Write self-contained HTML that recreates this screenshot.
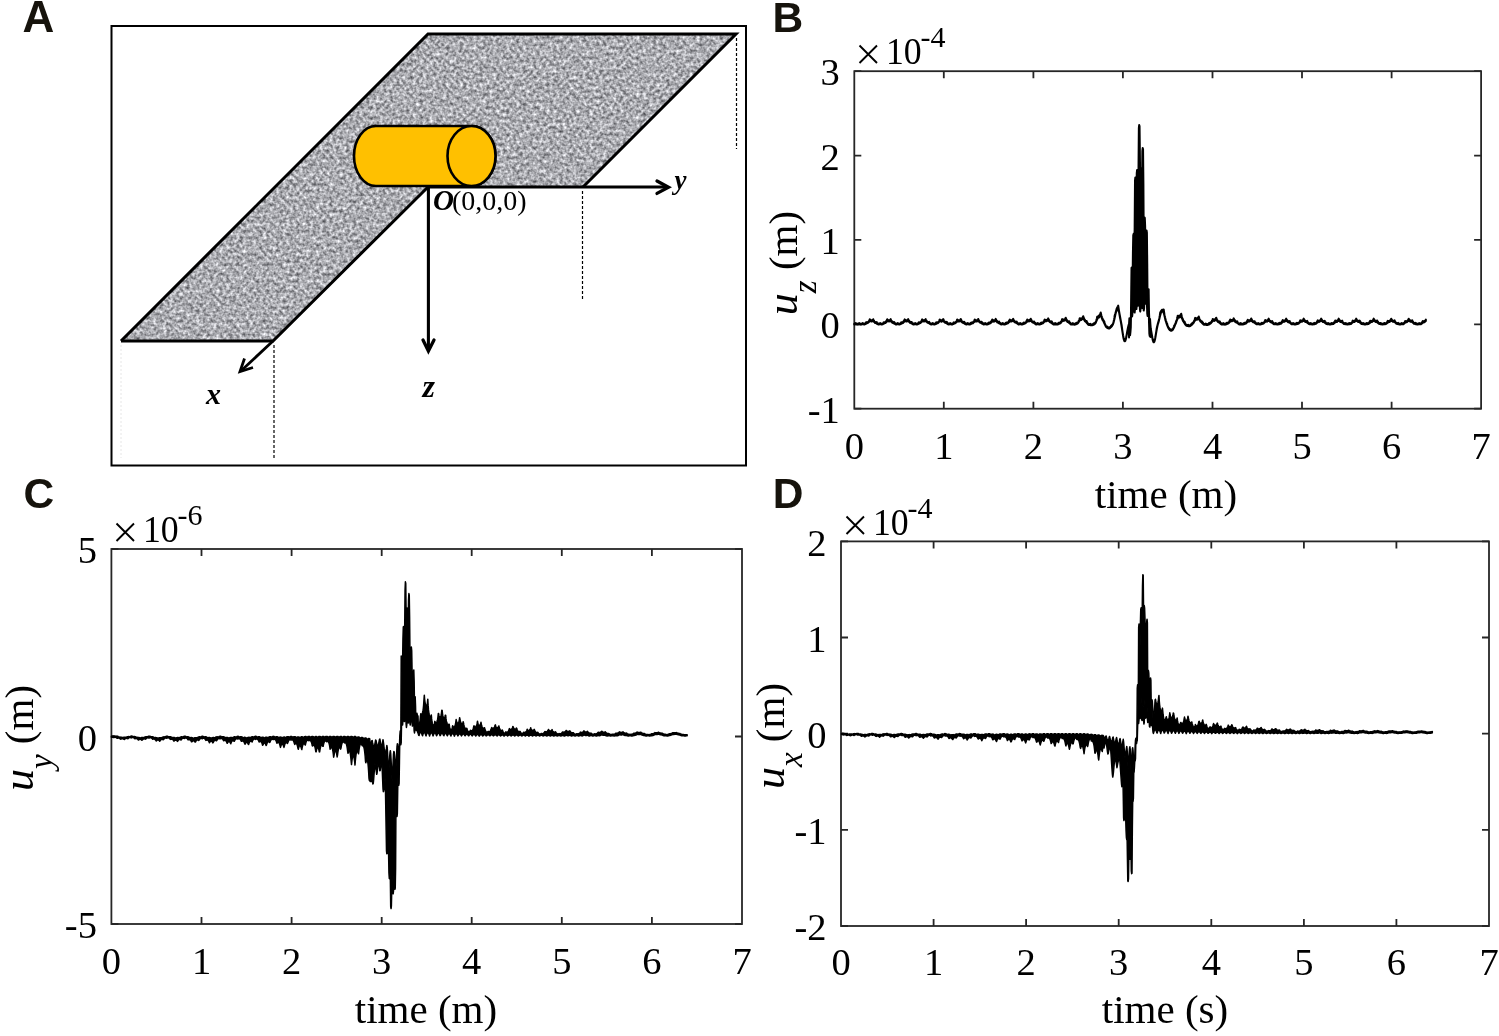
<!DOCTYPE html><html><head><meta charset="utf-8"><style>html,body{margin:0;padding:0;background:#fff;overflow:hidden}svg{display:block;will-change:transform}</style></head><body>
<svg width="1499" height="1036" viewBox="0 0 1499 1036">
<defs><filter id="granite" x="110" y="30" width="640" height="320" filterUnits="userSpaceOnUse" color-interpolation-filters="sRGB"><feTurbulence type="fractalNoise" baseFrequency="0.3" numOctaves="2" seed="7"/><feColorMatrix type="matrix" values="0.95 0 0 0 0.195  0.95 0 0 0 0.198  0.95 0 0 0 0.218  0 0 0 0 1"/><feGaussianBlur stdDeviation="0.65"/></filter>
<clipPath id="strip"><polygon points="428,34 737,34 583,187 428,187 273,341 121,341"/></clipPath></defs>
<rect width="1499" height="1036" fill="#fff"/>
<text font-family="'Liberation Sans', sans-serif" font-weight="bold" font-size="44" fill="#16130c" x="22.5" y="32">A</text>
<text font-family="'Liberation Sans', sans-serif" font-weight="bold" font-size="42.5" fill="#16130c" x="772.5" y="32">B</text>
<text font-family="'Liberation Sans', sans-serif" font-weight="bold" font-size="42.5" fill="#16130c" x="23.5" y="508">C</text>
<text font-family="'Liberation Sans', sans-serif" font-weight="bold" font-size="42.5" fill="#16130c" x="772.8" y="508">D</text>
<rect x="111.5" y="26" width="634.5" height="439.5" fill="none" stroke="#000" stroke-width="2"/>
<g clip-path="url(#strip)"><rect x="110" y="30" width="640" height="320" filter="url(#granite)"/></g>
<path d="M736.5 38V149M582.5 191V300M274 345V458" stroke="#000" stroke-width="1.2" stroke-dasharray="3,2" fill="none"/>
<path d="M121 345V458" stroke="#e6e6e6" stroke-width="1" stroke-dasharray="2,2"/>
<g stroke="#000" stroke-width="3" fill="none" stroke-linejoin="miter">
<path d="M121 341L428 34H736L583 187"/>
<path d="M121 341H273L428 187"/>
</g>
<g stroke="#000" stroke-width="2.6" fill="#FFC000">
<path d="M376 126H471.5A24 30 0 0 1 471.5 186H376A22 30 0 0 1 376 126Z"/>
<ellipse cx="471.5" cy="156" rx="24" ry="30"/>
</g>
<g stroke="#000" stroke-width="2.8" fill="none">
<path d="M428 187H666"/><path d="M657 181L668.5 187.2L657 193.4" stroke-width="3.3" stroke-linecap="round"/>
<path d="M428.4 187V350" stroke-width="3.1"/><path d="M423 340L428.4 351L434 340" stroke-width="3.3" stroke-linecap="round"/>
<path d="M273 341L242 370"/><path d="M244.5 358.5L240 371.5L253 367.5" stroke-linejoin="miter"/>
</g>
<g font-family="'Liberation Serif', serif" font-weight="bold" font-style="italic" fill="#000">
<text x="206" y="404" font-size="30">x</text>
<text x="422.5" y="397" font-size="32">z</text>
<text x="674.5" y="188.5" font-size="27">y</text>
<text x="433" y="210" font-size="29">O</text>
</g>
<text font-family="'Liberation Serif', serif" font-size="28" x="452" y="210">(0,0,0)</text>
<g stroke="#262626" stroke-width="1.8" fill="none">
<rect x="854.3" y="71.2" width="626.8" height="337.5"/>
<path d="M943.8 408.7V401.7M943.8 71.2V78.2M1033.4 408.7V401.7M1033.4 71.2V78.2M1122.9 408.7V401.7M1122.9 71.2V78.2M1212.5 408.7V401.7M1212.5 71.2V78.2M1302.0 408.7V401.7M1302.0 71.2V78.2M1391.6 408.7V401.7M1391.6 71.2V78.2M854.3 71.2H861.3M1481.1 71.2H1474.1M854.3 155.6H861.3M1481.1 155.6H1474.1M854.3 239.9H861.3M1481.1 239.9H1474.1M854.3 324.3H861.3M1481.1 324.3H1474.1M854.3 408.7H861.3M1481.1 408.7H1474.1"/>
</g>
<g font-family="'Liberation Serif', serif" font-size="38.5" fill="#000">
<text x="839.8" y="85.3" text-anchor="end">3</text>
<text x="839.8" y="169.7" text-anchor="end">2</text>
<text x="839.8" y="254.0" text-anchor="end">1</text>
<text x="839.8" y="338.4" text-anchor="end">0</text>
<text x="839.8" y="422.8" text-anchor="end">-1</text>
<text x="854.3" y="458.7" text-anchor="middle">0</text>
<text x="943.8" y="458.7" text-anchor="middle">1</text>
<text x="1033.4" y="458.7" text-anchor="middle">2</text>
<text x="1122.9" y="458.7" text-anchor="middle">3</text>
<text x="1212.5" y="458.7" text-anchor="middle">4</text>
<text x="1302.0" y="458.7" text-anchor="middle">5</text>
<text x="1391.6" y="458.7" text-anchor="middle">6</text>
<text x="1481.1" y="458.7" text-anchor="middle">7</text>
</g>
<path d="M859.5 45.5l17.5 17.5M877.0 45.5l-17.5 17.5" stroke="#000" stroke-width="1.9" fill="none"/>
<text font-family="'Liberation Serif', serif" font-size="38.5" x="886.0" y="64.0" textLength="35.7" lengthAdjust="spacingAndGlyphs">10</text>
<text font-family="'Liberation Serif', serif" font-size="30" x="920.5" y="47.0">-4</text>
<text font-family="'Liberation Serif', serif" font-size="41" x="1166" y="508" text-anchor="middle">time (m)</text>
<text font-family="'Liberation Serif', serif" font-size="41" transform="translate(797,263) rotate(-90)" text-anchor="middle"><tspan font-style="italic" font-size="44">u</tspan><tspan font-style="italic" font-size="33" dy="18.5">z</tspan><tspan dy="-18.5"> (m)</tspan></text>
<path fill="#000" stroke="#000" stroke-width="2.0" stroke-linejoin="round" d="M854.30,323.65 L854.65,323.61 L855.00,323.52 L855.35,323.32 L855.70,322.99 L856.05,323.24 L856.40,323.47 L856.75,323.59 L857.10,323.64 L857.45,323.65 L857.80,323.65 L858.15,323.61 L858.50,323.52 L858.85,323.32 L859.20,322.99 L859.55,323.24 L859.90,323.47 L860.25,323.59 L860.60,323.64 L860.95,323.65 L861.30,323.65 L861.65,323.61 L862.00,323.52 L862.35,323.32 L862.70,322.99 L863.05,323.24 L863.40,323.47 L863.75,323.59 L864.10,323.64 L864.45,323.62 L864.80,323.55 L865.15,323.42 L865.50,323.17 L865.85,322.77 L866.20,322.13 L866.55,322.21 L866.90,322.28 L867.25,322.21 L867.60,322.04 L867.95,321.81 L868.30,321.55 L868.65,321.25 L869.00,320.82 L869.35,320.18 L869.70,319.24 L870.05,319.62 L870.40,320.01 L870.75,320.20 L871.10,320.25 L871.45,320.25 L871.80,320.25 L872.15,320.22 L872.50,320.08 L872.85,319.75 L873.20,319.18 L873.55,319.95 L873.90,320.67 L874.25,321.15 L874.60,321.48 L874.95,321.74 L875.30,321.98 L875.65,322.17 L876.00,322.28 L876.35,322.25 L876.70,322.06 L877.05,322.61 L877.40,323.08 L877.75,323.36 L878.10,323.52 L878.45,323.61 L878.80,323.64 L879.15,323.61 L879.50,323.52 L879.85,323.32 L880.20,322.99 L880.55,323.24 L880.90,323.47 L881.25,323.59 L881.60,323.64 L881.95,323.63 L882.30,323.57 L882.65,323.44 L883.00,323.20 L883.35,322.81 L883.70,322.18 L884.05,322.26 L884.40,322.33 L884.75,322.26 L885.10,322.09 L885.45,321.86 L885.80,321.60 L886.15,321.30 L886.50,320.87 L886.85,320.23 L887.20,319.29 L887.55,319.65 L887.90,320.03 L888.25,320.21 L888.60,320.26 L888.95,320.25 L889.30,320.25 L889.65,320.21 L890.00,320.06 L890.35,319.72 L890.70,319.14 L891.05,319.91 L891.40,320.62 L891.75,321.10 L892.10,321.43 L892.45,321.69 L892.80,321.93 L893.15,322.12 L893.50,322.22 L893.85,322.19 L894.20,322.01 L894.55,322.57 L894.90,323.04 L895.25,323.33 L895.60,323.50 L895.95,323.59 L896.30,323.64 L896.65,323.61 L897.00,323.52 L897.35,323.32 L897.70,322.99 L898.05,323.24 L898.40,323.47 L898.75,323.59 L899.10,323.64 L899.45,323.64 L899.80,323.58 L900.15,323.46 L900.50,323.23 L900.85,322.84 L901.20,322.23 L901.55,322.31 L901.90,322.38 L902.25,322.31 L902.60,322.14 L902.95,321.91 L903.30,321.65 L903.65,321.35 L904.00,320.92 L904.35,320.27 L904.70,319.33 L905.05,319.69 L905.40,320.06 L905.75,320.23 L906.10,320.27 L906.45,320.26 L906.80,320.24 L907.15,320.20 L907.50,320.04 L907.85,319.69 L908.20,319.10 L908.55,319.86 L908.90,320.58 L909.25,321.05 L909.60,321.38 L909.95,321.64 L910.30,321.88 L910.65,322.07 L911.00,322.17 L911.35,322.14 L911.70,321.95 L912.05,322.53 L912.40,323.01 L912.75,323.31 L913.10,323.48 L913.45,323.58 L913.80,323.63 L914.15,323.61 L914.50,323.52 L914.85,323.32 L915.20,322.99 L915.55,323.24 L915.90,323.47 L916.25,323.59 L916.60,323.64 L916.95,323.64 L917.30,323.59 L917.65,323.48 L918.00,323.26 L918.35,322.88 L918.70,322.28 L919.05,322.36 L919.40,322.43 L919.75,322.36 L920.10,322.19 L920.45,321.96 L920.80,321.70 L921.15,321.39 L921.50,320.96 L921.85,320.32 L922.20,319.38 L922.55,319.72 L922.90,320.09 L923.25,320.25 L923.60,320.28 L923.95,320.26 L924.30,320.24 L924.65,320.19 L925.00,320.02 L925.35,319.67 L925.70,319.06 L926.05,319.82 L926.40,320.53 L926.75,321.01 L927.10,321.33 L927.45,321.59 L927.80,321.83 L928.15,322.02 L928.50,322.12 L928.85,322.09 L929.20,321.90 L929.55,322.48 L929.90,322.97 L930.25,323.28 L930.60,323.46 L930.95,323.56 L931.30,323.62 L931.65,323.61 L932.00,323.52 L932.35,323.32 L932.70,322.99 L933.05,323.24 L933.40,323.47 L933.75,323.59 L934.10,323.64 L934.45,323.65 L934.80,323.61 L935.15,323.50 L935.50,323.29 L935.85,322.92 L936.20,322.33 L936.55,322.41 L936.90,322.48 L937.25,322.41 L937.60,322.24 L937.95,322.01 L938.30,321.75 L938.65,321.44 L939.00,321.01 L939.35,320.37 L939.70,319.43 L940.05,319.76 L940.40,320.11 L940.75,320.27 L941.10,320.30 L941.45,320.26 L941.80,320.24 L942.15,320.18 L942.50,320.00 L942.85,319.64 L943.20,319.03 L943.55,319.78 L943.90,320.49 L944.25,320.96 L944.60,321.29 L944.95,321.54 L945.30,321.78 L945.65,321.97 L946.00,322.07 L946.35,322.04 L946.70,321.84 L947.05,322.43 L947.40,322.93 L947.75,323.25 L948.10,323.44 L948.45,323.55 L948.80,323.61 L949.15,323.61 L949.50,323.52 L949.85,323.32 L950.20,322.99 L950.55,323.24 L950.90,323.47 L951.25,323.59 L951.60,323.64 L951.95,323.65 L952.30,323.62 L952.65,323.52 L953.00,323.31 L953.35,322.95 L953.70,322.37 L954.05,322.45 L954.40,322.52 L954.75,322.46 L955.10,322.29 L955.45,322.06 L955.80,321.80 L956.15,321.49 L956.50,321.06 L956.85,320.41 L957.20,319.47 L957.55,319.80 L957.90,320.14 L958.25,320.29 L958.60,320.31 L958.95,320.27 L959.30,320.24 L959.65,320.17 L960.00,319.99 L960.35,319.61 L960.70,318.99 L961.05,319.74 L961.40,320.45 L961.75,320.92 L962.10,321.24 L962.45,321.49 L962.80,321.73 L963.15,321.92 L963.50,322.02 L963.85,321.98 L964.20,321.79 L964.55,322.39 L964.90,322.89 L965.25,323.22 L965.60,323.41 L965.95,323.53 L966.30,323.60 L966.65,323.61 L967.00,323.52 L967.35,323.32 L967.70,322.99 L968.05,323.24 L968.40,323.47 L968.75,323.59 L969.10,323.64 L969.45,323.65 L969.80,323.62 L970.15,323.53 L970.50,323.34 L970.85,322.98 L971.20,322.41 L971.55,322.50 L971.90,322.57 L972.25,322.51 L972.60,322.34 L972.95,322.10 L973.30,321.85 L973.65,321.54 L974.00,321.10 L974.35,320.46 L974.70,319.52 L975.05,319.83 L975.40,320.17 L975.75,320.31 L976.10,320.32 L976.45,320.27 L976.80,320.23 L977.15,320.16 L977.50,319.97 L977.85,319.58 L978.20,318.95 L978.55,319.70 L978.90,320.40 L979.25,320.87 L979.60,321.19 L979.95,321.44 L980.30,321.68 L980.65,321.87 L981.00,321.96 L981.35,321.93 L981.70,321.73 L982.05,322.34 L982.40,322.85 L982.75,323.18 L983.10,323.39 L983.45,323.51 L983.80,323.59 L984.15,323.60 L984.50,323.52 L984.85,323.32 L985.20,322.99 L985.55,323.24 L985.90,323.47 L986.25,323.59 L986.60,323.64 L986.95,323.65 L987.30,323.63 L987.65,323.55 L988.00,323.36 L988.35,323.01 L988.70,322.46 L989.05,322.54 L989.40,322.61 L989.75,322.55 L990.10,322.38 L990.45,322.15 L990.80,321.89 L991.15,321.58 L991.50,321.14 L991.85,320.50 L992.20,319.55 L992.55,319.86 L992.90,320.18 L993.25,320.32 L993.60,320.32 L993.95,320.27 L994.30,320.22 L994.65,320.14 L995.00,319.94 L995.35,319.55 L995.70,318.90 L996.05,319.64 L996.40,320.35 L996.75,320.82 L997.10,321.13 L997.45,321.38 L997.80,321.62 L998.15,321.81 L998.50,321.91 L998.85,321.87 L999.20,321.67 L999.55,322.29 L999.90,322.81 L1000.25,323.15 L1000.60,323.36 L1000.95,323.49 L1001.30,323.58 L1001.65,323.60 L1002.00,323.52 L1002.35,323.32 L1002.70,322.99 L1003.05,323.24 L1003.40,323.47 L1003.75,323.59 L1004.10,323.64 L1004.45,323.65 L1004.80,323.64 L1005.15,323.56 L1005.50,323.38 L1005.85,323.04 L1006.20,322.50 L1006.55,322.59 L1006.90,322.66 L1007.25,322.59 L1007.60,322.42 L1007.95,322.19 L1008.30,321.93 L1008.65,321.61 L1009.00,321.17 L1009.35,320.52 L1009.70,319.57 L1010.05,319.87 L1010.40,320.18 L1010.75,320.31 L1011.10,320.30 L1011.45,320.24 L1011.80,320.19 L1012.15,320.10 L1012.50,319.89 L1012.85,319.49 L1013.20,318.82 L1013.55,319.57 L1013.90,320.28 L1014.25,320.75 L1014.60,321.06 L1014.95,321.31 L1015.30,321.55 L1015.65,321.75 L1016.00,321.84 L1016.35,321.80 L1016.70,321.60 L1017.05,322.23 L1017.40,322.77 L1017.75,323.12 L1018.10,323.33 L1018.45,323.47 L1018.80,323.56 L1019.15,323.59 L1019.50,323.52 L1019.85,323.32 L1020.20,322.99 L1020.55,323.24 L1020.90,323.47 L1021.25,323.59 L1021.60,323.64 L1021.95,323.65 L1022.30,323.64 L1022.65,323.57 L1023.00,323.40 L1023.35,323.07 L1023.70,322.54 L1024.05,322.63 L1024.40,322.69 L1024.75,322.63 L1025.10,322.45 L1025.45,322.21 L1025.80,321.95 L1026.15,321.63 L1026.50,321.18 L1026.85,320.52 L1027.20,319.55 L1027.55,319.83 L1027.90,320.14 L1028.25,320.25 L1028.60,320.24 L1028.95,320.17 L1029.30,320.10 L1029.65,320.00 L1030.00,319.78 L1030.35,319.37 L1030.70,318.68 L1031.05,319.44 L1031.40,320.16 L1031.75,320.64 L1032.10,320.96 L1032.45,321.21 L1032.80,321.46 L1033.15,321.66 L1033.50,321.76 L1033.85,321.72 L1034.20,321.52 L1034.55,322.17 L1034.90,322.72 L1035.25,323.08 L1035.60,323.31 L1035.95,323.45 L1036.30,323.55 L1036.65,323.59 L1037.00,323.52 L1037.35,323.33 L1037.70,323.00 L1038.05,323.25 L1038.40,323.48 L1038.75,323.60 L1039.10,323.65 L1039.45,323.66 L1039.80,323.65 L1040.15,323.59 L1040.50,323.43 L1040.85,323.11 L1041.20,322.58 L1041.55,322.67 L1041.90,322.73 L1042.25,322.65 L1042.60,322.47 L1042.95,322.22 L1043.30,321.93 L1043.65,321.59 L1044.00,321.12 L1044.35,320.43 L1044.70,319.43 L1045.05,319.69 L1045.40,319.99 L1045.75,320.09 L1046.10,320.06 L1046.45,319.97 L1046.80,319.89 L1047.15,319.78 L1047.50,319.55 L1047.85,319.11 L1048.20,318.39 L1048.55,319.18 L1048.90,319.93 L1049.25,320.43 L1049.60,320.77 L1049.95,321.04 L1050.30,321.30 L1050.65,321.51 L1051.00,321.63 L1051.35,321.60 L1051.70,321.41 L1052.05,322.09 L1052.40,322.67 L1052.75,323.05 L1053.10,323.29 L1053.45,323.45 L1053.80,323.56 L1054.15,323.60 L1054.50,323.54 L1054.85,323.35 L1055.20,323.02 L1055.55,323.27 L1055.90,323.51 L1056.25,323.63 L1056.60,323.67 L1056.95,323.68 L1057.30,323.68 L1057.65,323.63 L1058.00,323.47 L1058.35,323.16 L1058.70,322.64 L1059.05,322.72 L1059.40,322.77 L1059.75,322.67 L1060.10,322.46 L1060.45,322.18 L1060.80,321.85 L1061.15,321.47 L1061.50,320.94 L1061.85,320.18 L1062.20,319.08 L1062.55,319.31 L1062.90,319.59 L1063.25,319.66 L1063.60,319.60 L1063.95,319.49 L1064.30,319.38 L1064.65,319.25 L1065.00,318.98 L1065.35,318.50 L1065.70,317.73 L1066.05,318.59 L1066.40,319.42 L1066.75,319.97 L1067.10,320.36 L1067.45,320.68 L1067.80,320.98 L1068.15,321.24 L1068.50,321.40 L1068.85,321.41 L1069.20,321.25 L1069.55,322.00 L1069.90,322.63 L1070.25,323.05 L1070.60,323.32 L1070.95,323.51 L1071.30,323.64 L1071.65,323.69 L1072.00,323.65 L1072.35,323.47 L1072.70,323.15 L1073.05,323.40 L1073.40,323.64 L1073.75,323.76 L1074.10,323.81 L1074.45,323.81 L1074.80,323.80 L1075.15,323.75 L1075.50,323.60 L1075.85,323.31 L1076.20,322.80 L1076.55,322.86 L1076.90,322.88 L1077.25,322.74 L1077.60,322.46 L1077.95,322.10 L1078.30,321.69 L1078.65,321.19 L1079.00,320.52 L1079.35,319.59 L1079.70,318.26 L1080.05,318.42 L1080.40,318.64 L1080.75,318.65 L1081.10,318.51 L1081.45,318.32 L1081.80,318.16 L1082.15,317.97 L1082.50,317.64 L1082.85,317.07 L1083.20,316.17 L1083.55,317.23 L1083.90,318.25 L1084.25,318.96 L1084.60,319.47 L1084.95,319.90 L1085.30,320.33 L1085.65,320.71 L1086.00,320.98 L1086.35,321.11 L1086.70,321.06 L1087.05,321.97 L1087.40,322.74 L1087.75,323.26 L1088.10,323.63 L1088.45,323.89 L1088.80,324.08 L1089.15,324.19 L1089.50,324.19 L1089.85,324.05 L1090.20,323.77 L1090.55,324.05 L1090.90,324.29 L1091.25,324.42 L1091.60,324.46 L1091.95,324.44 L1092.30,324.40 L1092.65,324.32 L1093.00,324.15 L1093.35,323.85 L1093.70,323.35 L1094.05,323.38 L1094.40,323.34 L1094.75,323.12 L1095.10,322.73 L1095.45,322.22 L1095.80,321.60 L1096.15,320.85 L1096.50,319.88 L1096.85,318.55 L1097.20,316.67 L1097.55,316.57 L1097.90,316.58 L1098.25,316.37 L1098.60,315.99 L1098.95,315.57 L1099.30,315.23 L1099.65,314.89 L1100.00,314.41 L1100.35,313.64 L1100.70,312.47 L1101.05,314.04 L1101.40,315.58 L1101.75,316.70 L1102.10,317.57 L1102.45,318.33 L1102.80,319.08 L1103.15,319.79 L1103.50,320.40 L1103.85,320.89 L1104.20,321.21 L1104.55,322.54 L1104.90,323.67 L1105.25,324.53 L1105.60,325.21 L1105.95,325.76 L1106.30,326.22 L1106.65,326.58 L1107.00,326.82 L1107.35,326.89 L1107.70,326.78 L1108.05,327.20 L1108.40,327.52 L1108.75,327.67 L1109.10,327.68 L1109.45,327.59 L1109.80,327.41 L1110.15,327.15 L1110.50,326.78 L1110.85,326.26 L1111.20,325.57 L1111.55,325.41 L1111.90,325.18 L1112.25,324.76 L1112.60,324.17 L1112.95,323.41 L1113.30,322.48 L1113.65,321.33 L1114.00,319.88 L1114.35,317.99 L1114.70,315.51 L1115.05,314.37 L1115.40,313.29 L1115.75,312.03 L1116.10,310.69 L1116.45,309.44 L1116.80,308.44 L1117.15,307.68 L1117.50,307.03 L1117.85,306.35 L1118.20,305.56 L1118.55,307.81 L1118.90,310.17 L1119.25,312.22 L1119.60,314.10 L1119.95,315.96 L1120.30,317.88 L1120.65,319.84 L1121.00,321.78 L1121.35,323.69 L1121.70,325.55 L1122.05,328.23 L1122.40,330.81 L1122.75,333.15 L1123.10,335.27 L1123.45,337.11 L1123.80,338.64 L1124.15,339.74 L1124.50,340.33 L1124.85,340.31 L1125.20,339.66 L1125.55,339.09 L1125.90,338.08 L1126.25,336.62 L1126.60,334.86 L1126.95,332.95 L1127.30,331.03 L1127.65,329.21 L1128.00,327.52 L1128.35,326.00 L1128.70,324.63 L1129.05,324.14 L1129.40,318.36 L1129.75,322.00 L1130.10,319.78 L1130.45,319.33 L1130.80,325.20 L1131.15,297.20 L1131.50,267.78 L1131.85,267.33 L1132.20,271.78 L1132.55,284.22 L1132.90,253.33 L1133.25,235.22 L1133.60,233.89 L1133.95,237.00 L1134.30,251.70 L1134.65,227.20 L1135.00,180.56 L1135.35,177.44 L1135.70,179.67 L1136.05,190.33 L1136.40,195.56 L1136.75,173.00 L1137.10,169.89 L1137.45,171.22 L1137.80,179.50 L1138.15,194.67 L1138.50,169.42 L1138.85,128.00 L1139.20,124.89 L1139.55,126.22 L1139.90,154.25 L1140.25,191.50 L1140.60,171.56 L1140.95,168.44 L1141.30,170.67 L1141.65,183.56 L1142.00,187.56 L1142.35,151.00 L1142.70,147.89 L1143.05,149.22 L1143.40,182.67 L1143.75,243.11 L1144.10,222.89 L1144.45,217.33 L1144.80,217.78 L1145.15,226.36 L1145.50,248.64 L1145.85,245.45 L1146.20,233.56 L1146.55,230.44 L1146.90,232.67 L1147.25,263.60 L1147.60,306.40 L1147.95,295.20 L1148.30,289.78 L1148.65,289.33 L1149.00,312.50 L1149.35,319.67 L1149.70,318.67 L1150.05,319.11 L1150.40,324.29 L1150.75,328.52 L1151.10,330.36 L1151.45,332.33 L1151.80,334.37 L1152.15,336.34 L1152.50,338.07 L1152.85,339.40 L1153.20,340.20 L1153.55,341.10 L1153.90,341.45 L1154.25,341.15 L1154.60,340.27 L1154.95,338.90 L1155.30,337.18 L1155.65,335.20 L1156.00,333.04 L1156.35,330.78 L1156.70,328.43 L1157.05,326.83 L1157.40,325.39 L1157.75,324.01 L1158.10,322.69 L1158.45,321.41 L1158.80,320.15 L1159.15,318.79 L1159.50,317.20 L1159.85,315.17 L1160.20,312.53 L1160.55,311.87 L1160.90,311.44 L1161.25,310.87 L1161.60,310.28 L1161.95,309.82 L1162.30,309.63 L1162.65,309.65 L1163.00,309.71 L1163.35,309.68 L1163.70,309.48 L1164.05,311.87 L1164.40,314.16 L1164.75,316.00 L1165.10,317.53 L1165.45,318.90 L1165.80,320.21 L1166.15,321.41 L1166.50,322.44 L1166.85,323.27 L1167.20,323.88 L1167.55,325.07 L1167.90,326.11 L1168.25,326.93 L1168.60,327.61 L1168.95,328.19 L1169.30,328.69 L1169.65,329.10 L1170.00,329.37 L1170.35,329.45 L1170.70,329.30 L1171.05,329.62 L1171.40,329.82 L1171.75,329.80 L1172.10,329.61 L1172.45,329.29 L1172.80,328.86 L1173.15,328.33 L1173.50,327.64 L1173.85,326.76 L1174.20,325.61 L1174.55,325.04 L1174.90,324.43 L1175.25,323.67 L1175.60,322.81 L1175.95,321.88 L1176.30,320.96 L1176.65,320.02 L1177.00,318.95 L1177.35,317.59 L1177.70,315.70 L1178.05,315.80 L1178.40,316.03 L1178.75,316.02 L1179.10,315.84 L1179.45,315.62 L1179.80,315.49 L1180.15,315.36 L1180.50,315.09 L1180.85,314.57 L1181.20,313.70 L1181.55,315.30 L1181.90,316.82 L1182.25,317.92 L1182.60,318.77 L1182.95,319.50 L1183.30,320.22 L1183.65,320.87 L1184.00,321.39 L1184.35,321.74 L1184.70,321.91 L1185.05,322.88 L1185.40,323.67 L1185.75,324.21 L1186.10,324.57 L1186.45,324.83 L1186.80,325.01 L1187.15,325.13 L1187.50,325.14 L1187.85,325.03 L1188.20,324.77 L1188.55,325.05 L1188.90,325.28 L1189.25,325.37 L1189.60,325.36 L1189.95,325.29 L1190.30,325.17 L1190.65,324.98 L1191.00,324.67 L1191.35,324.18 L1191.70,323.46 L1192.05,323.33 L1192.40,323.18 L1192.75,322.87 L1193.10,322.45 L1193.45,321.96 L1193.80,321.45 L1194.15,320.88 L1194.50,320.17 L1194.85,319.22 L1195.20,317.87 L1195.55,318.09 L1195.90,318.38 L1196.25,318.45 L1196.60,318.36 L1196.95,318.23 L1197.30,318.12 L1197.65,318.00 L1198.00,317.73 L1198.35,317.24 L1198.70,316.43 L1199.05,317.52 L1199.40,318.56 L1199.75,319.29 L1200.10,319.82 L1200.45,320.26 L1200.80,320.70 L1201.15,321.08 L1201.50,321.35 L1201.85,321.48 L1202.20,321.43 L1202.55,322.24 L1202.90,322.92 L1203.25,323.37 L1203.60,323.66 L1203.95,323.84 L1204.30,323.97 L1204.65,324.02 L1205.00,323.97 L1205.35,323.80 L1205.70,323.49 L1206.05,323.75 L1206.40,323.99 L1206.75,324.10 L1207.10,324.14 L1207.45,324.12 L1207.80,324.09 L1208.15,324.00 L1208.50,323.80 L1208.85,323.44 L1209.20,322.86 L1209.55,322.89 L1209.90,322.88 L1210.25,322.74 L1210.60,322.48 L1210.95,322.16 L1211.30,321.80 L1211.65,321.39 L1212.00,320.84 L1212.35,320.06 L1212.70,318.95 L1213.05,319.19 L1213.40,319.48 L1213.75,319.57 L1214.10,319.52 L1214.45,319.41 L1214.80,319.31 L1215.15,319.19 L1215.50,318.94 L1215.85,318.47 L1216.20,317.71 L1216.55,318.59 L1216.90,319.43 L1217.25,319.99 L1217.60,320.39 L1217.95,320.72 L1218.30,321.03 L1218.65,321.30 L1219.00,321.46 L1219.35,321.48 L1219.70,321.33 L1220.05,322.07 L1220.40,322.69 L1220.75,323.09 L1221.10,323.36 L1221.45,323.53 L1221.80,323.65 L1222.15,323.69 L1222.50,323.64 L1222.85,323.45 L1223.20,323.13 L1223.55,323.38 L1223.90,323.62 L1224.25,323.74 L1224.60,323.78 L1224.95,323.79 L1225.30,323.78 L1225.65,323.72 L1226.00,323.56 L1226.35,323.25 L1226.70,322.73 L1227.05,322.81 L1227.40,322.86 L1227.75,322.77 L1228.10,322.58 L1228.45,322.32 L1228.80,322.03 L1229.15,321.68 L1229.50,321.20 L1229.85,320.50 L1230.20,319.49 L1230.55,319.74 L1230.90,320.02 L1231.25,320.10 L1231.60,320.06 L1231.95,319.95 L1232.30,319.86 L1232.65,319.73 L1233.00,319.48 L1233.35,319.02 L1233.70,318.28 L1234.05,319.06 L1234.40,319.81 L1234.75,320.31 L1235.10,320.65 L1235.45,320.91 L1235.80,321.17 L1236.15,321.39 L1236.50,321.51 L1236.85,321.48 L1237.20,321.28 L1237.55,321.98 L1237.90,322.58 L1238.25,322.98 L1238.60,323.23 L1238.95,323.40 L1239.30,323.53 L1239.65,323.58 L1240.00,323.54 L1240.35,323.36 L1240.70,323.03 L1241.05,323.28 L1241.40,323.51 L1241.75,323.63 L1242.10,323.68 L1242.45,323.69 L1242.80,323.68 L1243.15,323.64 L1243.50,323.50 L1243.85,323.22 L1244.20,322.73 L1244.55,322.83 L1244.90,322.91 L1245.25,322.85 L1245.60,322.68 L1245.95,322.45 L1246.30,322.18 L1246.65,321.86 L1247.00,321.41 L1247.35,320.75 L1247.70,319.79 L1248.05,320.03 L1248.40,320.29 L1248.75,320.37 L1249.10,320.32 L1249.45,320.22 L1249.80,320.12 L1250.15,319.98 L1250.50,319.72 L1250.85,319.26 L1251.20,318.52 L1251.55,319.26 L1251.90,319.96 L1252.25,320.42 L1252.60,320.73 L1252.95,320.97 L1253.30,321.21 L1253.65,321.40 L1254.00,321.49 L1254.35,321.44 L1254.70,321.22 L1255.05,321.91 L1255.40,322.50 L1255.75,322.90 L1256.10,323.15 L1256.45,323.33 L1256.80,323.46 L1257.15,323.53 L1257.50,323.49 L1257.85,323.33 L1258.20,323.00 L1258.55,323.25 L1258.90,323.48 L1259.25,323.61 L1259.60,323.65 L1259.95,323.66 L1260.30,323.66 L1260.65,323.62 L1261.00,323.50 L1261.35,323.23 L1261.70,322.76 L1262.05,322.88 L1262.40,322.97 L1262.75,322.92 L1263.10,322.77 L1263.45,322.55 L1263.80,322.30 L1264.15,321.99 L1264.50,321.56 L1264.85,320.92 L1265.20,319.99 L1265.55,320.21 L1265.90,320.46 L1266.25,320.53 L1266.60,320.47 L1266.95,320.36 L1267.30,320.25 L1267.65,320.10 L1268.00,319.84 L1268.35,319.37 L1268.70,318.62 L1269.05,319.33 L1269.40,320.01 L1269.75,320.45 L1270.10,320.74 L1270.45,320.96 L1270.80,321.18 L1271.15,321.36 L1271.50,321.43 L1271.85,321.37 L1272.20,321.13 L1272.55,321.82 L1272.90,322.42 L1273.25,322.82 L1273.60,323.09 L1273.95,323.27 L1274.30,323.41 L1274.65,323.49 L1275.00,323.47 L1275.35,323.31 L1275.70,322.99 L1276.05,323.24 L1276.40,323.47 L1276.75,323.60 L1277.10,323.64 L1277.45,323.65 L1277.80,323.65 L1278.15,323.62 L1278.50,323.51 L1278.85,323.25 L1279.20,322.81 L1279.55,322.94 L1279.90,323.03 L1280.25,323.00 L1280.60,322.85 L1280.95,322.64 L1281.30,322.40 L1281.65,322.10 L1282.00,321.68 L1282.35,321.05 L1282.70,320.13 L1283.05,320.34 L1283.40,320.58 L1283.75,320.64 L1284.10,320.57 L1284.45,320.45 L1284.80,320.33 L1285.15,320.17 L1285.50,319.89 L1285.85,319.41 L1286.20,318.65 L1286.55,319.34 L1286.90,320.00 L1287.25,320.43 L1287.60,320.71 L1287.95,320.92 L1288.30,321.12 L1288.65,321.29 L1289.00,321.36 L1289.35,321.28 L1289.70,321.03 L1290.05,321.73 L1290.40,322.34 L1290.75,322.74 L1291.10,323.02 L1291.45,323.21 L1291.80,323.36 L1292.15,323.45 L1292.50,323.44 L1292.85,323.30 L1293.20,322.99 L1293.55,323.24 L1293.90,323.47 L1294.25,323.59 L1294.60,323.64 L1294.95,323.65 L1295.30,323.65 L1295.65,323.61 L1296.00,323.51 L1296.35,323.28 L1296.70,322.85 L1297.05,322.99 L1297.40,323.10 L1297.75,323.07 L1298.10,322.93 L1298.45,322.73 L1298.80,322.49 L1299.15,322.20 L1299.50,321.78 L1299.85,321.17 L1300.20,320.26 L1300.55,320.46 L1300.90,320.68 L1301.25,320.72 L1301.60,320.65 L1301.95,320.51 L1302.30,320.38 L1302.65,320.22 L1303.00,319.93 L1303.35,319.43 L1303.70,318.66 L1304.05,319.33 L1304.40,319.98 L1304.75,320.39 L1305.10,320.66 L1305.45,320.86 L1305.80,321.06 L1306.15,321.21 L1306.50,321.27 L1306.85,321.18 L1307.20,320.91 L1307.55,321.63 L1307.90,322.25 L1308.25,322.66 L1308.60,322.94 L1308.95,323.14 L1309.30,323.30 L1309.65,323.40 L1310.00,323.41 L1310.35,323.28 L1310.70,322.99 L1311.05,323.24 L1311.40,323.47 L1311.75,323.59 L1312.10,323.64 L1312.45,323.65 L1312.80,323.65 L1313.15,323.61 L1313.50,323.52 L1313.85,323.30 L1314.20,322.89 L1314.55,323.04 L1314.90,323.15 L1315.25,323.13 L1315.60,323.01 L1315.95,322.81 L1316.30,322.58 L1316.65,322.29 L1317.00,321.88 L1317.35,321.28 L1317.70,320.38 L1318.05,320.57 L1318.40,320.77 L1318.75,320.81 L1319.10,320.72 L1319.45,320.58 L1319.80,320.43 L1320.15,320.25 L1320.50,319.95 L1320.85,319.44 L1321.20,318.66 L1321.55,319.31 L1321.90,319.95 L1322.25,320.35 L1322.60,320.61 L1322.95,320.80 L1323.30,320.98 L1323.65,321.13 L1324.00,321.18 L1324.35,321.08 L1324.70,320.80 L1325.05,321.52 L1325.40,322.16 L1325.75,322.58 L1326.10,322.87 L1326.45,323.08 L1326.80,323.25 L1327.15,323.36 L1327.50,323.37 L1327.85,323.25 L1328.20,322.98 L1328.55,323.24 L1328.90,323.47 L1329.25,323.59 L1329.60,323.64 L1329.95,323.65 L1330.30,323.65 L1330.65,323.61 L1331.00,323.52 L1331.35,323.31 L1331.70,322.92 L1332.05,323.09 L1332.40,323.21 L1332.75,323.19 L1333.10,323.08 L1333.45,322.89 L1333.80,322.67 L1334.15,322.39 L1334.50,321.98 L1334.85,321.38 L1335.20,320.50 L1335.55,320.67 L1335.90,320.86 L1336.25,320.89 L1336.60,320.79 L1336.95,320.64 L1337.30,320.48 L1337.65,320.29 L1338.00,319.98 L1338.35,319.46 L1338.70,318.65 L1339.05,319.29 L1339.40,319.92 L1339.75,320.31 L1340.10,320.55 L1340.45,320.73 L1340.80,320.91 L1341.15,321.05 L1341.50,321.09 L1341.85,320.98 L1342.20,320.68 L1342.55,321.42 L1342.90,322.06 L1343.25,322.49 L1343.60,322.79 L1343.95,323.01 L1344.30,323.18 L1344.65,323.30 L1345.00,323.33 L1345.35,323.22 L1345.70,322.96 L1346.05,323.24 L1346.40,323.47 L1346.75,323.59 L1347.10,323.64 L1347.45,323.65 L1347.80,323.65 L1348.15,323.61 L1348.50,323.52 L1348.85,323.32 L1349.20,322.95 L1349.55,323.12 L1349.90,323.26 L1350.25,323.25 L1350.60,323.14 L1350.95,322.97 L1351.30,322.75 L1351.65,322.47 L1352.00,322.08 L1352.35,321.49 L1352.70,320.62 L1353.05,320.78 L1353.40,320.96 L1353.75,320.97 L1354.10,320.86 L1354.45,320.70 L1354.80,320.54 L1355.15,320.33 L1355.50,320.01 L1355.85,319.47 L1356.20,318.65 L1356.55,319.28 L1356.90,319.89 L1357.25,320.27 L1357.60,320.50 L1357.95,320.67 L1358.30,320.84 L1358.65,320.97 L1359.00,321.00 L1359.35,320.88 L1359.70,320.57 L1360.05,321.31 L1360.40,321.96 L1360.75,322.40 L1361.10,322.71 L1361.45,322.93 L1361.80,323.12 L1362.15,323.25 L1362.50,323.28 L1362.85,323.19 L1363.20,322.94 L1363.55,323.23 L1363.90,323.47 L1364.25,323.59 L1364.60,323.64 L1364.95,323.65 L1365.30,323.65 L1365.65,323.61 L1366.00,323.52 L1366.35,323.32 L1366.70,322.97 L1367.05,323.16 L1367.40,323.30 L1367.75,323.31 L1368.10,323.21 L1368.45,323.04 L1368.80,322.83 L1369.15,322.56 L1369.50,322.17 L1369.85,321.60 L1370.20,320.74 L1370.55,320.89 L1370.90,321.05 L1371.25,321.05 L1371.60,320.94 L1371.95,320.77 L1372.30,320.59 L1372.65,320.38 L1373.00,320.04 L1373.35,319.49 L1373.70,318.66 L1374.05,319.27 L1374.40,319.86 L1374.75,320.23 L1375.10,320.45 L1375.45,320.61 L1375.80,320.77 L1376.15,320.90 L1376.50,320.92 L1376.85,320.78 L1377.20,320.45 L1377.55,321.20 L1377.90,321.87 L1378.25,322.31 L1378.60,322.62 L1378.95,322.85 L1379.30,323.05 L1379.65,323.19 L1380.00,323.23 L1380.35,323.15 L1380.70,322.91 L1381.05,323.22 L1381.40,323.47 L1381.75,323.59 L1382.10,323.64 L1382.45,323.65 L1382.80,323.65 L1383.15,323.61 L1383.50,323.52 L1383.85,323.32 L1384.20,322.98 L1384.55,323.19 L1384.90,323.34 L1385.25,323.36 L1385.60,323.27 L1385.95,323.11 L1386.30,322.91 L1386.65,322.65 L1387.00,322.27 L1387.35,321.70 L1387.70,320.86 L1388.05,320.99 L1388.40,321.15 L1388.75,321.14 L1389.10,321.01 L1389.45,320.83 L1389.80,320.65 L1390.15,320.43 L1390.50,320.08 L1390.85,319.52 L1391.20,318.67 L1391.55,319.26 L1391.90,319.84 L1392.25,320.20 L1392.60,320.41 L1392.95,320.56 L1393.30,320.71 L1393.65,320.82 L1394.00,320.83 L1394.35,320.68 L1394.70,320.34 L1395.05,321.09 L1395.40,321.77 L1395.75,322.22 L1396.10,322.54 L1396.45,322.78 L1396.80,322.98 L1397.15,323.13 L1397.50,323.18 L1397.85,323.10 L1398.20,322.87 L1398.55,323.21 L1398.90,323.47 L1399.25,323.59 L1399.60,323.64 L1399.95,323.65 L1400.30,323.65 L1400.65,323.61 L1401.00,323.52 L1401.35,323.32 L1401.70,322.99 L1402.05,323.21 L1402.40,323.37 L1402.75,323.40 L1403.10,323.32 L1403.45,323.17 L1403.80,322.98 L1404.15,322.73 L1404.50,322.36 L1404.85,321.80 L1405.20,320.98 L1405.55,321.10 L1405.90,321.24 L1406.25,321.23 L1406.60,321.09 L1406.95,320.91 L1407.30,320.71 L1407.65,320.48 L1408.00,320.12 L1408.35,319.55 L1408.70,318.69 L1409.05,319.26 L1409.40,319.83 L1409.75,320.17 L1410.10,320.37 L1410.45,320.51 L1410.80,320.65 L1411.15,320.75 L1411.50,320.75 L1411.85,320.58 L1412.20,320.22 L1412.55,320.98 L1412.90,321.67 L1413.25,322.13 L1413.60,322.45 L1413.95,322.69 L1414.30,322.90 L1414.65,323.06 L1415.00,323.12 L1415.35,323.05 L1415.70,322.83 L1416.05,323.18 L1416.40,323.46 L1416.75,323.59 L1417.10,323.64 L1417.45,323.65 L1417.80,323.65 L1418.15,323.61 L1418.50,323.52 L1418.85,323.32 L1419.20,322.99 L1419.55,323.22 L1419.90,323.40 L1420.25,323.44 L1420.60,323.38 L1420.95,323.24 L1421.30,323.06 L1421.65,322.81 L1422.00,322.45 L1422.35,321.91 L1422.70,321.09 L1423.05,321.21 L1423.40,321.34 L1423.75,321.32 L1424.10,321.18 L1424.45,320.98 L1424.80,320.78 L1425.15,320.53 L1425.50,320.17 L1425.85,319.59 L1425.85,321.08 L1425.50,321.23 L1425.15,321.48 L1424.80,321.84 L1424.45,322.23 L1424.10,322.15 L1423.75,322.22 L1423.40,322.39 L1423.05,322.62 L1422.70,322.86 L1422.35,323.11 L1422.00,323.37 L1421.65,323.65 L1421.30,323.94 L1420.95,324.21 L1420.60,324.21 L1420.25,324.25 L1419.90,324.30 L1419.55,324.34 L1419.20,324.35 L1418.85,324.35 L1418.50,324.37 L1418.15,324.41 L1417.80,324.49 L1417.45,324.57 L1417.10,324.46 L1416.75,324.39 L1416.40,324.36 L1416.05,324.30 L1415.70,324.23 L1415.35,324.12 L1415.00,324.00 L1414.65,323.88 L1414.30,323.80 L1413.95,323.73 L1413.60,323.34 L1413.25,323.00 L1412.90,322.70 L1412.55,322.43 L1412.20,322.18 L1411.85,321.95 L1411.50,321.77 L1411.15,321.68 L1410.80,321.72 L1410.45,321.81 L1410.10,321.40 L1409.75,321.14 L1409.40,321.00 L1409.05,320.95 L1408.70,320.98 L1408.35,321.05 L1408.00,321.19 L1407.65,321.42 L1407.30,321.78 L1406.95,322.16 L1406.60,322.08 L1406.25,322.14 L1405.90,322.30 L1405.55,322.52 L1405.20,322.77 L1404.85,323.02 L1404.50,323.29 L1404.15,323.57 L1403.80,323.88 L1403.45,324.15 L1403.10,324.16 L1402.75,324.21 L1402.40,324.27 L1402.05,324.32 L1401.70,324.35 L1401.35,324.35 L1401.00,324.37 L1400.65,324.41 L1400.30,324.49 L1399.95,324.57 L1399.60,324.46 L1399.25,324.39 L1398.90,324.36 L1398.55,324.32 L1398.20,324.26 L1397.85,324.16 L1397.50,324.05 L1397.15,323.95 L1396.80,323.87 L1396.45,323.80 L1396.10,323.43 L1395.75,323.09 L1395.40,322.79 L1395.05,322.52 L1394.70,322.27 L1394.35,322.04 L1394.00,321.85 L1393.65,321.75 L1393.30,321.77 L1392.95,321.86 L1392.60,321.44 L1392.25,321.16 L1391.90,321.01 L1391.55,320.95 L1391.20,320.96 L1390.85,321.02 L1390.50,321.15 L1390.15,321.37 L1389.80,321.72 L1389.45,322.10 L1389.10,322.00 L1388.75,322.06 L1388.40,322.21 L1388.05,322.43 L1387.70,322.68 L1387.35,322.93 L1387.00,323.20 L1386.65,323.49 L1386.30,323.81 L1385.95,324.09 L1385.60,324.11 L1385.25,324.17 L1384.90,324.24 L1384.55,324.30 L1384.20,324.34 L1383.85,324.35 L1383.50,324.37 L1383.15,324.41 L1382.80,324.49 L1382.45,324.57 L1382.10,324.46 L1381.75,324.39 L1381.40,324.36 L1381.05,324.34 L1380.70,324.29 L1380.35,324.20 L1380.00,324.10 L1379.65,324.01 L1379.30,323.94 L1378.95,323.87 L1378.60,323.51 L1378.25,323.18 L1377.90,322.88 L1377.55,322.61 L1377.20,322.36 L1376.85,322.12 L1376.50,321.93 L1376.15,321.82 L1375.80,321.83 L1375.45,321.90 L1375.10,321.48 L1374.75,321.19 L1374.40,321.03 L1374.05,320.96 L1373.70,320.95 L1373.35,321.00 L1373.00,321.11 L1372.65,321.33 L1372.30,321.67 L1371.95,322.04 L1371.60,321.93 L1371.25,321.97 L1370.90,322.12 L1370.55,322.34 L1370.20,322.59 L1369.85,322.84 L1369.50,323.11 L1369.15,323.41 L1368.80,323.73 L1368.45,324.03 L1368.10,324.05 L1367.75,324.12 L1367.40,324.20 L1367.05,324.28 L1366.70,324.33 L1366.35,324.35 L1366.00,324.37 L1365.65,324.41 L1365.30,324.49 L1364.95,324.57 L1364.60,324.46 L1364.25,324.39 L1363.90,324.36 L1363.55,324.35 L1363.20,324.31 L1362.85,324.24 L1362.50,324.15 L1362.15,324.06 L1361.80,324.00 L1361.45,323.94 L1361.10,323.59 L1360.75,323.26 L1360.40,322.97 L1360.05,322.70 L1359.70,322.45 L1359.35,322.21 L1359.00,322.01 L1358.65,321.90 L1358.30,321.90 L1357.95,321.96 L1357.60,321.52 L1357.25,321.23 L1356.90,321.05 L1356.55,320.97 L1356.20,320.95 L1355.85,320.98 L1355.50,321.08 L1355.15,321.29 L1354.80,321.62 L1354.45,321.98 L1354.10,321.86 L1353.75,321.90 L1353.40,322.04 L1353.05,322.25 L1352.70,322.49 L1352.35,322.75 L1352.00,323.02 L1351.65,323.33 L1351.30,323.66 L1350.95,323.97 L1350.60,324.00 L1350.25,324.07 L1349.90,324.16 L1349.55,324.25 L1349.20,324.32 L1348.85,324.35 L1348.50,324.37 L1348.15,324.41 L1347.80,324.49 L1347.45,324.57 L1347.10,324.46 L1346.75,324.39 L1346.40,324.36 L1346.05,324.35 L1345.70,324.33 L1345.35,324.27 L1345.00,324.19 L1344.65,324.12 L1344.30,324.06 L1343.95,324.00 L1343.60,323.66 L1343.25,323.35 L1342.90,323.06 L1342.55,322.79 L1342.20,322.54 L1341.85,322.30 L1341.50,322.10 L1341.15,321.97 L1340.80,321.96 L1340.45,322.01 L1340.10,321.57 L1339.75,321.26 L1339.40,321.08 L1339.05,320.98 L1338.70,320.95 L1338.35,320.96 L1338.00,321.05 L1337.65,321.25 L1337.30,321.57 L1336.95,321.93 L1336.60,321.79 L1336.25,321.82 L1335.90,321.95 L1335.55,322.16 L1335.20,322.40 L1334.85,322.65 L1334.50,322.93 L1334.15,323.24 L1333.80,323.58 L1333.45,323.90 L1333.10,323.93 L1332.75,324.01 L1332.40,324.12 L1332.05,324.22 L1331.70,324.30 L1331.35,324.34 L1331.00,324.37 L1330.65,324.41 L1330.30,324.49 L1329.95,324.57 L1329.60,324.46 L1329.25,324.39 L1328.90,324.36 L1328.55,324.35 L1328.20,324.34 L1327.85,324.30 L1327.50,324.23 L1327.15,324.16 L1326.80,324.12 L1326.45,324.07 L1326.10,323.74 L1325.75,323.43 L1325.40,323.15 L1325.05,322.88 L1324.70,322.63 L1324.35,322.39 L1324.00,322.18 L1323.65,322.05 L1323.30,322.03 L1322.95,322.06 L1322.60,321.62 L1322.25,321.31 L1321.90,321.10 L1321.55,321.00 L1321.20,320.95 L1320.85,320.95 L1320.50,321.03 L1320.15,321.21 L1319.80,321.52 L1319.45,321.87 L1319.10,321.73 L1318.75,321.74 L1318.40,321.87 L1318.05,322.07 L1317.70,322.31 L1317.35,322.56 L1317.00,322.84 L1316.65,323.15 L1316.30,323.50 L1315.95,323.83 L1315.60,323.87 L1315.25,323.95 L1314.90,324.07 L1314.55,324.18 L1314.20,324.27 L1313.85,324.33 L1313.50,324.37 L1313.15,324.41 L1312.80,324.49 L1312.45,324.57 L1312.10,324.46 L1311.75,324.40 L1311.40,324.36 L1311.05,324.35 L1310.70,324.35 L1310.35,324.32 L1310.00,324.27 L1309.65,324.21 L1309.30,324.17 L1308.95,324.13 L1308.60,323.81 L1308.25,323.51 L1307.90,323.23 L1307.55,322.97 L1307.20,322.72 L1306.85,322.48 L1306.50,322.27 L1306.15,322.13 L1305.80,322.10 L1305.45,322.12 L1305.10,321.67 L1304.75,321.35 L1304.40,321.13 L1304.05,321.01 L1303.70,320.95 L1303.35,320.94 L1303.00,321.00 L1302.65,321.17 L1302.30,321.48 L1301.95,321.82 L1301.60,321.66 L1301.25,321.66 L1300.90,321.78 L1300.55,321.98 L1300.20,322.21 L1299.85,322.46 L1299.50,322.74 L1299.15,323.06 L1298.80,323.42 L1298.45,323.76 L1298.10,323.80 L1297.75,323.89 L1297.40,324.01 L1297.05,324.14 L1296.70,324.24 L1296.35,324.32 L1296.00,324.37 L1295.65,324.41 L1295.30,324.49 L1294.95,324.57 L1294.60,324.46 L1294.25,324.40 L1293.90,324.36 L1293.55,324.35 L1293.20,324.35 L1292.85,324.33 L1292.50,324.30 L1292.15,324.25 L1291.80,324.22 L1291.45,324.18 L1291.10,323.87 L1290.75,323.59 L1290.40,323.32 L1290.05,323.06 L1289.70,322.81 L1289.35,322.56 L1289.00,322.35 L1288.65,322.20 L1288.30,322.16 L1287.95,322.17 L1287.60,321.71 L1287.25,321.38 L1286.90,321.16 L1286.55,321.02 L1286.20,320.95 L1285.85,320.92 L1285.50,320.97 L1285.15,321.13 L1284.80,321.42 L1284.45,321.76 L1284.10,321.59 L1283.75,321.58 L1283.40,321.69 L1283.05,321.88 L1282.70,322.11 L1282.35,322.36 L1282.00,322.64 L1281.65,322.97 L1281.30,323.34 L1280.95,323.69 L1280.60,323.72 L1280.25,323.83 L1279.90,323.96 L1279.55,324.09 L1279.20,324.21 L1278.85,324.30 L1278.50,324.36 L1278.15,324.41 L1277.80,324.49 L1277.45,324.57 L1277.10,324.46 L1276.75,324.40 L1276.40,324.37 L1276.05,324.35 L1275.70,324.35 L1275.35,324.35 L1275.00,324.32 L1274.65,324.29 L1274.30,324.27 L1273.95,324.24 L1273.60,323.94 L1273.25,323.66 L1272.90,323.39 L1272.55,323.14 L1272.20,322.89 L1271.85,322.64 L1271.50,322.42 L1271.15,322.26 L1270.80,322.21 L1270.45,322.21 L1270.10,321.74 L1269.75,321.40 L1269.40,321.16 L1269.05,321.01 L1268.70,320.92 L1268.35,320.88 L1268.00,320.92 L1267.65,321.07 L1267.30,321.35 L1266.95,321.68 L1266.60,321.49 L1266.25,321.48 L1265.90,321.58 L1265.55,321.77 L1265.20,321.99 L1264.85,322.25 L1264.50,322.53 L1264.15,322.86 L1263.80,323.24 L1263.45,323.61 L1263.10,323.65 L1262.75,323.76 L1262.40,323.90 L1262.05,324.05 L1261.70,324.17 L1261.35,324.28 L1261.00,324.35 L1260.65,324.42 L1260.30,324.50 L1259.95,324.58 L1259.60,324.47 L1259.25,324.41 L1258.90,324.37 L1258.55,324.36 L1258.20,324.36 L1257.85,324.36 L1257.50,324.35 L1257.15,324.33 L1256.80,324.32 L1256.45,324.29 L1256.10,324.01 L1255.75,323.73 L1255.40,323.47 L1255.05,323.21 L1254.70,322.96 L1254.35,322.70 L1254.00,322.47 L1253.65,322.30 L1253.30,322.24 L1252.95,322.22 L1252.60,321.74 L1252.25,321.38 L1251.90,321.12 L1251.55,320.95 L1251.20,320.85 L1250.85,320.79 L1250.50,320.81 L1250.15,320.95 L1249.80,321.23 L1249.45,321.56 L1249.10,321.36 L1248.75,321.33 L1248.40,321.43 L1248.05,321.61 L1247.70,321.84 L1247.35,322.10 L1247.00,322.40 L1246.65,322.74 L1246.30,323.14 L1245.95,323.51 L1245.60,323.56 L1245.25,323.68 L1244.90,323.84 L1244.55,324.00 L1244.20,324.15 L1243.85,324.27 L1243.50,324.36 L1243.15,324.44 L1242.80,324.52 L1242.45,324.61 L1242.10,324.50 L1241.75,324.44 L1241.40,324.40 L1241.05,324.39 L1240.70,324.39 L1240.35,324.39 L1240.00,324.39 L1239.65,324.38 L1239.30,324.38 L1238.95,324.36 L1238.60,324.08 L1238.25,323.81 L1237.90,323.54 L1237.55,323.28 L1237.20,323.01 L1236.85,322.74 L1236.50,322.49 L1236.15,322.29 L1235.80,322.21 L1235.45,322.17 L1235.10,321.66 L1234.75,321.27 L1234.40,320.98 L1234.05,320.78 L1233.70,320.66 L1233.35,320.58 L1233.00,320.59 L1232.65,320.71 L1232.30,320.99 L1231.95,321.32 L1231.60,321.11 L1231.25,321.07 L1230.90,321.17 L1230.55,321.36 L1230.20,321.61 L1229.85,321.88 L1229.50,322.20 L1229.15,322.57 L1228.80,323.00 L1228.45,323.41 L1228.10,323.47 L1227.75,323.62 L1227.40,323.80 L1227.05,323.99 L1226.70,324.16 L1226.35,324.30 L1226.00,324.42 L1225.65,324.52 L1225.30,324.62 L1224.95,324.71 L1224.60,324.60 L1224.25,324.54 L1223.90,324.51 L1223.55,324.50 L1223.20,324.49 L1222.85,324.49 L1222.50,324.49 L1222.15,324.49 L1221.80,324.50 L1221.45,324.48 L1221.10,324.20 L1220.75,323.92 L1220.40,323.64 L1220.05,323.35 L1219.70,323.05 L1219.35,322.74 L1219.00,322.44 L1218.65,322.20 L1218.30,322.07 L1217.95,321.99 L1217.60,321.42 L1217.25,320.97 L1216.90,320.62 L1216.55,320.38 L1216.20,320.21 L1215.85,320.09 L1215.50,320.08 L1215.15,320.20 L1214.80,320.49 L1214.45,320.85 L1214.10,320.60 L1213.75,320.56 L1213.40,320.68 L1213.05,320.90 L1212.70,321.18 L1212.35,321.49 L1212.00,321.86 L1211.65,322.29 L1211.30,322.79 L1210.95,323.27 L1210.60,323.38 L1210.25,323.59 L1209.90,323.83 L1209.55,324.08 L1209.20,324.31 L1208.85,324.50 L1208.50,324.66 L1208.15,324.80 L1207.80,324.93 L1207.45,325.04 L1207.10,324.96 L1206.75,324.90 L1206.40,324.88 L1206.05,324.86 L1205.70,324.85 L1205.35,324.83 L1205.00,324.82 L1204.65,324.81 L1204.30,324.81 L1203.95,324.78 L1203.60,324.49 L1203.25,324.19 L1202.90,323.87 L1202.55,323.52 L1202.20,323.15 L1201.85,322.74 L1201.50,322.35 L1201.15,322.00 L1200.80,321.77 L1200.45,321.60 L1200.10,320.88 L1199.75,320.29 L1199.40,319.82 L1199.05,319.47 L1198.70,319.20 L1198.35,319.02 L1198.00,318.95 L1197.65,319.06 L1197.30,319.39 L1196.95,319.81 L1196.60,319.52 L1196.25,319.49 L1195.90,319.66 L1195.55,319.95 L1195.20,320.33 L1194.85,320.75 L1194.50,321.23 L1194.15,321.81 L1193.80,322.47 L1193.45,323.11 L1193.10,323.37 L1192.75,323.73 L1192.40,324.14 L1192.05,324.54 L1191.70,324.92 L1191.35,325.24 L1191.00,325.53 L1190.65,325.78 L1190.30,326.01 L1189.95,326.21 L1189.60,326.18 L1189.25,326.18 L1188.90,326.17 L1188.55,326.16 L1188.20,326.13 L1187.85,326.07 L1187.50,326.00 L1187.15,325.92 L1186.80,325.86 L1186.45,325.75 L1186.10,325.40 L1185.75,325.02 L1185.40,324.60 L1185.05,324.13 L1184.70,323.60 L1184.35,323.01 L1184.00,322.39 L1183.65,321.80 L1183.30,321.33 L1182.95,320.93 L1182.60,319.90 L1182.25,318.99 L1181.90,318.21 L1181.55,317.57 L1181.20,317.06 L1180.85,316.67 L1180.50,316.48 L1180.15,316.55 L1179.80,316.96 L1179.45,317.52 L1179.10,317.16 L1178.75,317.18 L1178.40,317.49 L1178.05,318.00 L1177.70,318.64 L1177.35,319.33 L1177.00,320.09 L1176.65,320.99 L1176.30,322.03 L1175.95,323.09 L1175.60,323.74 L1175.25,324.54 L1174.90,325.39 L1174.55,326.25 L1174.20,327.06 L1173.85,327.81 L1173.50,328.50 L1173.15,329.13 L1172.80,329.70 L1172.45,330.21 L1172.10,330.43 L1171.75,330.60 L1171.40,330.71 L1171.05,330.73 L1170.70,330.66 L1170.35,330.48 L1170.00,330.22 L1169.65,329.90 L1169.30,329.53 L1168.95,329.11 L1168.60,328.43 L1168.25,327.74 L1167.90,327.01 L1167.55,326.23 L1167.20,325.37 L1166.85,324.41 L1166.50,323.38 L1166.15,322.29 L1165.80,321.23 L1165.45,320.20 L1165.10,318.60 L1164.75,317.03 L1164.40,315.51 L1164.05,314.11 L1163.70,312.87 L1163.35,311.83 L1163.00,311.13 L1162.65,310.87 L1162.30,311.17 L1161.95,311.83 L1161.60,311.65 L1161.25,312.06 L1160.90,312.93 L1160.55,314.11 L1160.20,315.46 L1159.85,316.88 L1159.50,318.31 L1159.15,319.74 L1158.80,321.17 L1158.45,322.54 L1158.10,323.59 L1157.75,324.85 L1157.40,326.32 L1157.05,327.98 L1156.70,329.83 L1156.35,331.82 L1156.00,333.90 L1155.65,336.00 L1155.30,338.02 L1154.95,339.82 L1154.60,341.08 L1154.25,341.95 L1153.90,342.34 L1153.55,342.21 L1153.20,341.56 L1152.85,340.44 L1152.50,338.92 L1152.15,337.13 L1151.80,335.21 L1151.45,333.25 L1151.10,331.18 L1150.75,329.32 L1150.40,336.93 L1150.05,333.20 L1149.70,336.00 L1149.35,333.67 L1149.00,321.75 L1148.65,306.00 L1148.30,310.08 L1147.95,313.67 L1147.60,316.00 L1147.25,313.67 L1146.90,303.00 L1146.55,294.68 L1146.20,300.56 L1145.85,303.80 L1145.50,303.40 L1145.15,299.32 L1144.80,292.04 L1144.45,300.60 L1144.10,308.33 L1143.75,310.56 L1143.40,307.44 L1143.05,297.00 L1142.70,297.33 L1142.35,304.89 L1142.00,308.00 L1141.65,304.89 L1141.30,297.33 L1140.95,297.33 L1140.60,308.44 L1140.25,311.56 L1139.90,309.33 L1139.55,301.20 L1139.20,292.20 L1138.85,300.60 L1138.50,305.22 L1138.15,305.67 L1137.80,301.91 L1137.45,294.27 L1137.10,296.45 L1136.75,306.00 L1136.40,309.11 L1136.05,307.78 L1135.70,301.50 L1135.35,297.75 L1135.00,309.44 L1134.65,312.56 L1134.30,310.33 L1133.95,306.65 L1133.60,302.53 L1133.25,299.88 L1132.90,306.06 L1132.55,312.24 L1132.20,316.22 L1131.85,316.67 L1131.50,313.09 L1131.15,306.73 L1130.80,327.20 L1130.45,332.00 L1130.10,335.11 L1129.75,333.78 L1129.40,334.00 L1129.05,337.50 L1128.70,325.99 L1128.35,327.03 L1128.00,328.37 L1127.65,330.00 L1127.30,331.87 L1126.95,333.87 L1126.60,335.68 L1126.25,337.43 L1125.90,338.97 L1125.55,340.20 L1125.20,341.02 L1124.85,341.35 L1124.50,341.18 L1124.15,340.54 L1123.80,339.48 L1123.45,338.04 L1123.10,336.09 L1122.75,333.96 L1122.40,331.72 L1122.05,329.44 L1121.70,327.16 L1121.35,324.92 L1121.00,322.76 L1120.65,320.76 L1120.30,319.00 L1119.95,317.42 L1119.60,315.27 L1119.25,313.33 L1118.90,311.65 L1118.55,310.28 L1118.20,309.25 L1117.85,308.62 L1117.50,308.48 L1117.15,308.91 L1116.80,309.94 L1116.45,311.34 L1116.10,311.98 L1115.75,313.14 L1115.40,314.63 L1115.05,316.26 L1114.70,317.88 L1114.35,319.42 L1114.00,320.87 L1113.65,322.20 L1113.30,323.39 L1112.95,324.40 L1112.60,325.01 L1112.25,325.57 L1111.90,326.07 L1111.55,326.52 L1111.20,326.93 L1110.85,327.29 L1110.50,327.63 L1110.15,327.95 L1109.80,328.25 L1109.45,328.51 L1109.10,328.50 L1108.75,328.48 L1108.40,328.41 L1108.05,328.31 L1107.70,328.14 L1107.35,327.93 L1107.00,327.67 L1106.65,327.38 L1106.30,327.07 L1105.95,326.70 L1105.60,326.05 L1105.25,325.36 L1104.90,324.64 L1104.55,323.88 L1104.20,323.08 L1103.85,322.26 L1103.50,321.46 L1103.15,320.77 L1102.80,320.27 L1102.45,319.90 L1102.10,318.78 L1101.75,317.83 L1101.40,317.07 L1101.05,316.50 L1100.70,316.10 L1100.35,315.86 L1100.00,315.84 L1099.65,316.11 L1099.30,316.72 L1098.95,317.48 L1098.60,317.30 L1098.25,317.51 L1097.90,318.00 L1097.55,318.66 L1097.20,319.40 L1096.85,320.16 L1096.50,320.96 L1096.15,321.78 L1095.80,322.61 L1095.45,323.33 L1095.10,323.63 L1094.75,323.96 L1094.40,324.27 L1094.05,324.54 L1093.70,324.74 L1093.35,324.89 L1093.00,325.01 L1092.65,325.12 L1092.30,325.24 L1091.95,325.36 L1091.60,325.28 L1091.25,325.22 L1090.90,325.18 L1090.55,325.16 L1090.20,325.13 L1089.85,325.09 L1089.50,325.04 L1089.15,324.99 L1088.80,324.93 L1088.45,324.84 L1088.10,324.47 L1087.75,324.10 L1087.40,323.70 L1087.05,323.30 L1086.70,322.87 L1086.35,322.42 L1086.00,322.00 L1085.65,321.64 L1085.30,321.42 L1084.95,321.28 L1084.60,320.56 L1084.25,319.98 L1083.90,319.54 L1083.55,319.22 L1083.20,319.00 L1082.85,318.87 L1082.50,318.86 L1082.15,319.03 L1081.80,319.42 L1081.45,319.89 L1081.10,319.66 L1080.75,319.68 L1080.40,319.89 L1080.05,320.23 L1079.70,320.64 L1079.35,321.08 L1079.00,321.57 L1078.65,322.10 L1078.30,322.68 L1077.95,323.21 L1077.60,323.36 L1077.25,323.58 L1076.90,323.82 L1076.55,324.04 L1076.20,324.22 L1075.85,324.36 L1075.50,324.46 L1075.15,324.54 L1074.80,324.64 L1074.45,324.73 L1074.10,324.62 L1073.75,324.56 L1073.40,324.53 L1073.05,324.52 L1072.70,324.51 L1072.35,324.50 L1072.00,324.50 L1071.65,324.49 L1071.30,324.49 L1070.95,324.46 L1070.60,324.17 L1070.25,323.88 L1069.90,323.59 L1069.55,323.30 L1069.20,322.99 L1068.85,322.68 L1068.50,322.39 L1068.15,322.15 L1067.80,322.03 L1067.45,321.96 L1067.10,321.39 L1066.75,320.95 L1066.40,320.62 L1066.05,320.38 L1065.70,320.23 L1065.35,320.13 L1065.00,320.12 L1064.65,320.25 L1064.30,320.55 L1063.95,320.92 L1063.60,320.68 L1063.25,320.65 L1062.90,320.77 L1062.55,321.00 L1062.20,321.28 L1061.85,321.60 L1061.50,321.95 L1061.15,322.37 L1060.80,322.83 L1060.45,323.28 L1060.10,323.36 L1059.75,323.52 L1059.40,323.71 L1059.05,323.91 L1058.70,324.08 L1058.35,324.22 L1058.00,324.33 L1057.65,324.42 L1057.30,324.52 L1056.95,324.60 L1056.60,324.49 L1056.25,324.43 L1055.90,324.40 L1055.55,324.38 L1055.20,324.38 L1054.85,324.38 L1054.50,324.39 L1054.15,324.40 L1053.80,324.40 L1053.45,324.39 L1053.10,324.13 L1052.75,323.88 L1052.40,323.62 L1052.05,323.37 L1051.70,323.11 L1051.35,322.85 L1051.00,322.60 L1050.65,322.41 L1050.30,322.32 L1049.95,322.28 L1049.60,321.77 L1049.25,321.38 L1048.90,321.09 L1048.55,320.89 L1048.20,320.75 L1047.85,320.66 L1047.50,320.65 L1047.15,320.76 L1046.80,321.02 L1046.45,321.34 L1046.10,321.11 L1045.75,321.06 L1045.40,321.14 L1045.05,321.32 L1044.70,321.56 L1044.35,321.82 L1044.00,322.12 L1043.65,322.49 L1043.30,322.91 L1042.95,323.31 L1042.60,323.36 L1042.25,323.50 L1041.90,323.68 L1041.55,323.86 L1041.20,324.03 L1040.85,324.17 L1040.50,324.29 L1040.15,324.39 L1039.80,324.49 L1039.45,324.58 L1039.10,324.47 L1038.75,324.40 L1038.40,324.37 L1038.05,324.36 L1037.70,324.36 L1037.35,324.36 L1037.00,324.37 L1036.65,324.38 L1036.30,324.40 L1035.95,324.40 L1035.60,324.15 L1035.25,323.91 L1034.90,323.67 L1034.55,323.44 L1034.20,323.20 L1033.85,322.95 L1033.50,322.72 L1033.15,322.55 L1032.80,322.47 L1032.45,322.43 L1032.10,321.95 L1031.75,321.58 L1031.40,321.30 L1031.05,321.11 L1030.70,320.97 L1030.35,320.88 L1030.00,320.87 L1029.65,320.97 L1029.30,321.22 L1028.95,321.51 L1028.60,321.28 L1028.25,321.21 L1027.90,321.28 L1027.55,321.44 L1027.20,321.65 L1026.85,321.89 L1026.50,322.18 L1026.15,322.52 L1025.80,322.92 L1025.45,323.31 L1025.10,323.35 L1024.75,323.47 L1024.40,323.64 L1024.05,323.83 L1023.70,324.00 L1023.35,324.14 L1023.00,324.26 L1022.65,324.37 L1022.30,324.48 L1021.95,324.57 L1021.60,324.46 L1021.25,324.40 L1020.90,324.36 L1020.55,324.35 L1020.20,324.35 L1019.85,324.35 L1019.50,324.37 L1019.15,324.39 L1018.80,324.41 L1018.45,324.41 L1018.10,324.17 L1017.75,323.94 L1017.40,323.71 L1017.05,323.49 L1016.70,323.26 L1016.35,323.02 L1016.00,322.80 L1015.65,322.63 L1015.30,322.55 L1014.95,322.52 L1014.60,322.05 L1014.25,321.68 L1013.90,321.41 L1013.55,321.22 L1013.20,321.08 L1012.85,320.99 L1012.50,320.97 L1012.15,321.06 L1011.80,321.29 L1011.45,321.58 L1011.10,321.34 L1010.75,321.27 L1010.40,321.32 L1010.05,321.47 L1009.70,321.67 L1009.35,321.90 L1009.00,322.17 L1008.65,322.51 L1008.30,322.90 L1007.95,323.29 L1007.60,323.32 L1007.25,323.44 L1006.90,323.61 L1006.55,323.79 L1006.20,323.96 L1005.85,324.11 L1005.50,324.24 L1005.15,324.36 L1004.80,324.48 L1004.45,324.57 L1004.10,324.46 L1003.75,324.40 L1003.40,324.36 L1003.05,324.35 L1002.70,324.35 L1002.35,324.35 L1002.00,324.37 L1001.65,324.39 L1001.30,324.42 L1000.95,324.43 L1000.60,324.20 L1000.25,323.97 L999.90,323.75 L999.55,323.54 L999.20,323.31 L998.85,323.08 L998.50,322.86 L998.15,322.69 L997.80,322.62 L997.45,322.58 L997.10,322.11 L996.75,321.75 L996.40,321.48 L996.05,321.28 L995.70,321.14 L995.35,321.04 L995.00,321.02 L994.65,321.10 L994.30,321.32 L993.95,321.60 L993.60,321.35 L993.25,321.27 L992.90,321.32 L992.55,321.46 L992.20,321.65 L991.85,321.88 L991.50,322.15 L991.15,322.47 L990.80,322.87 L990.45,323.25 L990.10,323.28 L989.75,323.40 L989.40,323.57 L989.05,323.76 L988.70,323.93 L988.35,324.08 L988.00,324.22 L987.65,324.35 L987.30,324.47 L986.95,324.57 L986.60,324.46 L986.25,324.39 L985.90,324.36 L985.55,324.35 L985.20,324.35 L984.85,324.35 L984.50,324.37 L984.15,324.40 L983.80,324.43 L983.45,324.45 L983.10,324.22 L982.75,324.01 L982.40,323.79 L982.05,323.58 L981.70,323.36 L981.35,323.13 L981.00,322.92 L980.65,322.75 L980.30,322.67 L979.95,322.63 L979.60,322.17 L979.25,321.80 L978.90,321.53 L978.55,321.32 L978.20,321.18 L977.85,321.07 L977.50,321.04 L977.15,321.12 L976.80,321.34 L976.45,321.60 L976.10,321.35 L975.75,321.26 L975.40,321.31 L975.05,321.44 L974.70,321.63 L974.35,321.84 L974.00,322.11 L973.65,322.43 L973.30,322.83 L972.95,323.21 L972.60,323.24 L972.25,323.36 L971.90,323.53 L971.55,323.72 L971.20,323.90 L970.85,324.06 L970.50,324.20 L970.15,324.33 L969.80,324.47 L969.45,324.57 L969.10,324.46 L968.75,324.39 L968.40,324.36 L968.05,324.35 L967.70,324.35 L967.35,324.35 L967.00,324.37 L966.65,324.40 L966.30,324.45 L965.95,324.47 L965.60,324.25 L965.25,324.04 L964.90,323.83 L964.55,323.62 L964.20,323.41 L963.85,323.18 L963.50,322.97 L963.15,322.80 L962.80,322.72 L962.45,322.67 L962.10,322.21 L961.75,321.85 L961.40,321.57 L961.05,321.36 L960.70,321.21 L960.35,321.10 L960.00,321.06 L959.65,321.13 L959.30,321.34 L958.95,321.60 L958.60,321.34 L958.25,321.25 L957.90,321.28 L957.55,321.41 L957.20,321.59 L956.85,321.80 L956.50,322.06 L956.15,322.39 L955.80,322.78 L955.45,323.17 L955.10,323.19 L954.75,323.31 L954.40,323.49 L954.05,323.68 L953.70,323.86 L953.35,324.03 L953.00,324.18 L952.65,324.32 L952.30,324.46 L951.95,324.57 L951.60,324.46 L951.25,324.39 L950.90,324.36 L950.55,324.35 L950.20,324.35 L949.85,324.35 L949.50,324.37 L949.15,324.41 L948.80,324.45 L948.45,324.48 L948.10,324.27 L947.75,324.07 L947.40,323.87 L947.05,323.66 L946.70,323.45 L946.35,323.23 L946.00,323.02 L945.65,322.85 L945.30,322.76 L944.95,322.72 L944.60,322.26 L944.25,321.89 L943.90,321.61 L943.55,321.40 L943.20,321.24 L942.85,321.12 L942.50,321.08 L942.15,321.14 L941.80,321.34 L941.45,321.60 L941.10,321.33 L940.75,321.23 L940.40,321.26 L940.05,321.38 L939.70,321.55 L939.35,321.76 L939.00,322.02 L938.65,322.34 L938.30,322.74 L937.95,323.13 L937.60,323.15 L937.25,323.27 L936.90,323.44 L936.55,323.64 L936.20,323.83 L935.85,324.00 L935.50,324.15 L935.15,324.30 L934.80,324.45 L934.45,324.57 L934.10,324.46 L933.75,324.39 L933.40,324.36 L933.05,324.35 L932.70,324.35 L932.35,324.35 L932.00,324.37 L931.65,324.41 L931.30,324.46 L930.95,324.50 L930.60,324.29 L930.25,324.09 L929.90,323.90 L929.55,323.70 L929.20,323.49 L928.85,323.27 L928.50,323.06 L928.15,322.90 L927.80,322.81 L927.45,322.76 L927.10,322.30 L926.75,321.93 L926.40,321.65 L926.05,321.43 L925.70,321.27 L925.35,321.15 L925.00,321.10 L924.65,321.15 L924.30,321.34 L923.95,321.59 L923.60,321.32 L923.25,321.21 L922.90,321.23 L922.55,321.35 L922.20,321.52 L921.85,321.72 L921.50,321.98 L921.15,322.30 L920.80,322.69 L920.45,323.08 L920.10,323.10 L919.75,323.22 L919.40,323.40 L919.05,323.60 L918.70,323.79 L918.35,323.97 L918.00,324.13 L917.65,324.28 L917.30,324.44 L916.95,324.56 L916.60,324.46 L916.25,324.39 L915.90,324.36 L915.55,324.35 L915.20,324.35 L914.85,324.35 L914.50,324.37 L914.15,324.41 L913.80,324.47 L913.45,324.51 L913.10,324.31 L912.75,324.12 L912.40,323.93 L912.05,323.74 L911.70,323.54 L911.35,323.32 L911.00,323.11 L910.65,322.94 L910.30,322.86 L909.95,322.80 L909.60,322.35 L909.25,321.98 L908.90,321.69 L908.55,321.47 L908.20,321.30 L907.85,321.17 L907.50,321.11 L907.15,321.16 L906.80,321.35 L906.45,321.59 L906.10,321.31 L905.75,321.19 L905.40,321.21 L905.05,321.32 L904.70,321.48 L904.35,321.68 L904.00,321.93 L903.65,322.25 L903.30,322.65 L902.95,323.04 L902.60,323.06 L902.25,323.18 L901.90,323.35 L901.55,323.56 L901.20,323.76 L900.85,323.94 L900.50,324.10 L900.15,324.26 L899.80,324.43 L899.45,324.56 L899.10,324.46 L898.75,324.39 L898.40,324.36 L898.05,324.35 L897.70,324.35 L897.35,324.35 L897.00,324.37 L896.65,324.41 L896.30,324.48 L895.95,324.52 L895.60,324.33 L895.25,324.15 L894.90,323.97 L894.55,323.78 L894.20,323.58 L893.85,323.37 L893.50,323.16 L893.15,322.99 L892.80,322.90 L892.45,322.85 L892.10,322.39 L891.75,322.02 L891.40,321.73 L891.05,321.50 L890.70,321.33 L890.35,321.20 L890.00,321.13 L889.65,321.17 L889.30,321.35 L888.95,321.59 L888.60,321.30 L888.25,321.18 L887.90,321.18 L887.55,321.29 L887.20,321.45 L886.85,321.64 L886.50,321.89 L886.15,322.21 L885.80,322.60 L885.45,323.00 L885.10,323.01 L884.75,323.13 L884.40,323.31 L884.05,323.51 L883.70,323.72 L883.35,323.90 L883.00,324.08 L882.65,324.24 L882.30,324.41 L881.95,324.55 L881.60,324.46 L881.25,324.39 L880.90,324.36 L880.55,324.35 L880.20,324.35 L879.85,324.35 L879.50,324.37 L879.15,324.41 L878.80,324.48 L878.45,324.53 L878.10,324.35 L877.75,324.17 L877.40,324.00 L877.05,323.82 L876.70,323.62 L876.35,323.41 L876.00,323.21 L875.65,323.04 L875.30,322.95 L874.95,322.89 L874.60,322.44 L874.25,322.06 L873.90,321.77 L873.55,321.54 L873.20,321.36 L872.85,321.22 L872.50,321.15 L872.15,321.18 L871.80,321.36 L871.45,321.59 L871.10,321.29 L870.75,321.16 L870.40,321.16 L870.05,321.26 L869.70,321.41 L869.35,321.60 L869.00,321.85 L868.65,322.16 L868.30,322.56 L867.95,322.95 L867.60,322.96 L867.25,323.08 L866.90,323.26 L866.55,323.47 L866.20,323.68 L865.85,323.87 L865.50,324.05 L865.15,324.22 L864.80,324.40 L864.45,324.54 L864.10,324.46 L863.75,324.39 L863.40,324.36 L863.05,324.35 L862.70,324.35 L862.35,324.35 L862.00,324.37 L861.65,324.41 L861.30,324.49 L860.95,324.57 L860.60,324.46 L860.25,324.39 L859.90,324.36 L859.55,324.35 L859.20,324.35 L858.85,324.35 L858.50,324.37 L858.15,324.41 L857.80,324.49 L857.45,324.57 L857.10,324.46 L856.75,324.39 L856.40,324.36 L856.05,324.35 L855.70,324.35 L855.35,324.35 L855.00,324.37 L854.65,324.41 L854.30,324.49Z"/>
<g stroke="#262626" stroke-width="1.8" fill="none">
<rect x="111.4" y="549" width="630.6" height="375.0"/>
<path d="M201.5 924V917M201.5 549V556M291.6 924V917M291.6 549V556M381.7 924V917M381.7 549V556M471.7 924V917M471.7 549V556M561.8 924V917M561.8 549V556M651.9 924V917M651.9 549V556M111.4 549.0H118.4M742 549.0H735M111.4 736.5H118.4M742 736.5H735M111.4 924.0H118.4M742 924.0H735"/>
</g>
<g font-family="'Liberation Serif', serif" font-size="38.5" fill="#000">
<text x="96.9" y="563.1" text-anchor="end">5</text>
<text x="96.9" y="750.6" text-anchor="end">0</text>
<text x="96.9" y="938.1" text-anchor="end">-5</text>
<text x="111.4" y="974.0" text-anchor="middle">0</text>
<text x="201.5" y="974.0" text-anchor="middle">1</text>
<text x="291.6" y="974.0" text-anchor="middle">2</text>
<text x="381.7" y="974.0" text-anchor="middle">3</text>
<text x="471.7" y="974.0" text-anchor="middle">4</text>
<text x="561.8" y="974.0" text-anchor="middle">5</text>
<text x="651.9" y="974.0" text-anchor="middle">6</text>
<text x="742.0" y="974.0" text-anchor="middle">7</text>
</g>
<path d="M116.5 523.5l17.5 17.5M134.0 523.5l-17.5 17.5" stroke="#000" stroke-width="1.9" fill="none"/>
<text font-family="'Liberation Serif', serif" font-size="38.5" x="143.0" y="542.0" textLength="35.7" lengthAdjust="spacingAndGlyphs">10</text>
<text font-family="'Liberation Serif', serif" font-size="30" x="177.5" y="525.0">-6</text>
<text font-family="'Liberation Serif', serif" font-size="41" x="426" y="1023" text-anchor="middle">time (m)</text>
<text font-family="'Liberation Serif', serif" font-size="41" transform="translate(33,738) rotate(-90)" text-anchor="middle"><tspan font-style="italic" font-size="44">u</tspan><tspan font-style="italic" font-size="33" dy="18.5">y</tspan><tspan dy="-18.5"> (m)</tspan></text>
<path fill="#000" stroke="#000" stroke-width="1.5" stroke-linejoin="round" d="M111.40,736.18 L111.75,736.36 L112.10,736.25 L112.45,736.11 L112.80,736.04 L113.15,736.01 L113.50,736.01 L113.85,736.03 L114.20,736.07 L114.55,736.15 L114.90,736.29 L115.25,736.51 L115.60,736.50 L115.95,736.41 L116.30,736.38 L116.65,736.41 L117.00,736.47 L117.35,736.54 L117.70,736.62 L118.05,736.74 L118.40,736.91 L118.75,737.15 L119.10,737.22 L119.45,737.12 L119.80,737.08 L120.15,737.09 L120.50,737.13 L120.85,737.18 L121.20,737.23 L121.55,737.30 L121.90,737.42 L122.25,737.60 L122.60,737.68 L122.95,737.49 L123.30,737.38 L123.65,737.31 L124.00,737.27 L124.35,737.25 L124.70,737.22 L125.05,737.22 L125.40,737.26 L125.75,737.37 L126.10,737.45 L126.45,737.17 L126.80,736.98 L127.15,736.85 L127.50,736.76 L127.85,736.69 L128.20,736.63 L128.55,736.59 L128.90,736.60 L129.25,736.70 L129.60,736.84 L129.95,736.55 L130.30,736.35 L130.65,736.23 L131.00,736.16 L131.35,736.12 L131.70,736.10 L132.05,736.15 L132.40,736.26 L132.75,736.46 L133.10,736.77 L133.45,736.62 L133.80,736.53 L134.15,736.52 L134.50,736.56 L134.85,736.64 L135.20,736.73 L135.55,736.84 L135.90,737.00 L136.25,737.23 L136.60,737.55 L136.95,737.48 L137.30,737.38 L137.65,737.35 L138.00,737.37 L138.35,737.43 L138.70,737.48 L139.05,737.54 L139.40,737.64 L139.75,737.81 L140.10,738.06 L140.45,737.99 L140.80,737.79 L141.15,737.67 L141.50,737.60 L141.85,737.56 L142.20,737.52 L142.55,737.49 L142.90,737.50 L143.25,737.57 L143.60,737.73 L143.95,737.66 L144.30,737.36 L144.65,737.15 L145.00,737.01 L145.35,736.91 L145.70,736.82 L146.05,736.75 L146.40,736.73 L146.75,736.77 L147.10,736.91 L147.45,736.92 L147.80,736.60 L148.15,736.40 L148.50,736.27 L148.85,736.20 L149.20,736.16 L149.55,736.15 L149.90,736.24 L150.25,736.40 L150.60,736.67 L150.95,736.91 L151.30,736.71 L151.65,736.63 L152.00,736.64 L152.35,736.70 L152.70,736.79 L153.05,736.89 L153.40,737.03 L153.75,737.24 L154.10,737.53 L154.45,737.89 L154.80,737.68 L155.15,737.58 L155.50,737.56 L155.85,737.60 L156.20,737.66 L156.55,737.72 L156.90,737.80 L157.25,737.93 L157.60,738.15 L157.95,738.48 L158.30,738.20 L158.65,737.99 L159.00,737.87 L159.35,737.80 L159.70,737.75 L160.05,737.71 L160.40,737.69 L160.75,737.72 L161.10,737.83 L161.45,738.05 L161.80,737.78 L162.15,737.47 L162.50,737.25 L162.85,737.11 L163.20,737.00 L163.55,736.91 L163.90,736.84 L164.25,736.83 L164.60,736.92 L164.95,737.12 L165.30,736.95 L165.65,736.62 L166.00,736.41 L166.35,736.29 L166.70,736.23 L167.05,736.19 L167.40,736.20 L167.75,736.32 L168.10,736.53 L168.45,736.86 L168.80,736.93 L169.15,736.72 L169.50,736.63 L169.85,736.64 L170.20,736.70 L170.55,736.79 L170.90,736.89 L171.25,737.04 L171.60,737.27 L171.95,737.63 L172.30,737.81 L172.65,737.58 L173.00,737.47 L173.35,737.45 L173.70,737.48 L174.05,737.54 L174.40,737.59 L174.75,737.69 L175.10,737.85 L175.45,738.13 L175.80,738.35 L176.15,738.01 L176.50,737.80 L176.85,737.68 L177.20,737.62 L177.55,737.58 L177.90,737.55 L178.25,737.55 L178.60,737.62 L178.95,737.79 L179.30,738.05 L179.65,737.61 L180.00,737.31 L180.35,737.11 L180.70,736.99 L181.05,736.90 L181.40,736.82 L181.75,736.78 L182.10,736.82 L182.45,736.98 L182.80,737.29 L183.15,736.88 L183.50,736.57 L183.85,736.38 L184.20,736.28 L184.55,736.23 L184.90,736.21 L185.25,736.28 L185.60,736.43 L185.95,736.71 L186.30,737.14 L186.65,736.98 L187.00,736.78 L187.35,736.71 L187.70,736.73 L188.05,736.80 L188.40,736.90 L188.75,737.02 L189.10,737.20 L189.45,737.50 L189.80,737.93 L190.15,737.90 L190.50,737.67 L190.85,737.58 L191.20,737.57 L191.55,737.61 L191.90,737.66 L192.25,737.72 L192.60,737.85 L192.95,738.06 L193.30,738.41 L193.65,738.42 L194.00,738.08 L194.35,737.87 L194.70,737.76 L195.05,737.70 L195.40,737.66 L195.75,737.63 L196.10,737.65 L196.45,737.76 L196.80,738.01 L197.15,738.06 L197.50,737.62 L197.85,737.32 L198.20,737.13 L198.55,737.01 L198.90,736.92 L199.25,736.85 L199.60,736.84 L199.95,736.92 L200.30,737.15 L200.65,737.33 L201.00,736.86 L201.35,736.56 L201.70,736.39 L202.05,736.30 L202.40,736.26 L202.75,736.26 L203.10,736.36 L203.45,736.56 L203.80,736.90 L204.15,737.35 L204.50,736.98 L204.85,736.78 L205.20,736.72 L205.55,736.75 L205.90,736.83 L206.25,736.92 L206.60,737.05 L206.95,737.28 L207.30,737.63 L207.65,738.15 L208.00,737.83 L208.35,737.61 L208.70,737.52 L209.05,737.51 L209.40,737.55 L209.75,737.60 L210.10,737.68 L210.45,737.83 L210.80,738.10 L211.15,738.54 L211.50,738.27 L211.85,737.94 L212.20,737.75 L212.55,737.65 L212.90,737.60 L213.25,737.56 L213.60,737.54 L213.95,737.60 L214.30,737.78 L214.65,738.12 L215.00,737.92 L215.35,737.48 L215.70,737.21 L216.05,737.04 L216.40,736.94 L216.75,736.86 L217.10,736.81 L217.45,736.84 L217.80,736.99 L218.15,737.31 L218.50,737.25 L218.85,736.80 L219.20,736.53 L219.55,736.38 L219.90,736.31 L220.25,736.28 L220.60,736.32 L220.95,736.44 L221.30,736.70 L221.65,737.12 L222.00,737.32 L222.35,736.96 L222.70,736.77 L223.05,736.72 L223.40,736.76 L223.75,736.83 L224.10,736.92 L224.45,737.08 L224.80,737.34 L225.15,737.76 L225.50,738.12 L225.85,737.72 L226.20,737.50 L226.55,737.42 L226.90,737.42 L227.25,737.46 L227.60,737.50 L227.95,737.60 L228.30,737.79 L228.65,738.14 L229.00,738.59 L229.35,738.08 L229.70,737.76 L230.05,737.58 L230.40,737.50 L230.75,737.46 L231.10,737.42 L231.45,737.44 L231.80,737.54 L232.15,737.80 L232.50,738.25 L232.85,737.73 L233.20,737.33 L233.55,737.08 L233.90,736.94 L234.25,736.86 L234.60,736.79 L234.95,736.78 L235.30,736.86 L235.65,737.08 L236.00,737.52 L236.35,737.16 L236.70,736.74 L237.05,736.49 L237.40,736.37 L237.75,736.32 L238.10,736.31 L238.45,736.38 L238.80,736.55 L239.15,736.87 L239.50,737.39 L239.85,737.28 L240.20,736.94 L240.55,736.77 L240.90,736.74 L241.25,736.78 L241.60,736.85 L241.95,736.95 L242.30,737.13 L242.65,737.45 L243.00,737.95 L243.35,738.02 L243.70,737.63 L244.05,737.42 L244.40,737.35 L244.75,737.36 L245.10,737.39 L245.45,737.44 L245.80,737.57 L246.15,737.81 L246.50,738.24 L246.85,738.40 L247.20,737.91 L247.55,737.61 L247.90,737.46 L248.25,737.39 L248.60,737.35 L248.95,737.33 L249.30,737.37 L249.65,737.54 L250.00,737.88 L250.35,738.16 L250.70,737.57 L251.05,737.20 L251.40,736.98 L251.75,736.87 L252.10,736.80 L252.45,736.75 L252.80,736.77 L253.15,736.91 L253.50,737.23 L253.85,737.68 L254.20,737.07 L254.55,736.68 L254.90,736.47 L255.25,736.37 L255.60,736.34 L255.95,736.36 L256.30,736.45 L256.65,736.67 L257.00,737.06 L257.35,737.68 L257.70,737.22 L258.05,736.89 L258.40,736.75 L258.75,736.72 L259.10,736.77 L259.45,736.83 L259.80,736.94 L260.15,737.16 L260.50,737.54 L260.85,738.14 L261.20,737.85 L261.55,737.48 L261.90,737.29 L262.25,737.23 L262.60,737.25 L262.95,737.27 L263.30,737.34 L263.65,737.50 L264.00,737.81 L264.35,738.33 L264.70,738.15 L265.05,737.69 L265.40,737.42 L265.75,737.29 L266.10,737.24 L266.45,737.20 L266.80,737.20 L267.15,737.29 L267.50,737.53 L267.85,737.97 L268.20,737.93 L268.55,737.38 L268.90,737.05 L269.25,736.87 L269.60,736.78 L269.95,736.73 L270.30,736.70 L270.65,736.77 L271.00,736.98 L271.35,737.40 L271.70,737.54 L272.05,736.97 L272.40,736.63 L272.75,736.45 L273.10,736.38 L273.45,736.37 L273.80,736.41 L274.15,736.53 L274.50,736.80 L274.85,737.27 L275.20,737.68 L275.55,737.14 L275.90,736.84 L276.25,736.72 L276.60,736.71 L276.95,736.75 L277.30,736.81 L277.65,736.94 L278.00,737.21 L278.35,737.66 L278.70,738.25 L279.05,737.66 L279.40,737.32 L279.75,737.16 L280.10,737.11 L280.45,737.12 L280.80,737.15 L281.15,737.24 L281.50,737.44 L281.85,737.82 L282.20,738.45 L282.55,737.89 L282.90,737.46 L283.25,737.22 L283.60,737.12 L283.95,737.07 L284.30,737.05 L284.65,737.08 L285.00,737.22 L285.35,737.54 L285.70,738.10 L286.05,737.68 L286.40,737.19 L286.75,736.90 L287.10,736.76 L287.45,736.69 L287.80,736.66 L288.15,736.67 L288.50,736.79 L288.85,737.08 L289.20,737.62 L289.55,737.40 L289.90,736.88 L290.25,736.58 L290.60,736.44 L290.95,736.40 L291.30,736.40 L291.65,736.46 L292.00,736.62 L292.35,736.95 L292.70,737.51 L293.05,737.54 L293.40,737.04 L293.75,736.77 L294.10,736.66 L294.45,736.65 L294.80,736.68 L295.15,736.75 L295.50,736.90 L295.85,737.21 L296.20,737.74 L296.55,737.96 L296.90,737.40 L297.25,737.09 L297.60,736.94 L297.95,736.90 L298.30,736.91 L298.65,736.94 L299.00,737.05 L299.35,737.30 L299.70,737.77 L300.05,738.16 L300.40,737.52 L300.75,737.14 L301.10,736.94 L301.45,736.85 L301.80,736.83 L302.15,736.82 L302.50,736.89 L302.85,737.10 L303.20,737.51 L303.55,738.08 L303.90,737.38 L304.25,736.95 L304.60,736.71 L304.95,736.61 L305.30,736.57 L305.65,736.56 L306.00,736.61 L306.35,736.81 L306.70,737.20 L307.05,737.87 L307.40,737.25 L307.75,736.79 L308.10,736.54 L308.45,736.44 L308.80,736.42 L309.15,736.43 L309.50,736.50 L309.85,736.71 L310.20,737.10 L310.55,737.76 L310.90,737.37 L311.25,736.89 L311.60,736.64 L311.95,736.53 L312.30,736.52 L312.65,736.53 L313.00,736.59 L313.35,736.77 L313.70,737.13 L314.05,737.75 L314.40,737.54 L314.75,737.01 L315.10,736.71 L315.45,736.58 L315.80,736.54 L316.15,736.54 L316.50,736.57 L316.85,736.72 L317.20,737.04 L317.55,737.60 L317.90,737.59 L318.25,737.01 L318.60,736.67 L318.95,736.50 L319.30,736.45 L319.65,736.44 L320.00,736.46 L320.35,736.60 L320.70,736.90 L321.05,737.44 L321.40,737.65 L321.75,737.03 L322.10,736.67 L322.45,736.49 L322.80,736.44 L323.15,736.43 L323.50,736.46 L323.85,736.58 L324.20,736.85 L324.55,737.36 L324.90,737.79 L325.25,737.12 L325.60,736.72 L325.95,736.52 L326.30,736.45 L326.65,736.44 L327.00,736.46 L327.35,736.56 L327.70,736.81 L328.05,737.29 L328.40,737.93 L328.75,737.21 L329.10,736.77 L329.45,736.54 L329.80,736.46 L330.15,736.45 L330.50,736.46 L330.85,736.55 L331.20,736.78 L331.55,737.22 L331.90,737.96 L332.25,737.31 L332.60,736.83 L332.95,736.57 L333.30,736.47 L333.65,736.46 L334.00,736.46 L334.35,736.54 L334.70,736.74 L335.05,737.16 L335.40,737.85 L335.75,737.42 L336.10,736.89 L336.45,736.61 L336.80,736.49 L337.15,736.46 L337.50,736.47 L337.85,736.53 L338.20,736.71 L338.55,737.09 L338.90,737.75 L339.25,737.53 L339.60,736.96 L339.95,736.65 L340.30,736.51 L340.65,736.47 L341.00,736.47 L341.35,736.52 L341.70,736.68 L342.05,737.04 L342.40,737.66 L342.75,737.66 L343.10,737.04 L343.45,736.69 L343.80,736.53 L344.15,736.48 L344.50,736.48 L344.85,736.52 L345.20,736.66 L345.55,736.98 L345.90,737.57 L346.25,737.79 L346.60,737.13 L346.95,736.73 L347.30,736.55 L347.65,736.49 L348.00,736.49 L348.35,736.51 L348.70,736.64 L349.05,736.94 L349.40,737.48 L349.75,737.94 L350.10,737.22 L350.45,736.79 L350.80,736.57 L351.15,736.50 L351.50,736.49 L351.85,736.51 L352.20,736.62 L352.55,736.89 L352.90,737.40 L353.25,738.09 L353.60,737.32 L353.95,736.84 L354.30,736.60 L354.65,736.51 L355.00,736.50 L355.35,736.56 L355.70,736.71 L356.05,737.00 L356.40,737.53 L356.75,738.37 L357.10,737.73 L357.45,737.26 L357.80,737.04 L358.15,736.98 L358.50,737.01 L358.85,737.07 L359.20,737.20 L359.55,737.47 L359.90,737.97 L360.25,738.76 L360.60,738.35 L360.95,737.84 L361.30,737.58 L361.65,737.51 L362.00,737.53 L362.35,737.59 L362.70,737.70 L363.05,737.95 L363.40,738.41 L363.75,739.16 L364.10,738.98 L364.45,738.42 L364.80,738.13 L365.15,738.03 L365.50,738.05 L365.85,738.10 L366.20,738.20 L366.55,738.42 L366.90,738.85 L367.25,739.57 L367.60,739.62 L367.95,739.01 L368.30,738.68 L368.65,738.56 L369.00,738.56 L369.35,738.61 L369.70,738.70 L370.05,742.40 L370.40,742.40 L370.75,742.40 L371.10,742.40 L371.45,742.40 L371.80,740.78 L372.15,740.51 L372.50,742.40 L372.85,743.97 L373.20,745.55 L373.55,747.12 L373.90,748.70 L374.25,747.00 L374.60,745.30 L374.95,743.60 L375.30,741.90 L375.65,740.01 L376.00,740.28 L376.35,742.12 L376.70,743.64 L377.05,745.16 L377.40,746.68 L377.75,748.20 L378.10,746.44 L378.45,744.68 L378.80,742.91 L379.15,741.15 L379.50,739.28 L379.85,739.01 L380.20,740.90 L380.55,743.27 L380.90,745.65 L381.25,748.02 L381.60,747.40 L381.95,745.57 L382.30,743.74 L382.65,741.80 L383.00,739.70 L383.35,741.80 L383.70,744.40 L384.05,747.37 L384.40,750.33 L384.75,753.30 L385.10,754.38 L385.45,752.93 L385.80,751.48 L386.15,750.03 L386.50,748.20 L386.85,745.40 L387.20,747.40 L387.55,752.29 L387.90,759.96 L388.25,767.63 L388.60,775.30 L388.95,769.18 L389.30,763.05 L389.65,756.93 L390.00,752.70 L390.35,750.70 L390.70,753.50 L391.05,759.49 L391.40,766.74 L391.75,774.00 L392.10,781.26 L392.45,776.08 L392.80,768.82 L393.15,761.56 L393.50,754.30 L393.85,751.50 L394.20,751.90 L394.55,755.02 L394.90,760.06 L395.25,765.10 L395.60,770.14 L395.95,768.19 L396.30,760.99 L396.65,753.80 L397.00,746.60 L397.35,743.80 L397.70,744.20 L398.05,747.44 L398.40,753.34 L398.75,759.23 L399.10,757.93 L399.45,747.02 L399.80,736.12 L400.15,731.50 L400.50,730.60 L400.85,730.94 L401.20,656.00 L401.55,657.50 L401.90,663.57 L402.25,671.57 L402.60,661.86 L402.95,638.86 L403.30,627.00 L403.65,626.50 L404.00,632.50 L404.35,644.75 L404.70,628.27 L405.05,590.23 L405.40,581.80 L405.75,583.30 L406.10,611.49 L406.45,619.50 L406.80,608.50 L407.15,608.00 L407.50,614.00 L407.85,626.25 L408.20,619.87 L408.55,599.51 L408.90,593.60 L409.25,595.10 L409.60,616.57 L409.95,651.53 L410.30,667.30 L410.65,657.50 L411.00,649.50 L411.35,647.00 L411.70,650.50 L412.05,669.53 L412.40,688.56 L412.75,687.44 L413.10,678.25 L413.45,671.50 L413.80,670.00 L414.15,681.40 L414.50,705.40 L414.85,696.50 L415.20,697.00 L415.55,706.25 L415.90,723.17 L416.25,722.75 L416.60,715.40 L416.95,713.30 L417.30,714.80 L417.65,717.31 L418.00,716.00 L418.35,727.18 L418.70,726.37 L419.05,725.38 L419.40,724.20 L419.75,722.56 L420.10,720.10 L420.45,716.32 L420.80,713.66 L421.15,715.01 L421.50,715.39 L421.85,714.92 L422.20,713.85 L422.55,712.50 L422.90,710.98 L423.25,708.82 L423.60,705.41 L423.95,700.04 L424.30,695.18 L424.65,699.57 L425.00,702.04 L425.35,704.10 L425.70,705.11 L426.05,705.71 L426.40,706.21 L426.75,706.17 L427.10,705.09 L427.45,702.55 L427.80,699.17 L428.15,705.65 L428.50,709.89 L428.85,712.55 L429.20,714.24 L429.55,715.48 L429.90,716.59 L430.25,717.34 L430.60,717.46 L430.95,716.73 L431.30,715.04 L431.65,718.89 L432.00,721.73 L432.35,723.51 L432.70,724.62 L433.05,725.36 L433.40,725.93 L433.75,726.25 L434.10,725.41 L434.45,723.87 L434.80,721.37 L435.15,721.98 L435.50,722.93 L435.85,723.21 L436.20,722.97 L436.55,722.41 L436.90,721.72 L437.25,720.83 L437.60,719.41 L437.95,717.09 L438.30,713.46 L438.65,713.71 L439.00,715.75 L439.35,716.76 L439.70,717.03 L440.05,716.86 L440.40,716.59 L440.75,716.16 L441.10,715.21 L441.45,713.35 L441.80,710.22 L442.15,710.38 L442.50,713.78 L442.85,715.73 L443.20,716.79 L443.55,717.32 L443.90,717.70 L444.25,717.98 L444.60,717.84 L444.95,717.01 L445.30,715.26 L445.65,715.18 L446.00,718.65 L446.35,720.90 L446.70,722.31 L447.05,723.24 L447.40,723.98 L447.75,724.63 L448.10,725.00 L448.45,724.96 L448.80,724.41 L449.15,724.19 L449.50,726.47 L449.85,727.93 L450.20,728.84 L450.55,729.40 L450.90,729.78 L451.25,729.92 L451.60,729.51 L451.95,728.76 L452.30,727.49 L452.65,725.77 L453.00,726.71 L453.35,727.16 L453.70,727.19 L454.05,726.91 L454.40,726.47 L454.75,725.96 L455.10,725.26 L455.45,724.13 L455.80,722.32 L456.15,719.54 L456.50,721.11 L456.85,722.30 L457.20,722.84 L457.55,722.93 L457.90,722.80 L458.25,722.62 L458.60,722.28 L458.95,721.51 L459.30,720.07 L459.65,717.71 L460.00,719.34 L460.35,721.29 L460.70,722.45 L461.05,723.06 L461.40,723.40 L461.75,723.69 L462.10,723.85 L462.45,723.68 L462.80,723.01 L463.15,721.69 L463.50,722.90 L463.85,724.96 L464.20,726.29 L464.55,727.13 L464.90,727.71 L465.25,728.21 L465.60,728.61 L465.95,728.80 L466.30,728.69 L466.65,728.23 L467.00,728.75 L467.35,730.04 L467.70,730.86 L468.05,731.35 L468.40,731.64 L468.75,731.83 L469.10,731.93 L469.45,731.87 L469.80,731.46 L470.15,730.72 L470.50,730.27 L470.85,730.77 L471.20,730.96 L471.55,730.90 L471.90,730.67 L472.25,730.34 L472.60,729.94 L472.95,729.36 L473.30,728.45 L473.65,727.03 L474.00,725.67 L474.35,726.58 L474.70,727.02 L475.05,727.09 L475.40,726.89 L475.75,726.58 L476.10,726.22 L476.45,725.68 L476.80,724.75 L477.15,723.21 L477.50,721.21 L477.85,723.10 L478.20,724.26 L478.55,724.88 L478.90,725.12 L479.25,725.22 L479.60,725.28 L479.95,725.20 L480.30,724.77 L480.65,723.84 L481.00,722.27 L481.35,724.30 L481.70,725.86 L482.05,726.83 L482.40,727.44 L482.75,727.87 L483.10,728.26 L483.45,728.54 L483.80,728.60 L484.15,728.35 L484.50,727.75 L484.85,728.93 L485.20,730.13 L485.55,730.90 L485.90,731.40 L486.25,731.75 L486.60,732.03 L486.95,732.24 L487.30,732.30 L487.65,732.17 L488.00,731.42 L488.35,731.38 L488.70,731.67 L489.05,731.74 L489.40,731.62 L489.75,731.38 L490.10,731.08 L490.45,730.71 L490.80,730.17 L491.15,729.32 L491.50,728.00 L491.85,727.60 L492.20,728.27 L492.55,728.57 L492.90,728.59 L493.25,728.43 L493.60,728.21 L493.95,727.94 L494.30,727.49 L494.65,726.68 L495.00,725.36 L495.35,724.80 L495.70,726.17 L496.05,727.00 L496.40,727.43 L496.75,727.60 L497.10,727.70 L497.45,727.77 L497.80,727.68 L498.15,727.29 L498.50,726.51 L498.85,725.98 L499.20,727.60 L499.55,728.65 L499.90,729.31 L500.25,729.73 L500.60,730.06 L500.95,730.36 L501.30,730.55 L501.65,730.55 L502.00,730.32 L502.35,729.97 L502.70,731.15 L503.05,731.91 L503.40,732.40 L503.75,732.72 L504.10,732.94 L504.45,733.12 L504.80,733.22 L505.15,733.08 L505.50,732.61 L505.85,731.85 L506.20,732.12 L506.55,732.29 L506.90,732.28 L507.25,732.13 L507.60,731.89 L507.95,731.62 L508.30,731.27 L508.65,730.74 L509.00,729.91 L509.35,728.64 L509.70,728.92 L510.05,729.41 L510.40,729.60 L510.75,729.57 L511.10,729.42 L511.45,729.25 L511.80,729.00 L512.15,728.56 L512.50,727.79 L512.85,726.54 L513.20,726.89 L513.55,727.92 L513.90,728.51 L514.25,728.82 L514.60,728.97 L514.95,729.08 L515.30,729.14 L515.65,729.04 L516.00,728.68 L516.35,727.96 L516.70,728.25 L517.05,729.44 L517.40,730.21 L517.75,730.70 L518.10,731.03 L518.45,731.30 L518.80,731.53 L519.15,731.66 L519.50,731.63 L519.85,731.39 L520.20,731.51 L520.55,732.34 L520.90,732.86 L521.25,733.20 L521.60,733.41 L521.95,733.56 L522.30,733.67 L522.65,733.52 L523.00,733.21 L523.35,732.69 L523.70,732.18 L524.05,732.46 L524.40,732.57 L524.75,732.52 L525.10,732.37 L525.45,732.16 L525.80,731.92 L526.15,731.59 L526.50,731.07 L526.85,730.26 L527.20,729.21 L527.55,729.89 L527.90,730.27 L528.25,730.41 L528.60,730.38 L528.95,730.27 L529.30,730.15 L529.65,729.95 L530.00,729.55 L530.35,728.84 L530.70,727.72 L531.05,728.72 L531.40,729.48 L531.75,729.92 L532.10,730.14 L532.45,730.27 L532.80,730.38 L533.15,730.43 L533.50,730.32 L533.85,729.99 L534.20,729.36 L534.55,730.14 L534.90,730.99 L535.25,731.54 L535.60,731.89 L535.95,732.14 L536.30,732.36 L536.65,732.53 L537.00,732.60 L537.35,732.53 L537.70,732.29 L538.05,732.67 L538.40,733.23 L538.75,733.58 L539.10,733.79 L539.45,733.92 L539.80,734.01 L540.15,734.06 L540.50,734.03 L540.85,733.86 L541.20,733.51 L541.55,733.43 L541.90,733.63 L542.25,733.70 L542.60,733.66 L542.95,733.55 L543.30,733.40 L543.65,733.21 L544.00,732.94 L544.35,732.52 L544.70,731.86 L545.05,731.45 L545.40,731.79 L545.75,731.93 L546.10,731.92 L546.45,731.80 L546.80,731.65 L547.15,731.47 L547.50,731.21 L547.85,730.76 L548.20,730.04 L548.55,729.43 L548.90,730.16 L549.25,730.60 L549.60,730.82 L549.95,730.89 L550.30,730.91 L550.65,730.92 L551.00,730.85 L551.35,730.62 L551.70,730.16 L552.05,729.57 L552.40,730.52 L552.75,731.15 L553.10,731.54 L553.45,731.79 L553.80,731.96 L554.15,732.13 L554.50,732.24 L554.85,732.24 L555.20,732.10 L555.55,731.78 L555.90,732.47 L556.25,732.99 L556.60,733.33 L556.95,733.55 L557.30,733.71 L557.65,733.84 L558.00,733.93 L558.35,733.95 L558.70,733.87 L559.05,733.57 L559.40,733.65 L559.75,733.77 L560.10,733.78 L560.45,733.71 L560.80,733.59 L561.15,733.44 L561.50,733.25 L561.85,732.98 L562.20,732.56 L562.55,731.92 L562.90,731.88 L563.25,732.12 L563.60,732.21 L563.95,732.17 L564.30,732.06 L564.65,731.94 L565.00,731.78 L565.35,731.54 L565.70,731.12 L566.05,730.47 L566.40,730.41 L566.75,730.95 L567.10,731.27 L567.45,731.42 L567.80,731.48 L568.15,731.52 L568.50,731.53 L568.85,731.47 L569.20,731.27 L569.55,730.88 L569.90,730.83 L570.25,731.52 L570.60,731.98 L570.95,732.27 L571.30,732.46 L571.65,732.62 L572.00,732.76 L572.35,732.85 L572.70,732.84 L573.05,732.72 L573.40,732.67 L573.75,733.22 L574.10,733.58 L574.45,733.81 L574.80,733.97 L575.15,734.08 L575.50,734.18 L575.85,734.23 L576.20,734.21 L576.55,733.99 L576.90,733.66 L577.25,733.83 L577.60,733.90 L577.95,733.87 L578.30,733.79 L578.65,733.66 L579.00,733.52 L579.35,733.34 L579.70,733.06 L580.05,732.65 L580.40,732.04 L580.75,732.28 L581.10,732.44 L581.45,732.47 L581.80,732.42 L582.15,732.32 L582.50,732.21 L582.85,732.07 L583.20,731.84 L583.55,731.45 L583.90,730.85 L584.25,731.15 L584.60,731.55 L584.95,731.77 L585.30,731.88 L585.65,731.93 L586.00,731.97 L586.35,731.98 L586.70,731.92 L587.05,731.73 L587.40,731.38 L587.75,731.67 L588.10,732.18 L588.45,732.52 L588.80,732.74 L589.15,732.90 L589.50,733.04 L589.85,733.16 L590.20,733.23 L590.55,733.21 L590.90,733.10 L591.25,733.26 L591.60,733.66 L591.95,733.92 L592.30,734.09 L592.65,734.21 L593.00,734.30 L593.35,734.36 L593.70,734.37 L594.05,734.21 L594.40,733.95 L594.75,733.77 L595.10,733.88 L595.45,733.90 L595.80,733.85 L596.15,733.75 L596.50,733.62 L596.85,733.48 L597.20,733.29 L597.55,733.02 L597.90,732.61 L598.25,732.23 L598.60,732.46 L598.95,732.57 L599.30,732.58 L599.65,732.52 L600.00,732.44 L600.35,732.35 L600.70,732.22 L601.05,732.00 L601.40,731.64 L601.75,731.19 L602.10,731.66 L602.45,731.96 L602.80,732.13 L603.15,732.21 L603.50,732.27 L603.85,732.32 L604.20,732.34 L604.55,732.29 L604.90,732.13 L605.25,731.84 L605.60,732.33 L605.95,732.72 L606.30,732.98 L606.65,733.16 L607.00,733.30 L607.35,733.43 L607.70,733.53 L608.05,733.58 L608.40,733.57 L608.75,733.47 L609.10,733.75 L609.45,734.03 L609.80,734.22 L610.15,734.34 L610.50,734.42 L610.85,734.49 L611.20,734.52 L611.55,734.52 L611.90,734.45 L612.25,734.27 L612.60,734.28 L612.95,734.36 L613.30,734.37 L613.65,734.33 L614.00,734.25 L614.35,734.16 L614.70,734.04 L615.05,733.87 L615.40,733.64 L615.75,733.29 L616.10,733.15 L616.45,733.24 L616.80,733.25 L617.15,733.19 L617.50,733.09 L617.85,732.98 L618.20,732.86 L618.55,732.69 L618.90,732.44 L619.25,732.07 L619.60,731.88 L619.95,732.15 L620.30,732.31 L620.65,732.37 L621.00,732.38 L621.35,732.38 L621.70,732.37 L622.05,732.33 L622.40,732.22 L622.75,732.00 L623.10,731.85 L623.45,732.28 L623.80,732.57 L624.15,732.76 L624.50,732.89 L624.85,733.00 L625.20,733.11 L625.55,733.19 L625.90,733.22 L626.25,733.18 L626.60,733.09 L626.95,733.48 L627.30,733.75 L627.65,733.94 L628.00,734.08 L628.35,734.19 L628.70,734.28 L629.05,734.35 L629.40,734.38 L629.75,734.36 L630.10,734.27 L630.45,734.34 L630.80,734.38 L631.15,734.35 L631.50,734.29 L631.85,734.20 L632.20,734.10 L632.55,733.97 L632.90,733.80 L633.25,733.56 L633.60,733.21 L633.95,733.21 L634.30,733.26 L634.65,733.24 L635.00,733.17 L635.35,733.07 L635.70,732.97 L636.05,732.86 L636.40,732.70 L636.75,732.46 L637.10,732.11 L637.45,732.15 L637.80,732.35 L638.15,732.46 L638.50,732.51 L638.85,732.52 L639.20,732.53 L639.55,732.54 L639.90,732.50 L640.25,732.41 L640.60,732.23 L640.95,732.31 L641.30,732.64 L641.65,732.87 L642.00,733.03 L642.35,733.15 L642.70,733.26 L643.05,733.36 L643.40,733.44 L643.75,733.47 L644.10,733.45 L644.45,733.52 L644.80,733.81 L645.15,734.02 L645.50,734.17 L645.85,734.28 L646.20,734.37 L646.55,734.45 L646.90,734.50 L647.25,734.52 L647.60,734.48 L647.95,734.46 L648.30,734.60 L648.65,734.64 L649.00,734.64 L649.35,734.61 L649.70,734.55 L650.05,734.48 L650.40,734.39 L650.75,734.25 L651.10,734.06 L651.45,733.82 L651.80,733.86 L652.15,733.84 L652.50,733.78 L652.85,733.69 L653.20,733.58 L653.55,733.46 L653.90,733.33 L654.25,733.16 L654.60,732.92 L654.95,732.60 L655.30,732.70 L655.65,732.77 L656.00,732.79 L656.35,732.76 L656.70,732.72 L657.05,732.69 L657.40,732.64 L657.75,732.57 L658.10,732.44 L658.45,732.23 L658.80,732.40 L659.15,732.61 L659.50,732.76 L659.85,732.86 L660.20,732.94 L660.55,733.02 L660.90,733.09 L661.25,733.14 L661.60,733.15 L661.95,733.11 L662.30,733.29 L662.65,733.54 L663.00,733.72 L663.35,733.86 L663.70,733.98 L664.05,734.09 L664.40,734.19 L664.75,734.26 L665.10,734.30 L665.45,734.31 L665.80,734.39 L666.15,734.54 L666.50,734.64 L666.85,734.62 L667.20,734.56 L667.55,734.50 L667.90,734.41 L668.25,734.31 L668.60,734.17 L668.95,733.98 L669.30,733.83 L669.65,733.83 L670.00,733.78 L670.35,733.70 L670.70,733.61 L671.05,733.50 L671.40,733.40 L671.75,733.27 L672.10,733.12 L672.45,732.92 L672.80,732.74 L673.15,732.82 L673.50,732.86 L673.85,732.86 L674.20,732.84 L674.55,732.82 L674.90,732.80 L675.25,732.77 L675.60,732.72 L675.95,732.63 L676.30,732.52 L676.65,732.73 L677.00,732.88 L677.35,733.00 L677.70,733.09 L678.05,733.17 L678.40,733.26 L678.75,733.34 L679.10,733.40 L679.45,733.43 L679.80,733.43 L680.15,733.65 L680.50,733.83 L680.85,733.98 L681.20,734.10 L681.55,734.20 L681.90,734.30 L682.25,734.38 L682.60,734.45 L682.95,734.49 L683.30,734.50 L683.65,734.60 L684.00,734.69 L684.35,734.74 L684.70,734.78 L685.05,734.79 L685.40,734.79 L685.75,734.79 L686.10,734.78 L686.45,734.75 L686.80,734.71 L687.15,734.72 L687.15,735.80 L686.80,735.80 L686.45,735.82 L686.10,735.86 L685.75,735.93 L685.40,736.02 L685.05,736.07 L684.70,735.96 L684.35,735.89 L684.00,735.83 L683.65,735.80 L683.30,735.79 L682.95,735.81 L682.60,735.85 L682.25,735.84 L681.90,735.76 L681.55,735.67 L681.20,735.57 L680.85,735.46 L680.50,735.32 L680.15,735.14 L679.80,734.92 L679.45,734.93 L679.10,734.90 L678.75,734.84 L678.40,734.77 L678.05,734.69 L677.70,734.61 L677.35,734.52 L677.00,734.41 L676.65,734.26 L676.30,734.06 L675.95,734.17 L675.60,734.27 L675.25,734.32 L674.90,734.35 L674.55,734.37 L674.20,734.40 L673.85,734.43 L673.50,734.43 L673.15,734.40 L672.80,734.32 L672.45,734.50 L672.10,734.71 L671.75,734.87 L671.40,734.99 L671.05,735.11 L670.70,735.22 L670.35,735.32 L670.00,735.40 L669.65,735.45 L669.30,735.46 L668.95,735.61 L668.60,735.79 L668.25,735.85 L667.90,735.93 L667.55,736.04 L667.20,736.03 L666.85,735.92 L666.50,735.84 L666.15,735.78 L665.80,735.75 L665.45,735.75 L665.10,735.78 L664.75,735.83 L664.40,735.88 L664.05,735.78 L663.70,735.68 L663.35,735.57 L663.00,735.43 L662.65,735.25 L662.30,735.00 L661.95,734.83 L661.60,734.88 L661.25,734.87 L660.90,734.83 L660.55,734.75 L660.20,734.68 L659.85,734.60 L659.50,734.51 L659.15,734.37 L658.80,734.16 L658.45,734.00 L658.10,734.21 L657.75,734.34 L657.40,734.42 L657.05,734.47 L656.70,734.51 L656.35,734.56 L656.00,734.58 L655.65,734.58 L655.30,734.51 L654.95,734.41 L654.60,734.73 L654.25,734.97 L653.90,735.15 L653.55,735.29 L653.20,735.41 L652.85,735.52 L652.50,735.62 L652.15,735.69 L651.80,735.71 L651.45,735.67 L651.10,735.73 L650.75,735.77 L650.40,735.84 L650.05,735.95 L649.70,736.08 L649.35,735.98 L649.00,735.87 L648.65,735.78 L648.30,735.73 L647.95,735.71 L647.60,735.72 L647.25,735.75 L646.90,735.82 L646.55,735.92 L646.20,736.06 L645.85,736.00 L645.50,735.88 L645.15,735.79 L644.80,735.73 L644.45,735.47 L644.10,735.39 L643.75,735.42 L643.40,735.40 L643.05,735.32 L642.70,735.22 L642.35,735.12 L642.00,735.00 L641.65,734.85 L641.30,734.62 L640.95,734.30 L640.60,734.22 L640.25,734.41 L639.90,734.51 L639.55,734.55 L639.20,734.55 L638.85,734.55 L638.50,734.55 L638.15,734.51 L637.80,734.41 L637.45,734.22 L637.10,734.20 L636.75,734.55 L636.40,734.80 L636.05,734.97 L635.70,735.09 L635.35,735.21 L635.00,735.31 L634.65,735.39 L634.30,735.42 L633.95,735.39 L633.60,735.39 L633.25,735.70 L632.90,735.75 L632.55,735.84 L632.20,735.97 L631.85,736.08 L631.50,735.93 L631.15,735.81 L630.80,735.73 L630.45,735.68 L630.10,735.67 L629.75,735.68 L629.40,735.74 L629.05,735.82 L628.70,735.94 L628.35,736.10 L628.00,735.94 L627.65,735.82 L627.30,735.73 L626.95,735.68 L626.60,735.48 L626.25,735.57 L625.90,735.62 L625.55,735.60 L625.20,735.53 L624.85,735.44 L624.50,735.34 L624.15,735.21 L623.80,735.03 L623.45,734.75 L623.10,734.34 L622.75,734.50 L622.40,734.72 L622.05,734.85 L621.70,734.90 L621.35,734.91 L621.00,734.93 L620.65,734.92 L620.30,734.87 L619.95,734.73 L619.60,734.46 L619.25,734.66 L618.90,735.05 L618.55,735.30 L618.20,735.48 L617.85,735.61 L617.50,735.74 L617.15,735.85 L616.80,735.75 L616.45,735.67 L616.10,735.64 L615.75,735.64 L615.40,735.67 L615.05,735.74 L614.70,735.85 L614.35,736.00 L614.00,736.02 L613.65,735.87 L613.30,735.75 L612.95,735.67 L612.60,735.63 L612.25,735.63 L611.90,735.66 L611.55,735.73 L611.20,735.83 L610.85,735.97 L610.50,736.05 L610.15,735.89 L609.80,735.76 L609.45,735.68 L609.10,735.63 L608.75,735.62 L608.40,735.64 L608.05,735.71 L607.70,735.81 L607.35,735.95 L607.00,736.07 L606.65,735.90 L606.30,735.77 L605.95,735.68 L605.60,735.31 L605.25,734.83 L604.90,735.13 L604.55,735.30 L604.20,735.36 L603.85,735.35 L603.50,735.31 L603.15,735.27 L602.80,735.19 L602.45,735.03 L602.10,734.74 L601.75,734.28 L601.40,734.74 L601.05,735.11 L600.70,735.34 L600.35,735.48 L600.00,735.58 L599.65,735.67 L599.30,735.74 L598.95,735.69 L598.60,735.62 L598.25,735.42 L597.90,735.60 L597.55,735.65 L597.20,735.74 L596.85,735.87 L596.50,736.04 L596.15,735.97 L595.80,735.81 L595.45,735.70 L595.10,735.62 L594.75,735.58 L594.40,735.59 L594.05,735.63 L593.70,735.72 L593.35,735.85 L593.00,736.02 L592.65,735.99 L592.30,735.83 L591.95,735.70 L591.60,735.62 L591.25,735.58 L590.90,735.58 L590.55,735.62 L590.20,735.70 L589.85,735.82 L589.50,735.99 L589.15,736.01 L588.80,735.84 L588.45,735.71 L588.10,735.62 L587.75,735.16 L587.40,734.89 L587.05,735.25 L586.70,735.44 L586.35,735.51 L586.00,735.51 L585.65,735.48 L585.30,735.44 L584.95,735.35 L584.60,735.13 L584.25,734.75 L583.90,734.45 L583.55,735.06 L583.20,735.46 L582.85,735.70 L582.50,735.86 L582.15,735.97 L581.80,735.88 L581.45,735.73 L581.10,735.63 L580.75,735.57 L580.40,735.55 L580.05,735.57 L579.70,735.64 L579.35,735.75 L579.00,735.90 L578.65,736.10 L578.30,735.90 L577.95,735.75 L577.60,735.63 L577.25,735.57 L576.90,735.54 L576.55,735.56 L576.20,735.62 L575.85,735.73 L575.50,735.87 L575.15,736.07 L574.80,735.93 L574.45,735.76 L574.10,735.64 L573.75,735.57 L573.40,735.53 L573.05,735.54 L572.70,735.60 L572.35,735.70 L572.00,735.85 L571.65,736.04 L571.30,735.95 L570.95,735.78 L570.60,735.65 L570.25,735.52 L569.90,734.83 L569.55,734.91 L569.20,735.33 L568.85,735.56 L568.50,735.65 L568.15,735.66 L567.80,735.66 L567.45,735.63 L567.10,735.50 L566.75,735.21 L566.40,734.70 L566.05,734.79 L565.70,735.47 L565.35,735.66 L565.00,735.79 L564.65,735.97 L564.30,736.00 L563.95,735.81 L563.60,735.67 L563.25,735.57 L562.90,735.52 L562.55,735.51 L562.20,735.55 L561.85,735.63 L561.50,735.76 L561.15,735.94 L560.80,736.03 L560.45,735.83 L560.10,735.68 L559.75,735.57 L559.40,735.51 L559.05,735.49 L558.70,735.52 L558.35,735.60 L558.00,735.73 L557.65,735.91 L557.30,736.06 L556.95,735.85 L556.60,735.67 L556.25,735.55 L555.90,735.48 L555.55,735.45 L555.20,735.48 L554.85,735.55 L554.50,735.68 L554.15,735.86 L553.80,736.10 L553.45,735.86 L553.10,735.67 L552.75,735.53 L552.40,735.45 L552.05,735.00 L551.70,735.43 L551.35,735.50 L551.00,735.63 L550.65,735.82 L550.30,736.06 L549.95,735.88 L549.60,735.67 L549.25,735.52 L548.90,735.42 L548.55,735.15 L548.20,735.38 L547.85,735.45 L547.50,735.58 L547.15,735.77 L546.80,736.02 L546.45,735.90 L546.10,735.68 L545.75,735.50 L545.40,735.39 L545.05,735.34 L544.70,735.34 L544.35,735.41 L544.00,735.53 L543.65,735.72 L543.30,735.97 L542.95,735.93 L542.60,735.68 L542.25,735.49 L541.90,735.37 L541.55,735.30 L541.20,735.30 L540.85,735.36 L540.50,735.48 L540.15,735.67 L539.80,735.92 L539.45,735.97 L539.10,735.70 L538.75,735.49 L538.40,735.35 L538.05,735.27 L537.70,735.25 L537.35,735.31 L537.00,735.43 L536.65,735.62 L536.30,735.87 L535.95,736.00 L535.60,735.71 L535.25,735.49 L534.90,735.33 L534.55,735.23 L534.20,735.21 L533.85,735.26 L533.50,735.37 L533.15,735.56 L532.80,735.82 L532.45,736.05 L532.10,735.73 L531.75,735.49 L531.40,735.31 L531.05,735.21 L530.70,734.87 L530.35,735.21 L530.00,735.32 L529.65,735.50 L529.30,735.76 L528.95,736.10 L528.60,735.76 L528.25,735.49 L527.90,735.30 L527.55,735.18 L527.20,735.13 L526.85,735.16 L526.50,735.26 L526.15,735.45 L525.80,735.71 L525.45,736.05 L525.10,735.79 L524.75,735.50 L524.40,735.29 L524.05,735.15 L523.70,735.09 L523.35,735.11 L523.00,735.21 L522.65,735.39 L522.30,735.65 L521.95,735.99 L521.60,735.83 L521.25,735.52 L520.90,735.28 L520.55,735.13 L520.20,735.06 L519.85,735.07 L519.50,735.16 L519.15,735.33 L518.80,735.59 L518.45,735.93 L518.10,735.87 L517.75,735.54 L517.40,735.28 L517.05,735.11 L516.70,735.02 L516.35,735.02 L516.00,735.10 L515.65,735.27 L515.30,735.52 L514.95,735.86 L514.60,735.92 L514.25,735.56 L513.90,735.29 L513.55,735.10 L513.20,734.99 L512.85,734.98 L512.50,735.05 L512.15,735.21 L511.80,735.46 L511.45,735.80 L511.10,735.97 L510.75,735.59 L510.40,735.29 L510.05,735.08 L509.70,734.96 L509.35,734.93 L509.00,734.99 L508.65,735.15 L508.30,735.39 L507.95,735.73 L507.60,736.03 L507.25,735.62 L506.90,735.30 L506.55,735.07 L506.20,734.94 L505.85,734.89 L505.50,734.94 L505.15,735.09 L504.80,735.33 L504.45,735.66 L504.10,736.10 L503.75,735.66 L503.40,735.32 L503.05,735.07 L502.70,734.91 L502.35,734.85 L502.00,734.89 L501.65,735.03 L501.30,735.26 L500.95,735.59 L500.60,736.03 L500.25,735.71 L499.90,735.34 L499.55,735.06 L499.20,734.89 L498.85,734.81 L498.50,734.84 L498.15,734.96 L497.80,735.19 L497.45,735.52 L497.10,735.96 L496.75,735.76 L496.40,735.36 L496.05,735.07 L495.70,734.87 L495.35,734.78 L495.00,734.79 L494.65,734.90 L494.30,735.12 L493.95,735.45 L493.60,735.88 L493.25,735.81 L492.90,735.39 L492.55,735.07 L492.20,734.86 L491.85,734.75 L491.50,734.74 L491.15,734.85 L490.80,735.06 L490.45,735.38 L490.10,735.81 L489.75,735.87 L489.40,735.43 L489.05,735.08 L488.70,734.85 L488.35,734.72 L488.00,734.70 L487.65,734.79 L487.30,734.99 L486.95,735.30 L486.60,735.73 L486.25,735.94 L485.90,735.47 L485.55,735.10 L485.20,734.84 L484.85,734.69 L484.50,734.65 L484.15,734.73 L483.80,734.92 L483.45,735.23 L483.10,735.65 L482.75,736.02 L482.40,735.51 L482.05,735.12 L481.70,734.83 L481.35,734.66 L481.00,733.39 L480.65,734.67 L480.30,734.85 L479.95,735.15 L479.60,735.56 L479.25,736.10 L478.90,735.55 L478.55,735.12 L478.20,734.79 L477.85,734.47 L477.50,732.61 L477.15,734.55 L476.80,734.71 L476.45,735.01 L476.10,735.44 L475.75,736.01 L475.40,735.58 L475.05,735.09 L474.70,734.73 L474.35,734.49 L474.00,734.38 L473.65,734.40 L473.30,734.57 L472.95,734.87 L472.60,735.31 L472.25,735.90 L471.90,735.63 L471.55,735.08 L471.20,734.67 L470.85,734.39 L470.50,734.25 L470.15,734.26 L469.80,734.42 L469.45,734.72 L469.10,735.18 L468.75,735.79 L468.40,735.69 L468.05,735.08 L467.70,734.62 L467.35,734.30 L467.00,734.13 L466.65,734.12 L466.30,734.26 L465.95,734.57 L465.60,735.03 L465.25,735.66 L464.90,735.77 L464.55,735.09 L464.20,734.58 L463.85,734.22 L463.50,734.02 L463.15,733.98 L462.80,734.11 L462.45,734.41 L462.10,734.88 L461.75,735.53 L461.40,735.86 L461.05,735.12 L460.70,734.55 L460.35,734.14 L460.00,733.90 L459.65,733.84 L459.30,733.95 L458.95,734.25 L458.60,734.72 L458.25,735.38 L457.90,735.97 L457.55,735.16 L457.20,734.53 L456.85,734.07 L456.50,733.80 L456.15,733.71 L455.80,733.80 L455.45,734.08 L455.10,734.56 L454.75,735.23 L454.40,736.10 L454.05,735.22 L453.70,734.53 L453.35,734.02 L453.00,733.70 L452.65,733.57 L452.30,733.65 L451.95,733.92 L451.60,734.39 L451.25,735.07 L450.90,735.96 L450.55,735.29 L450.20,734.53 L449.85,733.97 L449.50,733.61 L449.15,733.45 L448.80,733.49 L448.45,733.75 L448.10,734.22 L447.75,734.90 L447.40,735.80 L447.05,735.38 L446.70,734.56 L446.35,733.93 L446.00,733.52 L445.65,733.33 L445.30,733.34 L444.95,733.58 L444.60,734.04 L444.25,734.73 L443.90,735.64 L443.55,735.49 L443.20,734.59 L442.85,733.91 L442.50,733.45 L442.15,733.21 L441.80,733.20 L441.45,733.41 L441.10,733.86 L440.75,734.54 L440.40,735.47 L440.05,735.61 L439.70,734.64 L439.35,733.89 L439.00,733.37 L438.65,733.09 L438.30,733.04 L437.95,733.23 L437.60,733.66 L437.25,734.34 L436.90,735.28 L436.55,735.75 L436.20,734.70 L435.85,733.87 L435.50,733.29 L435.15,732.96 L434.80,732.87 L434.45,733.03 L434.10,733.45 L433.75,734.14 L433.40,735.08 L433.05,735.92 L432.70,734.77 L432.35,733.87 L432.00,733.22 L431.65,732.83 L431.30,732.71 L430.95,732.84 L430.60,733.24 L430.25,733.92 L429.90,734.87 L429.55,736.10 L429.20,734.86 L428.85,733.88 L428.50,733.16 L428.15,732.72 L427.80,732.55 L427.45,732.65 L427.10,733.03 L426.75,733.70 L426.40,734.65 L426.05,735.90 L425.70,734.97 L425.35,733.91 L425.00,733.12 L424.65,732.61 L424.30,731.79 L423.95,732.46 L423.60,732.82 L423.25,733.47 L422.90,734.43 L422.55,735.68 L422.20,735.10 L421.85,733.95 L421.50,733.09 L421.15,732.52 L420.80,732.25 L420.45,732.27 L420.10,732.61 L419.75,733.24 L419.40,734.19 L419.05,735.46 L418.70,735.26 L418.35,734.01 L418.00,733.00 L417.65,732.21 L417.30,726.87 L416.95,729.00 L416.60,730.63 L416.25,730.06 L415.90,727.33 L415.55,723.54 L415.20,726.80 L414.85,730.90 L414.50,733.00 L414.15,730.90 L413.80,722.80 L413.45,715.70 L413.10,720.60 L412.75,724.75 L412.40,726.10 L412.05,722.24 L411.70,714.12 L411.35,706.00 L411.00,713.47 L410.65,720.93 L410.30,725.00 L409.95,723.50 L409.60,714.73 L409.25,702.00 L408.90,713.45 L408.55,721.50 L408.20,723.00 L407.85,718.20 L407.50,705.60 L407.15,713.00 L406.80,725.00 L406.45,727.50 L406.10,724.00 L405.75,710.58 L405.40,704.00 L405.05,714.50 L404.70,721.00 L404.35,721.50 L404.00,716.33 L403.65,707.00 L403.30,709.33 L402.95,720.42 L402.60,725.00 L402.25,723.50 L401.90,720.22 L401.55,723.47 L401.20,742.60 L400.85,744.70 L400.50,739.52 L400.15,737.84 L399.80,738.12 L399.45,761.75 L399.10,783.44 L398.75,785.24 L398.40,782.72 L398.05,774.25 L397.70,791.05 L397.35,813.70 L397.00,816.50 L396.65,813.70 L396.30,806.10 L395.95,805.45 L395.60,868.10 L395.25,888.00 L394.90,889.20 L394.55,886.40 L394.20,876.40 L393.85,876.30 L393.50,891.00 L393.15,893.80 L392.80,893.40 L392.45,889.40 L392.10,878.20 L391.75,890.00 L391.40,905.80 L391.05,908.60 L390.70,906.60 L390.35,878.00 L390.00,876.00 L389.65,878.80 L389.30,878.40 L388.95,873.27 L388.60,854.13 L388.25,835.00 L387.90,842.47 L387.55,849.93 L387.20,853.40 L386.85,853.80 L386.50,851.00 L386.15,830.22 L385.80,809.45 L385.45,788.67 L385.10,778.24 L384.75,781.60 L384.40,784.96 L384.05,788.32 L383.70,791.20 L383.35,791.60 L383.00,788.80 L382.65,780.18 L382.30,771.55 L381.95,762.93 L381.60,759.20 L381.25,762.00 L380.90,764.80 L380.55,767.60 L380.20,770.40 L379.85,770.80 L379.50,768.00 L379.15,765.45 L378.80,762.91 L378.45,760.36 L378.10,763.11 L377.75,766.74 L377.40,770.36 L377.05,773.20 L376.70,774.28 L376.35,771.76 L376.00,769.60 L375.65,767.50 L375.30,765.40 L374.95,763.30 L374.60,766.94 L374.25,771.54 L373.90,776.14 L373.55,780.74 L373.20,783.56 L372.85,783.92 L372.50,781.40 L372.15,781.40 L371.80,781.40 L371.45,781.40 L371.10,781.40 L370.75,781.40 L370.40,781.40 L370.05,781.40 L369.70,775.33 L369.35,780.34 L369.00,778.40 L368.65,771.93 L368.30,766.93 L367.95,763.32 L367.60,760.98 L367.25,759.79 L366.90,759.56 L366.55,760.12 L366.20,761.27 L365.85,762.81 L365.50,761.25 L365.15,756.30 L364.80,752.58 L364.45,749.88 L364.10,748.02 L363.75,746.81 L363.40,746.09 L363.05,745.73 L362.70,745.62 L362.35,745.71 L362.00,745.29 L361.65,744.11 L361.30,743.79 L360.95,743.69 L360.60,743.85 L360.25,744.32 L359.90,745.19 L359.55,746.53 L359.20,748.46 L358.85,751.09 L358.50,753.82 L358.15,752.66 L357.80,751.74 L357.45,751.16 L357.10,751.02 L356.75,751.45 L356.40,752.53 L356.05,754.37 L355.70,757.03 L355.35,760.59 L355.00,765.06 L354.65,761.76 L354.30,759.06 L353.95,757.05 L353.60,755.79 L353.25,755.32 L352.90,755.67 L352.55,756.83 L352.20,758.75 L351.85,761.38 L351.50,764.62 L351.15,761.22 L350.80,757.51 L350.45,754.70 L350.10,752.72 L349.75,751.51 L349.40,750.97 L349.05,750.99 L348.70,751.48 L348.35,752.30 L348.00,753.35 L347.65,751.16 L347.30,748.35 L346.95,746.26 L346.60,744.77 L346.25,743.77 L345.90,743.15 L345.55,742.82 L345.20,742.70 L344.85,742.75 L344.50,742.94 L344.15,742.36 L343.80,742.04 L343.45,741.87 L343.10,741.87 L342.75,742.06 L342.40,742.49 L342.05,743.23 L341.70,744.34 L341.35,745.92 L341.00,748.03 L340.65,749.12 L340.30,748.31 L339.95,747.69 L339.60,747.34 L339.25,747.35 L338.90,747.79 L338.55,748.74 L338.20,750.26 L337.85,752.41 L337.50,755.21 L337.15,756.90 L336.80,754.58 L336.45,752.73 L336.10,751.41 L335.75,750.65 L335.40,750.47 L335.05,750.90 L334.70,751.91 L334.35,753.47 L334.00,755.53 L333.65,757.13 L333.30,753.92 L332.95,751.39 L332.60,749.50 L332.25,748.22 L331.90,747.48 L331.55,747.22 L331.20,747.35 L330.85,747.80 L330.50,748.48 L330.15,749.30 L329.80,746.81 L329.45,744.91 L329.10,743.52 L328.75,742.54 L328.40,741.90 L328.05,741.53 L327.70,741.36 L327.35,741.35 L327.00,741.46 L326.65,741.68 L326.30,741.21 L325.95,740.98 L325.60,740.86 L325.25,740.89 L324.90,741.08 L324.55,741.48 L324.20,742.14 L323.85,743.12 L323.50,744.47 L323.15,746.26 L322.80,746.34 L322.45,745.71 L322.10,745.26 L321.75,745.05 L321.40,745.13 L321.05,745.58 L320.70,746.43 L320.35,747.74 L320.00,749.55 L319.65,751.87 L319.30,751.89 L318.95,750.17 L318.60,748.84 L318.25,747.92 L317.90,747.46 L317.55,747.45 L317.20,747.90 L316.85,748.79 L316.50,750.10 L316.15,751.77 L315.80,751.72 L315.45,749.40 L315.10,747.60 L314.75,746.29 L314.40,745.43 L314.05,744.98 L313.70,744.86 L313.35,745.04 L313.00,745.44 L312.65,746.00 L312.30,745.87 L311.95,744.11 L311.60,742.78 L311.25,741.81 L310.90,741.14 L310.55,740.72 L310.20,740.50 L309.85,740.42 L309.50,740.46 L309.15,740.61 L308.80,740.69 L308.45,740.41 L308.10,740.24 L307.75,740.18 L307.40,740.23 L307.05,740.44 L306.70,740.82 L306.35,741.43 L306.00,742.31 L305.65,743.51 L305.30,745.07 L304.95,744.48 L304.60,744.01 L304.25,743.70 L303.90,743.59 L303.55,743.74 L303.20,744.18 L302.85,744.97 L302.50,746.12 L302.15,747.67 L301.80,749.62 L301.45,748.62 L301.10,747.34 L300.75,746.38 L300.40,745.75 L300.05,745.49 L299.70,745.58 L299.35,746.03 L299.00,746.82 L298.65,747.92 L298.30,749.30 L297.95,748.27 L297.60,746.55 L297.25,745.24 L296.90,744.30 L296.55,743.70 L296.20,743.41 L295.85,743.38 L295.50,743.57 L295.15,743.92 L294.80,744.39 L294.45,743.70 L294.10,742.40 L293.75,741.42 L293.40,740.72 L293.05,740.25 L292.70,739.96 L292.35,739.82 L292.00,739.79 L291.65,739.87 L291.30,740.03 L290.95,740.04 L290.60,739.83 L290.25,739.70 L289.90,739.67 L289.55,739.75 L289.20,739.96 L288.85,740.33 L288.50,740.89 L288.15,741.69 L287.80,742.76 L287.45,743.56 L287.10,743.09 L286.75,742.74 L286.40,742.52 L286.05,742.49 L285.70,742.68 L285.35,743.12 L285.00,743.84 L284.65,744.86 L284.30,746.19 L283.95,747.41 L283.60,746.22 L283.25,745.26 L282.90,744.56 L282.55,744.14 L282.20,744.00 L281.85,744.15 L281.50,744.58 L281.15,745.28 L280.80,746.22 L280.45,747.38 L280.10,745.76 L279.75,744.48 L279.40,743.50 L279.05,742.83 L278.70,742.41 L278.35,742.24 L278.00,742.26 L277.65,742.44 L277.30,742.75 L276.95,743.15 L276.60,742.15 L276.25,741.17 L275.90,740.44 L275.55,739.93 L275.20,739.59 L274.85,739.39 L274.50,739.31 L274.15,739.33 L273.80,739.43 L273.45,739.61 L273.10,739.55 L272.75,739.38 L272.40,739.29 L272.05,739.28 L271.70,739.38 L271.35,739.59 L271.00,739.95 L270.65,740.49 L270.30,741.22 L269.95,742.19 L269.60,742.43 L269.25,742.06 L268.90,741.80 L268.55,741.66 L268.20,741.69 L267.85,741.90 L267.50,742.33 L267.15,742.99 L266.80,743.90 L266.45,745.08 L266.10,745.41 L265.75,744.48 L265.40,743.75 L265.05,743.24 L264.70,742.96 L264.35,742.91 L264.00,743.10 L263.65,743.51 L263.30,744.13 L262.95,744.95 L262.60,745.23 L262.25,743.98 L261.90,742.99 L261.55,742.26 L261.20,741.77 L260.85,741.48 L260.50,741.38 L260.15,741.43 L259.80,741.61 L259.45,741.89 L259.10,742.03 L258.75,741.05 L258.40,740.30 L258.05,739.75 L257.70,739.36 L257.35,739.12 L257.00,738.99 L256.65,738.95 L256.30,739.00 L255.95,739.13 L255.60,739.41 L255.25,739.20 L254.90,739.07 L254.55,739.01 L254.20,739.03 L253.85,739.14 L253.50,739.37 L253.15,739.74 L252.80,740.26 L252.45,740.97 L252.10,741.88 L251.75,741.71 L251.40,741.41 L251.05,741.21 L250.70,741.13 L250.35,741.20 L250.00,741.44 L249.65,741.87 L249.30,742.50 L248.95,743.35 L248.60,744.43 L248.25,744.14 L247.90,743.39 L247.55,742.81 L247.20,742.42 L246.85,742.23 L246.50,742.24 L246.15,742.46 L245.80,742.86 L245.45,743.43 L245.10,744.17 L244.75,743.84 L244.40,742.83 L244.05,742.04 L243.70,741.46 L243.35,741.08 L243.00,740.87 L242.65,740.82 L242.30,740.89 L241.95,741.07 L241.60,741.33 L241.25,741.10 L240.90,740.31 L240.55,739.70 L240.20,739.26 L239.85,738.96 L239.50,738.77 L239.15,738.68 L238.80,738.68 L238.45,738.75 L238.10,738.89 L237.75,739.07 L237.40,738.90 L237.05,738.79 L236.70,738.75 L236.35,738.78 L236.00,738.91 L235.65,739.15 L235.30,739.50 L234.95,740.01 L234.60,740.67 L234.25,741.33 L233.90,741.02 L233.55,740.78 L233.20,740.63 L232.85,740.60 L232.50,740.70 L232.15,740.95 L231.80,741.37 L231.45,741.96 L231.10,742.74 L230.75,743.70 L230.40,742.96 L230.05,742.36 L229.70,741.91 L229.35,741.63 L229.00,741.52 L228.65,741.57 L228.30,741.79 L227.95,742.17 L227.60,742.69 L227.25,743.34 L226.90,742.60 L226.55,741.79 L226.20,741.17 L225.85,740.73 L225.50,740.44 L225.15,740.30 L224.80,740.28 L224.45,740.36 L224.10,740.54 L223.75,740.77 L223.40,740.29 L223.05,739.66 L222.70,739.18 L222.35,738.83 L222.00,738.60 L221.65,738.47 L221.30,738.42 L220.95,738.44 L220.60,738.54 L220.25,738.74 L219.90,738.80 L219.55,738.65 L219.20,738.57 L218.85,738.55 L218.50,738.61 L218.15,738.76 L217.80,739.01 L217.45,739.38 L217.10,739.88 L216.75,740.53 L216.40,740.84 L216.05,740.58 L215.70,740.38 L215.35,740.29 L215.00,740.29 L214.65,740.43 L214.30,740.69 L213.95,741.11 L213.60,741.69 L213.25,742.43 L212.90,742.86 L212.55,742.23 L212.20,741.74 L211.85,741.38 L211.50,741.17 L211.15,741.11 L210.80,741.20 L210.45,741.43 L210.10,741.79 L209.75,742.28 L209.40,742.65 L209.05,741.81 L208.70,741.14 L208.35,740.63 L208.00,740.26 L207.65,740.04 L207.30,739.94 L206.95,739.94 L206.60,740.04 L206.25,740.20 L205.90,740.43 L205.55,739.75 L205.20,739.21 L204.85,738.81 L204.50,738.53 L204.15,738.34 L203.80,738.24 L203.45,738.22 L203.10,738.27 L202.75,738.38 L202.40,738.66 L202.05,738.56 L201.70,738.44 L201.35,738.38 L201.00,738.38 L200.65,738.46 L200.30,738.62 L199.95,738.88 L199.60,739.25 L199.25,739.75 L198.90,740.38 L198.55,740.40 L198.20,740.17 L197.85,740.03 L197.50,739.97 L197.15,740.01 L196.80,740.16 L196.45,740.44 L196.10,740.85 L195.75,741.41 L195.40,742.10 L195.05,742.10 L194.70,741.58 L194.35,741.17 L194.00,740.89 L193.65,740.74 L193.30,740.72 L192.95,740.83 L192.60,741.06 L192.25,741.41 L191.90,741.86 L191.55,741.81 L191.20,741.10 L190.85,740.55 L190.50,740.13 L190.15,739.83 L189.80,739.66 L189.45,739.59 L189.10,739.61 L188.75,739.71 L188.40,739.87 L188.05,739.82 L187.70,739.25 L187.35,738.81 L187.00,738.48 L186.65,738.24 L186.30,738.10 L185.95,738.03 L185.60,738.03 L185.25,738.09 L184.90,738.21 L184.55,738.46 L184.20,738.30 L183.85,738.19 L183.50,738.14 L183.15,738.15 L182.80,738.24 L182.45,738.40 L182.10,738.64 L181.75,738.99 L181.40,739.44 L181.05,740.01 L180.70,739.77 L180.35,739.59 L180.00,739.48 L179.65,739.45 L179.30,739.51 L178.95,739.67 L178.60,739.93 L178.25,740.30 L177.90,740.79 L177.55,741.39 L177.20,741.06 L176.85,740.66 L176.50,740.35 L176.15,740.15 L175.80,740.06 L175.45,740.07 L175.10,740.18 L174.75,740.40 L174.40,740.71 L174.05,741.10 L173.70,740.76 L173.35,740.21 L173.00,739.79 L172.65,739.47 L172.30,739.25 L171.95,739.14 L171.60,739.10 L171.25,739.14 L170.90,739.25 L170.55,739.41 L170.20,739.18 L169.85,738.73 L169.50,738.38 L169.15,738.12 L168.80,737.95 L168.45,737.85 L168.10,737.82 L167.75,737.84 L167.40,737.93 L167.05,738.15 L166.70,738.26 L166.35,738.12 L166.00,738.04 L165.65,738.02 L165.30,738.06 L164.95,738.16 L164.60,738.35 L164.25,738.62 L163.90,738.98 L163.55,739.44 L163.20,739.78 L162.85,739.58 L162.50,739.43 L162.15,739.36 L161.80,739.36 L161.45,739.45 L161.10,739.62 L160.75,739.90 L160.40,740.29 L160.05,740.78 L159.70,741.21 L159.35,740.77 L159.00,740.42 L158.65,740.16 L158.30,740.00 L157.95,739.94 L157.60,739.97 L157.25,740.10 L156.90,740.32 L156.55,740.62 L156.20,740.99 L155.85,740.40 L155.50,739.91 L155.15,739.54 L154.80,739.26 L154.45,739.08 L154.10,738.98 L153.75,738.96 L153.40,739.00 L153.05,739.10 L152.70,739.26 L152.35,738.86 L152.00,738.46 L151.65,738.15 L151.30,737.92 L150.95,737.77 L150.60,737.69 L150.25,737.67 L149.90,737.71 L149.55,737.81 L149.20,738.06 L148.85,738.02 L148.50,737.90 L148.15,737.82 L147.80,737.80 L147.45,737.84 L147.10,737.95 L146.75,738.12 L146.40,738.36 L146.05,738.69 L145.70,739.10 L145.35,739.19 L145.00,739.02 L144.65,738.90 L144.30,738.85 L143.95,738.87 L143.60,738.95 L143.25,739.12 L142.90,739.37 L142.55,739.70 L142.20,740.12 L141.85,740.23 L141.50,739.89 L141.15,739.62 L140.80,739.43 L140.45,739.32 L140.10,739.29 L139.75,739.34 L139.40,739.46 L139.05,739.66 L138.70,739.92 L138.35,739.99 L138.00,739.54 L137.65,739.17 L137.30,738.89 L136.95,738.68 L136.60,738.55 L136.25,738.49 L135.90,738.50 L135.55,738.56 L135.20,738.67 L134.85,738.74 L134.50,738.34 L134.15,738.03 L133.80,737.79 L133.45,737.62 L133.10,737.52 L132.75,737.47 L132.40,737.48 L132.05,737.55 L131.70,737.68 L131.35,737.93 L131.00,737.77 L130.65,737.65 L130.30,737.58 L129.95,737.57 L129.60,737.61 L129.25,737.70 L128.90,737.86 L128.55,738.08 L128.20,738.36 L127.85,738.72 L127.50,738.62 L127.15,738.48 L126.80,738.38 L126.45,738.34 L126.10,738.36 L125.75,738.45 L125.40,738.59 L125.05,738.81 L124.70,739.09 L124.35,739.44 L124.00,739.33 L123.65,739.07 L123.30,738.87 L122.95,738.74 L122.60,738.66 L122.25,738.66 L121.90,738.72 L121.55,738.83 L121.20,739.01 L120.85,739.24 L120.50,739.13 L120.15,738.78 L119.80,738.51 L119.45,738.30 L119.10,738.16 L118.75,738.08 L118.40,738.05 L118.05,738.08 L117.70,738.16 L117.35,738.29 L117.00,738.23 L116.65,737.92 L116.30,737.68 L115.95,737.50 L115.60,737.38 L115.25,737.31 L114.90,737.30 L114.55,737.33 L114.20,737.42 L113.85,737.56 L113.50,737.62 L113.15,737.43 L112.80,737.28 L112.45,737.18 L112.10,737.12 L111.75,737.11 L111.40,737.14Z"/>
<g stroke="#262626" stroke-width="1.8" fill="none">
<rect x="841" y="541.4" width="648.0" height="384.6"/>
<path d="M933.6 926V919M933.6 541.4V548.4M1026.1 926V919M1026.1 541.4V548.4M1118.7 926V919M1118.7 541.4V548.4M1211.3 926V919M1211.3 541.4V548.4M1303.9 926V919M1303.9 541.4V548.4M1396.4 926V919M1396.4 541.4V548.4M841 541.4H848M1489 541.4H1482M841 637.5H848M1489 637.5H1482M841 733.7H848M1489 733.7H1482M841 829.9H848M1489 829.9H1482M841 926.0H848M1489 926.0H1482"/>
</g>
<g font-family="'Liberation Serif', serif" font-size="38.5" fill="#000">
<text x="826.5" y="555.5" text-anchor="end">2</text>
<text x="826.5" y="651.6" text-anchor="end">1</text>
<text x="826.5" y="747.8" text-anchor="end">0</text>
<text x="826.5" y="844.0" text-anchor="end">-1</text>
<text x="826.5" y="940.1" text-anchor="end">-2</text>
<text x="841.0" y="975.0" text-anchor="middle">0</text>
<text x="933.6" y="975.0" text-anchor="middle">1</text>
<text x="1026.1" y="975.0" text-anchor="middle">2</text>
<text x="1118.7" y="975.0" text-anchor="middle">3</text>
<text x="1211.3" y="975.0" text-anchor="middle">4</text>
<text x="1303.9" y="975.0" text-anchor="middle">5</text>
<text x="1396.4" y="975.0" text-anchor="middle">6</text>
<text x="1489.0" y="975.0" text-anchor="middle">7</text>
</g>
<path d="M846.5 516.5l17.5 17.5M864.0 516.5l-17.5 17.5" stroke="#000" stroke-width="1.9" fill="none"/>
<text font-family="'Liberation Serif', serif" font-size="38.5" x="873.0" y="535.0" textLength="35.7" lengthAdjust="spacingAndGlyphs">10</text>
<text font-family="'Liberation Serif', serif" font-size="30" x="907.5" y="518.0">-4</text>
<text font-family="'Liberation Serif', serif" font-size="41" x="1165" y="1023" text-anchor="middle">time (s)</text>
<text font-family="'Liberation Serif', serif" font-size="41" transform="translate(783.5,736) rotate(-90)" text-anchor="middle"><tspan font-style="italic" font-size="44">u</tspan><tspan font-style="italic" font-size="33" dy="18.5">x</tspan><tspan dy="-18.5"> (m)</tspan></text>
<path fill="#000" stroke="#000" stroke-width="1.5" stroke-linejoin="round" d="M841.50,733.60 L841.85,733.45 L842.20,733.37 L842.55,733.34 L842.90,733.35 L843.25,733.37 L843.60,733.41 L843.95,733.47 L844.30,733.58 L844.65,733.74 L845.00,733.96 L845.35,733.81 L845.70,733.73 L846.05,733.71 L846.40,733.73 L846.75,733.76 L847.10,733.80 L847.45,733.86 L847.80,733.94 L848.15,734.08 L848.50,734.28 L848.85,734.24 L849.20,734.10 L849.55,734.02 L849.90,733.98 L850.25,733.97 L850.60,733.96 L850.95,733.96 L851.30,733.98 L851.65,734.04 L852.00,734.17 L852.35,734.26 L852.70,734.03 L853.05,733.87 L853.40,733.77 L853.75,733.71 L854.10,733.66 L854.45,733.63 L854.80,733.61 L855.15,733.63 L855.50,733.72 L855.85,733.90 L856.20,733.74 L856.55,733.55 L856.90,733.43 L857.25,733.40 L857.60,733.43 L857.95,733.48 L858.30,733.54 L858.65,733.65 L859.00,733.82 L859.35,734.07 L859.70,734.22 L860.05,734.10 L860.40,734.05 L860.75,734.07 L861.10,734.13 L861.45,734.20 L861.80,734.27 L862.15,734.37 L862.50,734.50 L862.85,734.70 L863.20,734.99 L863.55,734.81 L863.90,734.67 L864.25,734.60 L864.60,734.56 L864.95,734.55 L865.30,734.53 L865.65,734.52 L866.00,734.55 L866.35,734.62 L866.70,734.78 L867.05,734.72 L867.40,734.45 L867.75,734.26 L868.10,734.13 L868.45,734.03 L868.80,733.96 L869.15,733.89 L869.50,733.85 L869.85,733.87 L870.20,733.98 L870.55,734.15 L870.90,733.83 L871.25,733.62 L871.60,733.49 L871.95,733.43 L872.30,733.46 L872.65,733.51 L873.00,733.59 L873.35,733.72 L873.70,733.92 L874.05,734.23 L874.40,734.22 L874.75,734.09 L875.10,734.04 L875.45,734.06 L875.80,734.11 L876.15,734.18 L876.50,734.25 L876.85,734.36 L877.20,734.52 L877.55,734.77 L877.90,734.97 L878.25,734.73 L878.60,734.59 L878.95,734.52 L879.30,734.49 L879.65,734.48 L880.00,734.46 L880.35,734.47 L880.70,734.52 L881.05,734.64 L881.40,734.86 L881.75,734.64 L882.10,734.37 L882.45,734.19 L882.80,734.07 L883.15,733.99 L883.50,733.92 L883.85,733.86 L884.20,733.86 L884.55,733.92 L884.90,734.09 L885.25,734.12 L885.60,733.81 L885.95,733.61 L886.30,733.49 L886.65,733.47 L887.00,733.51 L887.35,733.57 L887.70,733.67 L888.05,733.83 L888.40,734.09 L888.75,734.48 L889.10,734.28 L889.45,734.15 L889.80,734.12 L890.15,734.15 L890.50,734.21 L890.85,734.28 L891.20,734.37 L891.55,734.50 L891.90,734.70 L892.25,735.01 L892.60,735.05 L892.95,734.81 L893.30,734.68 L893.65,734.61 L894.00,734.58 L894.35,734.57 L894.70,734.56 L895.05,734.57 L895.40,734.65 L895.75,734.82 L896.10,735.06 L896.45,734.67 L896.80,734.40 L897.15,734.23 L897.50,734.11 L897.85,734.03 L898.20,733.96 L898.55,733.91 L898.90,733.93 L899.25,734.04 L899.60,734.27 L899.95,734.12 L900.30,733.81 L900.65,733.61 L901.00,733.51 L901.35,733.51 L901.70,733.56 L902.05,733.63 L902.40,733.75 L902.75,733.96 L903.10,734.28 L903.45,734.56 L903.80,734.32 L904.15,734.20 L904.50,734.18 L904.85,734.22 L905.20,734.29 L905.55,734.36 L905.90,734.46 L906.25,734.63 L906.60,734.88 L906.95,735.26 L907.30,735.09 L907.65,734.85 L908.00,734.72 L908.35,734.67 L908.70,734.64 L909.05,734.63 L909.40,734.62 L909.75,734.66 L910.10,734.78 L910.45,735.01 L910.80,735.06 L911.15,734.67 L911.50,734.41 L911.85,734.24 L912.20,734.13 L912.55,734.05 L912.90,733.99 L913.25,733.96 L913.60,734.01 L913.95,734.17 L914.30,734.49 L914.65,734.10 L915.00,733.79 L915.35,733.61 L915.70,733.52 L916.05,733.54 L916.40,733.59 L916.75,733.67 L917.10,733.82 L917.45,734.06 L917.80,734.45 L918.15,734.52 L918.50,734.27 L918.85,734.16 L919.20,734.14 L919.55,734.18 L919.90,734.24 L920.25,734.32 L920.60,734.43 L920.95,734.63 L921.30,734.93 L921.65,735.32 L922.00,734.95 L922.35,734.73 L922.70,734.61 L923.05,734.55 L923.40,734.54 L923.75,734.52 L924.10,734.53 L924.45,734.61 L924.80,734.78 L925.15,735.09 L925.50,734.92 L925.85,734.55 L926.20,734.30 L926.55,734.16 L926.90,734.07 L927.25,734.00 L927.60,733.95 L927.95,733.95 L928.30,734.06 L928.65,734.29 L929.00,734.48 L929.35,734.04 L929.70,733.76 L930.05,733.60 L930.40,733.56 L930.75,733.60 L931.10,733.65 L931.45,733.76 L931.80,733.95 L932.15,734.26 L932.50,734.73 L932.85,734.56 L933.20,734.33 L933.55,734.24 L933.90,734.24 L934.25,734.30 L934.60,734.37 L934.95,734.46 L935.30,734.61 L935.65,734.85 L936.00,735.23 L936.35,735.40 L936.70,735.04 L937.05,734.83 L937.40,734.72 L937.75,734.68 L938.10,734.66 L938.45,734.65 L938.80,734.68 L939.15,734.78 L939.50,735.01 L939.85,735.40 L940.20,734.95 L940.55,734.59 L940.90,734.36 L941.25,734.22 L941.60,734.13 L941.95,734.05 L942.30,734.01 L942.65,734.05 L943.00,734.19 L943.35,734.50 L943.70,734.45 L944.05,734.02 L944.40,733.76 L944.75,733.61 L945.10,733.59 L945.45,733.64 L945.80,733.70 L946.15,733.83 L946.50,734.06 L946.85,734.43 L947.20,734.92 L947.55,734.53 L947.90,734.32 L948.25,734.24 L948.60,734.25 L948.95,734.31 L949.30,734.38 L949.65,734.48 L950.00,734.66 L950.35,734.95 L950.70,735.41 L951.05,735.30 L951.40,734.96 L951.75,734.77 L952.10,734.67 L952.45,734.64 L952.80,734.63 L953.15,734.62 L953.50,734.67 L953.85,734.83 L954.20,735.13 L954.55,735.36 L954.90,734.85 L955.25,734.51 L955.60,734.30 L955.95,734.18 L956.30,734.10 L956.65,734.04 L957.00,734.02 L957.35,734.10 L957.70,734.31 L958.05,734.72 L958.40,734.38 L958.75,733.98 L959.10,733.74 L959.45,733.62 L959.80,733.62 L960.15,733.66 L960.50,733.73 L960.85,733.88 L961.20,734.16 L961.55,734.60 L961.90,734.81 L962.25,734.43 L962.60,734.23 L962.95,734.16 L963.30,734.18 L963.65,734.23 L964.00,734.30 L964.35,734.41 L964.70,734.62 L965.05,734.97 L965.40,735.52 L965.75,735.09 L966.10,734.76 L966.45,734.59 L966.80,734.51 L967.15,734.49 L967.50,734.47 L967.85,734.49 L968.20,734.58 L968.55,734.79 L968.90,735.18 L969.25,735.13 L969.60,734.65 L969.95,734.35 L970.30,734.17 L970.65,734.08 L971.00,734.02 L971.35,733.97 L971.70,734.00 L972.05,734.13 L972.40,734.44 L972.75,734.86 L973.10,734.29 L973.45,733.92 L973.80,733.72 L974.15,733.63 L974.50,733.65 L974.85,733.69 L975.20,733.78 L975.55,733.97 L975.90,734.30 L976.25,734.83 L976.60,734.73 L976.95,734.37 L977.30,734.18 L977.65,734.13 L978.00,734.15 L978.35,734.20 L978.70,734.27 L979.05,734.41 L979.40,734.66 L979.75,735.09 L980.10,735.43 L980.45,734.94 L980.80,734.64 L981.15,734.48 L981.50,734.42 L981.85,734.40 L982.20,734.39 L982.55,734.43 L982.90,734.57 L983.25,734.85 L983.60,735.34 L983.95,734.97 L984.30,734.52 L984.65,734.25 L985.00,734.10 L985.35,734.03 L985.70,733.98 L986.05,733.96 L986.40,734.02 L986.75,734.22 L987.10,734.61 L987.45,734.74 L987.80,734.21 L988.15,733.88 L988.50,733.71 L988.85,733.66 L989.20,733.68 L989.55,733.73 L989.90,733.85 L990.25,734.08 L990.60,734.47 L990.95,735.10 L991.30,734.64 L991.65,734.31 L992.00,734.16 L992.35,734.12 L992.70,734.15 L993.05,734.20 L993.40,734.28 L993.75,734.45 L994.10,734.76 L994.45,735.26 L994.80,735.28 L995.15,734.82 L995.50,734.55 L995.85,734.42 L996.20,734.37 L996.55,734.36 L996.90,734.36 L997.25,734.43 L997.60,734.61 L997.95,734.97 L998.30,735.45 L998.65,734.82 L999.00,734.42 L999.35,734.18 L999.70,734.06 L1000.05,734.00 L1000.40,733.96 L1000.75,733.97 L1001.10,734.08 L1001.45,734.34 L1001.80,734.83 L1002.15,734.62 L1002.50,734.13 L1002.85,733.85 L1003.20,733.70 L1003.55,733.68 L1003.90,733.71 L1004.25,733.76 L1004.60,733.90 L1004.95,734.18 L1005.30,734.65 L1005.65,735.04 L1006.00,734.52 L1006.35,734.22 L1006.70,734.08 L1007.05,734.05 L1007.40,734.08 L1007.75,734.12 L1008.10,734.22 L1008.45,734.42 L1008.80,734.79 L1009.15,735.38 L1009.50,735.04 L1009.85,734.61 L1010.20,734.37 L1010.55,734.27 L1010.90,734.23 L1011.25,734.22 L1011.60,734.24 L1011.95,734.35 L1012.30,734.59 L1012.65,735.04 L1013.00,735.19 L1013.35,734.62 L1013.70,734.26 L1014.05,734.06 L1014.40,733.97 L1014.75,733.93 L1015.10,733.91 L1015.45,733.95 L1015.80,734.12 L1016.15,734.47 L1016.50,735.07 L1016.85,734.49 L1017.20,734.06 L1017.55,733.81 L1017.90,733.71 L1018.25,733.70 L1018.60,733.73 L1018.95,733.79 L1019.30,733.96 L1019.65,734.29 L1020.00,734.84 L1020.35,734.87 L1020.70,734.38 L1021.05,734.10 L1021.40,733.98 L1021.75,733.97 L1022.10,733.99 L1022.45,734.03 L1022.80,734.14 L1023.15,734.39 L1023.50,734.83 L1023.85,735.40 L1024.20,734.77 L1024.55,734.38 L1024.90,734.17 L1025.25,734.09 L1025.60,734.07 L1025.95,734.06 L1026.30,734.11 L1026.65,734.26 L1027.00,734.58 L1027.35,735.12 L1027.70,734.91 L1028.05,734.40 L1028.40,734.09 L1028.75,733.94 L1029.10,733.88 L1029.45,733.85 L1029.80,733.86 L1030.15,733.95 L1030.50,734.19 L1030.85,734.63 L1031.20,735.00 L1031.55,734.37 L1031.90,733.99 L1032.25,733.79 L1032.60,733.72 L1032.95,733.72 L1033.30,733.75 L1033.65,733.83 L1034.00,734.04 L1034.35,734.43 L1034.70,735.06 L1035.05,734.70 L1035.40,734.24 L1035.75,734.00 L1036.10,733.90 L1036.45,733.88 L1036.80,733.89 L1037.15,733.94 L1037.50,734.08 L1037.85,734.38 L1038.20,734.89 L1038.55,735.09 L1038.90,734.51 L1039.25,734.16 L1039.60,733.98 L1039.95,733.91 L1040.30,733.90 L1040.65,733.91 L1041.00,733.98 L1041.35,734.19 L1041.70,734.59 L1042.05,735.25 L1042.40,734.64 L1042.75,734.19 L1043.10,733.93 L1043.45,733.82 L1043.80,733.78 L1044.15,733.78 L1044.50,733.82 L1044.85,733.96 L1045.20,734.28 L1045.55,734.83 L1045.90,734.83 L1046.25,734.27 L1046.60,733.94 L1046.95,733.78 L1047.30,733.73 L1047.65,733.73 L1048.00,733.75 L1048.35,733.86 L1048.70,734.11 L1049.05,734.56 L1049.40,735.16 L1049.75,734.48 L1050.10,734.06 L1050.45,733.83 L1050.80,733.75 L1051.15,733.73 L1051.50,733.74 L1051.85,733.80 L1052.20,733.98 L1052.55,734.34 L1052.90,734.95 L1053.25,734.75 L1053.60,734.22 L1053.95,733.92 L1054.30,733.78 L1054.65,733.74 L1055.00,733.74 L1055.35,733.77 L1055.70,733.89 L1056.05,734.17 L1056.40,734.67 L1056.75,735.09 L1057.10,734.43 L1057.45,734.03 L1057.80,733.83 L1058.15,733.76 L1058.50,733.75 L1058.85,733.76 L1059.20,733.83 L1059.55,734.04 L1059.90,734.44 L1060.25,735.11 L1060.60,734.69 L1060.95,734.19 L1061.30,733.91 L1061.65,733.78 L1062.00,733.75 L1062.35,733.76 L1062.70,733.80 L1063.05,733.94 L1063.40,734.25 L1063.75,734.80 L1064.10,735.01 L1064.45,734.39 L1064.80,734.01 L1065.15,733.83 L1065.50,733.77 L1065.85,733.76 L1066.20,733.78 L1066.55,733.87 L1066.90,734.11 L1067.25,734.55 L1067.60,735.27 L1067.95,734.64 L1068.30,734.16 L1068.65,733.90 L1069.00,733.79 L1069.35,733.77 L1069.70,733.77 L1070.05,733.83 L1070.40,733.99 L1070.75,734.34 L1071.10,734.94 L1071.45,734.94 L1071.80,734.35 L1072.15,734.00 L1072.50,733.83 L1072.85,733.78 L1073.20,733.78 L1073.55,733.80 L1073.90,733.91 L1074.25,734.18 L1074.60,734.67 L1074.95,735.32 L1075.30,734.58 L1075.65,734.13 L1076.00,733.89 L1076.35,733.80 L1076.70,733.78 L1077.05,733.79 L1077.40,733.86 L1077.75,734.05 L1078.10,734.44 L1078.45,735.09 L1078.80,734.88 L1079.15,734.31 L1079.50,733.98 L1079.85,733.83 L1080.20,733.79 L1080.55,733.79 L1080.90,733.83 L1081.25,733.96 L1081.60,734.26 L1081.95,734.79 L1082.30,735.23 L1082.65,734.53 L1083.00,734.11 L1083.35,733.89 L1083.70,733.81 L1084.05,733.80 L1084.40,733.81 L1084.75,733.89 L1085.10,734.12 L1085.45,734.58 L1085.80,735.32 L1086.15,734.91 L1086.50,734.40 L1086.85,734.13 L1087.20,734.03 L1087.55,734.03 L1087.90,734.06 L1088.25,734.14 L1088.60,734.32 L1088.95,734.69 L1089.30,735.30 L1089.65,735.56 L1090.00,734.92 L1090.35,734.55 L1090.70,734.38 L1091.05,734.35 L1091.40,734.37 L1091.75,734.42 L1092.10,734.55 L1092.45,734.83 L1092.80,735.34 L1093.15,736.14 L1093.50,735.49 L1093.85,735.01 L1094.20,734.76 L1094.55,734.68 L1094.90,734.68 L1095.25,734.72 L1095.60,734.81 L1095.95,735.02 L1096.30,735.42 L1096.65,736.09 L1097.00,736.12 L1097.35,735.52 L1097.70,735.17 L1098.05,735.03 L1098.40,735.00 L1098.75,735.03 L1099.10,735.08 L1099.45,735.23 L1099.80,735.55 L1100.15,736.10 L1100.50,736.82 L1100.85,736.07 L1101.20,735.62 L1101.55,735.40 L1101.90,735.33 L1102.25,735.34 L1102.60,735.38 L1102.95,735.48 L1103.30,735.72 L1103.65,736.16 L1104.00,737.40 L1104.35,737.40 L1104.70,737.40 L1105.05,737.40 L1105.40,737.40 L1105.75,736.50 L1106.10,735.96 L1106.45,737.22 L1106.80,738.50 L1107.15,739.79 L1107.50,741.08 L1107.85,741.69 L1108.20,740.60 L1108.55,739.50 L1108.90,738.41 L1109.25,737.05 L1109.60,736.42 L1109.95,737.89 L1110.30,739.40 L1110.65,740.91 L1111.00,742.42 L1111.35,743.13 L1111.70,741.84 L1112.05,740.56 L1112.40,739.27 L1112.75,737.70 L1113.10,736.98 L1113.45,738.66 L1113.80,740.36 L1114.15,742.07 L1114.50,743.78 L1114.85,744.58 L1115.20,743.09 L1115.55,741.61 L1115.90,740.12 L1116.25,738.35 L1116.60,737.54 L1116.95,739.43 L1117.30,741.45 L1117.65,743.50 L1118.00,745.54 L1118.35,746.52 L1118.70,744.84 L1119.05,743.16 L1119.40,741.48 L1119.75,739.50 L1120.10,738.60 L1120.45,740.70 L1120.80,743.18 L1121.15,745.73 L1121.50,748.27 L1121.85,747.55 L1122.20,745.51 L1122.55,743.47 L1122.90,741.16 L1123.25,739.36 L1123.60,741.88 L1123.95,745.68 L1124.30,749.99 L1124.65,754.30 L1125.00,757.68 L1125.35,755.44 L1125.70,753.20 L1126.05,750.96 L1126.40,748.40 L1126.75,746.40 L1127.10,749.20 L1127.45,755.00 L1127.80,762.00 L1128.15,769.00 L1128.50,766.00 L1128.85,759.00 L1129.20,752.00 L1129.55,748.00 L1129.90,746.80 L1130.25,749.60 L1130.60,759.00 L1130.95,769.50 L1131.30,774.11 L1131.65,764.00 L1132.00,753.89 L1132.35,749.00 L1132.70,747.80 L1133.05,750.60 L1133.40,756.73 L1133.75,763.41 L1134.10,770.09 L1134.45,765.09 L1134.80,755.42 L1135.15,745.75 L1135.50,740.16 L1135.85,738.36 L1136.20,740.88 L1136.55,741.60 L1136.90,735.75 L1137.25,688.30 L1137.60,684.80 L1137.95,688.30 L1138.30,704.80 L1138.65,627.50 L1139.00,624.00 L1139.35,627.50 L1139.70,638.50 L1140.05,645.82 L1140.40,623.53 L1140.75,609.30 L1141.10,607.80 L1141.45,612.55 L1141.80,624.80 L1142.15,618.15 L1142.50,586.30 L1142.85,574.70 L1143.20,575.20 L1143.55,608.88 L1143.90,609.00 L1144.25,605.50 L1144.60,608.00 L1144.95,618.13 L1145.30,630.92 L1145.65,643.70 L1146.00,635.96 L1146.35,628.23 L1146.70,621.70 L1147.05,619.20 L1147.40,622.70 L1147.75,695.00 L1148.10,674.00 L1148.45,670.50 L1148.80,673.00 L1149.15,683.00 L1149.50,695.60 L1149.85,690.02 L1150.20,681.40 L1150.55,677.90 L1150.90,680.40 L1151.25,708.90 L1151.60,701.80 L1151.95,699.70 L1152.30,701.20 L1152.65,706.31 L1153.00,718.35 L1153.35,716.96 L1153.70,715.39 L1154.05,713.43 L1154.40,710.63 L1154.75,706.41 L1155.10,700.05 L1155.45,699.20 L1155.80,701.20 L1156.15,702.49 L1156.50,703.50 L1156.85,703.77 L1157.20,703.84 L1157.55,703.76 L1157.90,703.04 L1158.25,701.21 L1158.60,697.81 L1158.95,695.40 L1159.30,701.29 L1159.65,705.12 L1160.00,707.47 L1160.35,708.91 L1160.70,709.94 L1161.05,710.87 L1161.40,711.44 L1161.75,711.33 L1162.10,710.28 L1162.45,708.13 L1162.80,711.47 L1163.15,714.96 L1163.50,717.17 L1163.85,718.55 L1164.20,719.45 L1164.55,720.14 L1164.90,720.63 L1165.25,720.70 L1165.60,719.67 L1165.95,717.69 L1166.30,716.75 L1166.65,718.61 L1167.00,719.62 L1167.35,719.99 L1167.70,719.94 L1168.05,719.69 L1168.40,719.36 L1168.75,718.77 L1169.10,717.64 L1169.45,715.72 L1169.80,712.74 L1170.15,715.01 L1170.50,716.59 L1170.85,717.39 L1171.20,717.63 L1171.55,717.59 L1171.90,717.49 L1172.25,717.24 L1172.60,716.58 L1172.95,715.24 L1173.30,712.97 L1173.65,713.26 L1174.00,716.00 L1174.35,717.74 L1174.70,718.77 L1175.05,719.39 L1175.40,719.85 L1175.75,720.25 L1176.10,720.40 L1176.45,720.10 L1176.80,719.22 L1177.15,718.01 L1177.50,720.72 L1177.85,722.49 L1178.20,723.60 L1178.55,724.27 L1178.90,724.71 L1179.25,725.05 L1179.60,725.23 L1179.95,725.05 L1180.30,724.06 L1180.65,722.43 L1181.00,722.55 L1181.35,723.44 L1181.70,723.83 L1182.05,723.82 L1182.40,723.55 L1182.75,723.17 L1183.10,722.70 L1183.45,721.96 L1183.80,720.74 L1184.15,718.79 L1184.50,717.08 L1184.85,718.86 L1185.20,719.91 L1185.55,720.39 L1185.90,720.50 L1186.25,720.43 L1186.60,720.34 L1186.95,720.09 L1187.30,719.44 L1187.65,718.20 L1188.00,716.18 L1188.35,717.84 L1188.70,719.79 L1189.05,721.01 L1189.40,721.75 L1189.75,722.22 L1190.10,722.62 L1190.45,722.94 L1190.80,723.01 L1191.15,722.71 L1191.50,721.94 L1191.85,722.04 L1192.20,723.94 L1192.55,725.18 L1192.90,725.96 L1193.25,726.44 L1193.60,726.79 L1193.95,727.06 L1194.30,727.17 L1194.65,726.87 L1195.00,725.99 L1195.35,724.58 L1195.70,725.35 L1196.05,725.88 L1196.40,726.05 L1196.75,725.95 L1197.10,725.69 L1197.45,725.38 L1197.80,724.96 L1198.15,724.30 L1198.50,723.22 L1198.85,721.54 L1199.20,721.23 L1199.55,722.41 L1199.90,723.07 L1200.25,723.33 L1200.60,723.37 L1200.95,723.32 L1201.30,723.24 L1201.65,722.99 L1202.00,722.38 L1202.35,721.29 L1202.70,719.89 L1203.05,721.87 L1203.40,723.18 L1203.75,723.99 L1204.10,724.48 L1204.45,724.82 L1204.80,725.13 L1205.15,725.35 L1205.50,725.35 L1205.85,725.05 L1206.20,724.37 L1206.55,725.18 L1206.90,726.48 L1207.25,727.31 L1207.60,727.83 L1207.95,728.18 L1208.30,728.43 L1208.65,728.62 L1209.00,728.67 L1209.35,728.29 L1209.70,727.52 L1210.05,726.78 L1210.40,727.38 L1210.75,727.66 L1211.10,727.70 L1211.45,727.56 L1211.80,727.31 L1212.15,727.03 L1212.50,726.64 L1212.85,726.03 L1213.20,725.05 L1213.55,723.57 L1213.90,724.09 L1214.25,724.85 L1214.60,725.24 L1214.95,725.37 L1215.30,725.35 L1215.65,725.30 L1216.00,725.20 L1216.35,724.94 L1216.70,724.38 L1217.05,723.41 L1217.40,723.15 L1217.75,724.53 L1218.10,725.43 L1218.45,725.98 L1218.80,726.33 L1219.15,726.59 L1219.50,726.83 L1219.85,726.98 L1220.20,726.93 L1220.55,726.63 L1220.90,726.03 L1221.25,727.22 L1221.60,728.12 L1221.95,728.70 L1222.30,729.08 L1222.65,729.33 L1223.00,729.53 L1223.35,729.65 L1223.70,729.66 L1224.05,729.23 L1224.40,728.52 L1224.75,728.31 L1225.10,728.69 L1225.45,728.83 L1225.80,728.79 L1226.15,728.62 L1226.50,728.40 L1226.85,728.14 L1227.20,727.77 L1227.55,727.18 L1227.90,726.28 L1228.25,725.11 L1228.60,725.96 L1228.95,726.46 L1229.30,726.69 L1229.65,726.74 L1230.00,726.69 L1230.35,726.64 L1230.70,726.52 L1231.05,726.24 L1231.40,725.69 L1231.75,724.79 L1232.10,725.26 L1232.45,726.28 L1232.80,726.93 L1233.15,727.33 L1233.50,727.60 L1233.85,727.82 L1234.20,728.02 L1234.55,728.11 L1234.90,728.04 L1235.25,727.75 L1235.60,727.62 L1235.95,728.61 L1236.30,729.27 L1236.65,729.69 L1237.00,729.96 L1237.35,730.16 L1237.70,730.32 L1238.05,730.41 L1238.40,730.32 L1238.75,729.92 L1239.10,729.28 L1239.45,729.43 L1239.80,729.66 L1240.15,729.71 L1240.50,729.64 L1240.85,729.48 L1241.20,729.29 L1241.55,729.06 L1241.90,728.72 L1242.25,728.19 L1242.60,727.38 L1242.95,726.95 L1243.30,727.53 L1243.65,727.86 L1244.00,728.00 L1244.35,728.00 L1244.70,727.97 L1245.05,727.92 L1245.40,727.81 L1245.75,727.54 L1246.10,727.05 L1246.45,726.26 L1246.80,727.16 L1247.15,727.86 L1247.50,728.30 L1247.85,728.58 L1248.20,728.78 L1248.55,728.95 L1248.90,729.09 L1249.25,729.14 L1249.60,729.04 L1249.95,728.76 L1250.30,729.01 L1250.65,729.71 L1251.00,730.17 L1251.35,730.47 L1251.70,730.66 L1252.05,730.81 L1252.40,730.92 L1252.75,730.96 L1253.10,730.81 L1253.45,730.44 L1253.80,729.92 L1254.15,730.21 L1254.50,730.35 L1254.85,730.35 L1255.20,730.26 L1255.55,730.11 L1255.90,729.94 L1256.25,729.73 L1256.60,729.41 L1256.95,728.91 L1257.30,728.16 L1257.65,728.20 L1258.00,728.60 L1258.35,728.81 L1258.70,728.88 L1259.05,728.86 L1259.40,728.82 L1259.75,728.77 L1260.10,728.64 L1260.45,728.37 L1260.80,727.89 L1261.15,727.54 L1261.50,728.32 L1261.85,728.84 L1262.20,729.16 L1262.55,729.37 L1262.90,729.52 L1263.25,729.67 L1263.60,729.77 L1263.95,729.77 L1264.30,729.66 L1264.65,729.38 L1265.00,729.88 L1265.35,730.39 L1265.70,730.72 L1266.05,730.94 L1266.40,731.09 L1266.75,731.20 L1267.10,731.28 L1267.45,731.30 L1267.80,731.10 L1268.15,730.75 L1268.50,730.53 L1268.85,730.73 L1269.20,730.81 L1269.55,730.79 L1269.90,730.71 L1270.25,730.58 L1270.60,730.44 L1270.95,730.25 L1271.30,729.96 L1271.65,729.52 L1272.00,728.86 L1272.35,729.22 L1272.70,729.50 L1273.05,729.63 L1273.40,729.66 L1273.75,729.63 L1274.10,729.61 L1274.45,729.56 L1274.80,729.43 L1275.15,729.16 L1275.50,728.72 L1275.85,728.78 L1276.20,729.32 L1276.55,729.67 L1276.90,729.89 L1277.25,730.03 L1277.60,730.15 L1277.95,730.25 L1278.30,730.31 L1278.65,730.28 L1279.00,730.15 L1279.35,729.95 L1279.70,730.50 L1280.05,730.87 L1280.40,731.11 L1280.75,731.27 L1281.10,731.38 L1281.45,731.47 L1281.80,731.52 L1282.15,731.49 L1282.50,731.28 L1282.85,730.93 L1283.20,730.91 L1283.55,731.05 L1283.90,731.08 L1284.25,731.04 L1284.60,730.94 L1284.95,730.82 L1285.30,730.68 L1285.65,730.49 L1286.00,730.20 L1286.35,729.76 L1286.70,729.37 L1287.05,729.69 L1287.40,729.88 L1287.75,729.95 L1288.10,729.94 L1288.45,729.91 L1288.80,729.87 L1289.15,729.80 L1289.50,729.66 L1289.85,729.39 L1290.20,728.96 L1290.55,729.31 L1290.90,729.73 L1291.25,730.00 L1291.60,730.18 L1291.95,730.29 L1292.30,730.40 L1292.65,730.49 L1293.00,730.53 L1293.35,730.49 L1293.70,730.35 L1294.05,730.39 L1294.40,730.83 L1294.75,731.12 L1295.10,731.32 L1295.45,731.44 L1295.80,731.54 L1296.15,731.61 L1296.50,731.64 L1296.85,731.57 L1297.20,731.35 L1297.55,731.01 L1297.90,731.15 L1298.25,731.23 L1298.60,731.24 L1298.95,731.18 L1299.30,731.08 L1299.65,730.97 L1300.00,730.83 L1300.35,730.64 L1300.70,730.35 L1301.05,729.91 L1301.40,729.80 L1301.75,730.05 L1302.10,730.17 L1302.45,730.21 L1302.80,730.19 L1303.15,730.15 L1303.50,730.12 L1303.85,730.05 L1304.20,729.89 L1304.55,729.63 L1304.90,729.29 L1305.25,729.78 L1305.60,730.10 L1305.95,730.31 L1306.30,730.45 L1306.65,730.55 L1307.00,730.64 L1307.35,730.72 L1307.70,730.74 L1308.05,730.69 L1308.40,730.54 L1308.75,730.76 L1309.10,731.11 L1309.45,731.34 L1309.80,731.49 L1310.15,731.60 L1310.50,731.68 L1310.85,731.74 L1311.20,731.76 L1311.55,731.65 L1311.90,731.42 L1312.25,731.21 L1312.60,731.34 L1312.95,731.39 L1313.30,731.37 L1313.65,731.30 L1314.00,731.20 L1314.35,731.10 L1314.70,730.96 L1315.05,730.77 L1315.40,730.48 L1315.75,730.06 L1316.10,730.16 L1316.45,730.34 L1316.80,730.42 L1317.15,730.43 L1317.50,730.40 L1317.85,730.37 L1318.20,730.33 L1318.55,730.25 L1318.90,730.10 L1319.25,729.83 L1319.60,729.77 L1319.95,730.15 L1320.30,730.40 L1320.65,730.56 L1321.00,730.67 L1321.35,730.76 L1321.70,730.85 L1322.05,730.91 L1322.40,730.92 L1322.75,730.86 L1323.10,730.71 L1323.45,731.06 L1323.80,731.33 L1324.15,731.52 L1324.50,731.64 L1324.85,731.73 L1325.20,731.80 L1325.55,731.84 L1325.90,731.85 L1326.25,731.71 L1326.60,731.48 L1326.95,731.41 L1327.30,731.50 L1327.65,731.52 L1328.00,731.48 L1328.35,731.41 L1328.70,731.32 L1329.05,731.22 L1329.40,731.09 L1329.75,730.89 L1330.10,730.61 L1330.45,730.26 L1330.80,730.47 L1331.15,730.59 L1331.50,730.64 L1331.85,730.64 L1332.20,730.61 L1332.55,730.58 L1332.90,730.54 L1333.25,730.46 L1333.60,730.30 L1333.95,730.04 L1334.30,730.18 L1334.65,730.47 L1335.00,730.67 L1335.35,730.79 L1335.70,730.88 L1336.05,730.96 L1336.40,731.04 L1336.75,731.08 L1337.10,731.08 L1337.45,731.01 L1337.80,730.98 L1338.15,731.30 L1338.50,731.51 L1338.85,731.66 L1339.20,731.76 L1339.55,731.83 L1339.90,731.89 L1340.25,731.93 L1340.60,731.90 L1340.95,731.75 L1341.30,731.53 L1341.65,731.56 L1342.00,731.62 L1342.35,731.61 L1342.70,731.56 L1343.05,731.49 L1343.40,731.40 L1343.75,731.30 L1344.10,731.17 L1344.45,730.97 L1344.80,730.69 L1345.15,730.53 L1345.50,730.68 L1345.85,730.76 L1346.20,730.78 L1346.55,730.77 L1346.90,730.74 L1347.25,730.71 L1347.60,730.66 L1347.95,730.57 L1348.30,730.41 L1348.65,730.16 L1349.00,730.45 L1349.35,730.68 L1349.70,730.84 L1350.05,730.94 L1350.40,731.02 L1350.75,731.10 L1351.10,731.16 L1351.45,731.20 L1351.80,731.18 L1352.15,731.11 L1352.50,731.21 L1352.85,731.47 L1353.20,731.65 L1353.55,731.76 L1353.90,731.85 L1354.25,731.91 L1354.60,731.97 L1354.95,731.99 L1355.30,731.93 L1355.65,731.78 L1356.00,731.59 L1356.35,731.67 L1356.70,731.70 L1357.05,731.68 L1357.40,731.63 L1357.75,731.55 L1358.10,731.47 L1358.45,731.36 L1358.80,731.23 L1359.15,731.04 L1359.50,730.76 L1359.85,730.75 L1360.20,730.86 L1360.55,730.91 L1360.90,730.91 L1361.25,730.88 L1361.60,730.86 L1361.95,730.83 L1362.30,730.78 L1362.65,730.69 L1363.00,730.53 L1363.35,730.42 L1363.70,730.69 L1364.05,730.87 L1364.40,730.99 L1364.75,731.08 L1365.10,731.15 L1365.45,731.22 L1365.80,731.28 L1366.15,731.31 L1366.50,731.29 L1366.85,731.21 L1367.20,731.41 L1367.55,731.61 L1367.90,731.76 L1368.25,731.85 L1368.60,731.93 L1368.95,731.99 L1369.30,732.03 L1369.65,732.05 L1370.00,731.96 L1370.35,731.81 L1370.70,731.71 L1371.05,731.76 L1371.40,731.77 L1371.75,731.73 L1372.10,731.67 L1372.45,731.59 L1372.80,731.51 L1373.15,731.41 L1373.50,731.27 L1373.85,731.08 L1374.20,730.81 L1374.55,730.91 L1374.90,730.98 L1375.25,731.00 L1375.60,730.99 L1375.95,730.96 L1376.30,730.94 L1376.65,730.91 L1377.00,730.86 L1377.35,730.76 L1377.70,730.61 L1378.05,730.64 L1378.40,730.85 L1378.75,730.99 L1379.10,731.09 L1379.45,731.17 L1379.80,731.24 L1380.15,731.30 L1380.50,731.36 L1380.85,731.38 L1381.20,731.36 L1381.55,731.31 L1381.90,731.55 L1382.25,731.72 L1382.60,731.84 L1382.95,731.92 L1383.30,731.99 L1383.65,732.04 L1384.00,732.08 L1384.35,732.08 L1384.70,731.98 L1385.05,731.83 L1385.40,731.80 L1385.75,731.83 L1386.10,731.81 L1386.45,731.77 L1386.80,731.70 L1387.15,731.62 L1387.50,731.54 L1387.85,731.44 L1388.20,731.30 L1388.55,731.11 L1388.90,730.94 L1389.25,731.03 L1389.60,731.07 L1389.95,731.07 L1390.30,731.05 L1390.65,731.03 L1391.00,731.00 L1391.35,730.97 L1391.70,730.92 L1392.05,730.83 L1392.40,730.69 L1392.75,730.82 L1393.10,730.99 L1393.45,731.10 L1393.80,731.19 L1394.15,731.25 L1394.50,731.32 L1394.85,731.38 L1395.20,731.43 L1395.55,731.45 L1395.90,731.43 L1396.25,731.48 L1396.60,731.67 L1396.95,731.81 L1397.30,731.91 L1397.65,731.98 L1398.00,732.04 L1398.35,732.09 L1398.70,732.12 L1399.05,732.10 L1399.40,732.00 L1399.75,731.85 L1400.10,731.88 L1400.45,731.88 L1400.80,731.85 L1401.15,731.80 L1401.50,731.73 L1401.85,731.66 L1402.20,731.57 L1402.55,731.47 L1402.90,731.33 L1403.25,731.15 L1403.60,731.09 L1403.95,731.14 L1404.30,731.16 L1404.65,731.14 L1405.00,731.12 L1405.35,731.10 L1405.70,731.07 L1406.05,731.04 L1406.40,730.99 L1406.75,730.91 L1407.10,730.81 L1407.45,730.98 L1407.80,731.11 L1408.15,731.20 L1408.50,731.28 L1408.85,731.34 L1409.20,731.40 L1409.55,731.46 L1409.90,731.51 L1410.25,731.53 L1410.60,731.52 L1410.95,731.63 L1411.30,731.78 L1411.65,731.89 L1412.00,731.98 L1412.35,732.04 L1412.70,732.09 L1413.05,732.14 L1413.40,732.16 L1413.75,732.12 L1414.10,732.02 L1414.45,731.93 L1414.80,731.94 L1415.15,731.93 L1415.50,731.89 L1415.85,731.83 L1416.20,731.76 L1416.55,731.69 L1416.90,731.60 L1417.25,731.50 L1417.60,731.38 L1417.95,731.21 L1418.30,731.21 L1418.65,731.23 L1419.00,731.23 L1419.35,731.21 L1419.70,731.19 L1420.05,731.17 L1420.40,731.15 L1420.75,731.12 L1421.10,731.07 L1421.45,731.00 L1421.80,730.99 L1422.15,731.13 L1422.50,731.22 L1422.85,731.30 L1423.20,731.36 L1423.55,731.42 L1423.90,731.49 L1424.25,731.54 L1424.60,731.58 L1424.95,731.61 L1425.30,731.60 L1425.65,731.75 L1426.00,731.87 L1426.35,731.96 L1426.70,732.04 L1427.05,732.09 L1427.40,732.14 L1427.75,732.18 L1428.10,732.20 L1428.45,732.14 L1428.80,732.05 L1429.15,732.00 L1429.50,732.00 L1429.85,731.97 L1430.20,731.92 L1430.55,731.86 L1430.90,731.79 L1431.25,731.72 L1431.60,731.64 L1431.95,731.54 L1432.30,731.43 L1432.30,732.83 L1431.95,732.94 L1431.60,733.04 L1431.25,733.12 L1430.90,733.20 L1430.55,733.26 L1430.20,733.33 L1429.85,733.37 L1429.50,733.32 L1429.15,733.30 L1428.80,733.30 L1428.45,733.32 L1428.10,733.36 L1427.75,733.43 L1427.40,733.52 L1427.05,733.52 L1426.70,733.46 L1426.35,733.39 L1426.00,733.30 L1425.65,733.18 L1425.30,733.04 L1424.95,733.05 L1424.60,733.03 L1424.25,732.99 L1423.90,732.93 L1423.55,732.87 L1423.20,732.81 L1422.85,732.75 L1422.50,732.68 L1422.15,732.58 L1421.80,732.45 L1421.45,732.46 L1421.10,732.53 L1420.75,732.58 L1420.40,732.61 L1420.05,732.63 L1419.70,732.66 L1419.35,732.68 L1419.00,732.70 L1418.65,732.71 L1418.30,732.69 L1417.95,732.69 L1417.60,732.86 L1417.25,732.99 L1416.90,733.09 L1416.55,733.17 L1416.20,733.25 L1415.85,733.32 L1415.50,733.38 L1415.15,733.33 L1414.80,733.28 L1414.45,733.27 L1414.10,733.27 L1413.75,733.30 L1413.40,733.36 L1413.05,733.44 L1412.70,733.55 L1412.35,733.53 L1412.00,733.43 L1411.65,733.35 L1411.30,733.29 L1410.95,733.14 L1410.60,733.03 L1410.25,733.05 L1409.90,733.03 L1409.55,732.99 L1409.20,732.93 L1408.85,732.87 L1408.50,732.81 L1408.15,732.74 L1407.80,732.65 L1407.45,732.52 L1407.10,732.35 L1406.75,732.45 L1406.40,732.54 L1406.05,732.59 L1405.70,732.62 L1405.35,732.64 L1405.00,732.67 L1404.65,732.70 L1404.30,732.71 L1403.95,732.69 L1403.60,732.64 L1403.25,732.71 L1402.90,732.90 L1402.55,733.03 L1402.20,733.14 L1401.85,733.22 L1401.50,733.30 L1401.15,733.37 L1400.80,733.35 L1400.45,733.29 L1400.10,733.25 L1399.75,733.24 L1399.40,733.25 L1399.05,733.29 L1398.70,733.36 L1398.35,733.46 L1398.00,733.58 L1397.65,733.49 L1397.30,733.38 L1396.95,733.31 L1396.60,733.26 L1396.25,733.08 L1395.90,733.03 L1395.55,733.05 L1395.20,733.04 L1394.85,732.99 L1394.50,732.93 L1394.15,732.86 L1393.80,732.80 L1393.45,732.72 L1393.10,732.60 L1392.75,732.44 L1392.40,732.31 L1392.05,732.45 L1391.70,732.55 L1391.35,732.60 L1391.00,732.63 L1390.65,732.66 L1390.30,732.69 L1389.95,732.71 L1389.60,732.71 L1389.25,732.67 L1388.90,732.58 L1388.55,732.75 L1388.20,732.94 L1387.85,733.08 L1387.50,733.19 L1387.15,733.27 L1386.80,733.35 L1386.45,733.40 L1386.10,733.31 L1385.75,733.25 L1385.40,733.21 L1385.05,733.21 L1384.70,733.23 L1384.35,733.29 L1384.00,733.37 L1383.65,733.48 L1383.30,733.58 L1382.95,733.45 L1382.60,733.34 L1382.25,733.26 L1381.90,733.22 L1381.55,732.99 L1381.20,733.04 L1380.85,733.06 L1380.50,733.04 L1380.15,732.99 L1379.80,732.93 L1379.45,732.86 L1379.10,732.79 L1378.75,732.69 L1378.40,732.55 L1378.05,732.34 L1377.70,732.31 L1377.35,732.46 L1377.00,732.56 L1376.65,732.62 L1376.30,732.65 L1375.95,732.67 L1375.60,732.70 L1375.25,732.72 L1374.90,732.70 L1374.55,732.63 L1374.20,732.53 L1373.85,732.80 L1373.50,733.00 L1373.15,733.14 L1372.80,733.24 L1372.45,733.33 L1372.10,733.40 L1371.75,733.35 L1371.40,733.27 L1371.05,733.21 L1370.70,733.18 L1370.35,733.18 L1370.00,733.22 L1369.65,733.29 L1369.30,733.38 L1368.95,733.51 L1368.60,733.53 L1368.25,733.40 L1367.90,733.30 L1367.55,733.22 L1367.20,733.17 L1366.85,732.97 L1366.50,733.05 L1366.15,733.07 L1365.80,733.05 L1365.45,732.99 L1365.10,732.92 L1364.75,732.86 L1364.40,732.77 L1364.05,732.65 L1363.70,732.47 L1363.35,732.21 L1363.00,732.32 L1362.65,732.48 L1362.30,732.57 L1361.95,732.62 L1361.60,732.65 L1361.25,732.68 L1360.90,732.70 L1360.55,732.70 L1360.20,732.66 L1359.85,732.55 L1359.50,732.57 L1359.15,732.86 L1358.80,733.06 L1358.45,733.20 L1358.10,733.31 L1357.75,733.40 L1357.40,733.43 L1357.05,733.31 L1356.70,733.22 L1356.35,733.17 L1356.00,733.15 L1355.65,733.16 L1355.30,733.21 L1354.95,733.29 L1354.60,733.40 L1354.25,733.55 L1353.90,733.48 L1353.55,733.35 L1353.20,733.25 L1352.85,733.18 L1352.50,733.15 L1352.15,733.10 L1351.80,733.18 L1351.45,733.20 L1351.10,733.18 L1350.75,733.12 L1350.40,733.05 L1350.05,732.98 L1349.70,732.89 L1349.35,732.74 L1349.00,732.52 L1348.65,732.24 L1348.30,732.50 L1347.95,732.67 L1347.60,732.77 L1347.25,732.82 L1346.90,732.86 L1346.55,732.89 L1346.20,732.92 L1345.85,732.91 L1345.50,732.84 L1345.15,732.69 L1344.80,732.86 L1344.45,733.15 L1344.10,733.25 L1343.75,733.36 L1343.40,733.50 L1343.05,733.53 L1342.70,733.37 L1342.35,733.26 L1342.00,733.18 L1341.65,733.13 L1341.30,733.12 L1340.95,733.15 L1340.60,733.21 L1340.25,733.30 L1339.90,733.43 L1339.55,733.60 L1339.20,733.43 L1338.85,733.30 L1338.50,733.20 L1338.15,733.14 L1337.80,733.11 L1337.45,733.12 L1337.10,733.17 L1336.75,733.25 L1336.40,733.37 L1336.05,733.34 L1335.70,733.27 L1335.35,733.19 L1335.00,733.07 L1334.65,732.89 L1334.30,732.60 L1333.95,732.48 L1333.60,732.74 L1333.25,732.91 L1332.90,733.00 L1332.55,733.05 L1332.20,733.08 L1331.85,733.12 L1331.50,733.13 L1331.15,733.09 L1330.80,732.98 L1330.45,732.77 L1330.10,733.11 L1329.75,733.17 L1329.40,733.26 L1329.05,733.38 L1328.70,733.55 L1328.35,733.47 L1328.00,733.32 L1327.65,733.21 L1327.30,733.14 L1326.95,733.10 L1326.60,733.10 L1326.25,733.13 L1325.90,733.21 L1325.55,733.32 L1325.20,733.47 L1324.85,733.55 L1324.50,733.38 L1324.15,733.25 L1323.80,733.16 L1323.45,733.10 L1323.10,733.09 L1322.75,733.11 L1322.40,733.17 L1322.05,733.26 L1321.70,733.40 L1321.35,733.50 L1321.00,733.42 L1320.65,733.30 L1320.30,733.16 L1319.95,732.92 L1319.60,732.55 L1319.25,732.62 L1318.90,732.89 L1318.55,733.06 L1318.20,733.15 L1317.85,733.20 L1317.50,733.23 L1317.15,733.27 L1316.80,733.22 L1316.45,733.13 L1316.10,733.03 L1315.75,732.93 L1315.40,733.10 L1315.05,733.16 L1314.70,733.27 L1314.35,733.42 L1314.00,733.60 L1313.65,733.41 L1313.30,733.27 L1312.95,733.16 L1312.60,733.09 L1312.25,733.06 L1311.90,733.08 L1311.55,733.13 L1311.20,733.22 L1310.85,733.35 L1310.50,733.51 L1310.15,733.49 L1309.80,733.32 L1309.45,733.20 L1309.10,733.11 L1308.75,733.07 L1308.40,733.06 L1308.05,733.09 L1307.70,733.17 L1307.35,733.28 L1307.00,733.44 L1306.65,733.57 L1306.30,733.39 L1305.95,733.24 L1305.60,733.14 L1305.25,732.91 L1304.90,732.43 L1304.55,732.77 L1304.20,733.05 L1303.85,733.21 L1303.50,733.29 L1303.15,733.34 L1302.80,733.38 L1302.45,733.29 L1302.10,733.17 L1301.75,733.09 L1301.40,733.03 L1301.05,733.05 L1300.70,733.09 L1300.35,733.17 L1300.00,733.29 L1299.65,733.46 L1299.30,733.54 L1298.95,733.36 L1298.60,733.21 L1298.25,733.11 L1297.90,733.05 L1297.55,733.03 L1297.20,733.06 L1296.85,733.12 L1296.50,733.23 L1296.15,733.38 L1295.80,733.57 L1295.45,733.43 L1295.10,733.27 L1294.75,733.15 L1294.40,733.07 L1294.05,733.03 L1293.70,733.04 L1293.35,733.08 L1293.00,733.17 L1292.65,733.31 L1292.30,733.48 L1291.95,733.51 L1291.60,733.33 L1291.25,733.19 L1290.90,733.09 L1290.55,732.80 L1290.20,732.45 L1289.85,732.90 L1289.50,733.12 L1289.15,733.24 L1288.80,733.40 L1288.45,733.53 L1288.10,733.40 L1287.75,733.24 L1287.40,733.12 L1287.05,733.05 L1286.70,733.01 L1286.35,733.03 L1286.00,733.08 L1285.65,733.18 L1285.30,733.32 L1284.95,733.51 L1284.60,733.48 L1284.25,733.30 L1283.90,733.16 L1283.55,733.07 L1283.20,733.02 L1282.85,733.01 L1282.50,733.05 L1282.15,733.13 L1281.80,733.25 L1281.45,733.42 L1281.10,733.57 L1280.75,733.37 L1280.40,733.21 L1280.05,733.09 L1279.70,733.02 L1279.35,732.99 L1279.00,733.01 L1278.65,733.07 L1278.30,733.17 L1277.95,733.33 L1277.60,733.53 L1277.25,733.44 L1276.90,733.25 L1276.55,733.10 L1276.20,733.00 L1275.85,732.95 L1275.50,732.95 L1275.15,732.99 L1274.80,733.09 L1274.45,733.23 L1274.10,733.43 L1273.75,733.53 L1273.40,733.30 L1273.05,733.13 L1272.70,733.00 L1272.35,732.92 L1272.00,732.90 L1271.65,732.92 L1271.30,733.00 L1270.95,733.13 L1270.60,733.32 L1270.25,733.56 L1269.90,733.38 L1269.55,733.17 L1269.20,733.01 L1268.85,732.91 L1268.50,732.86 L1268.15,732.86 L1267.80,732.92 L1267.45,733.03 L1267.10,733.21 L1266.75,733.44 L1266.40,733.48 L1266.05,733.23 L1265.70,733.04 L1265.35,732.90 L1265.00,732.83 L1264.65,732.80 L1264.30,732.84 L1263.95,732.94 L1263.60,733.10 L1263.25,733.32 L1262.90,733.60 L1262.55,733.31 L1262.20,733.09 L1261.85,732.92 L1261.50,732.81 L1261.15,732.76 L1260.80,732.77 L1260.45,732.85 L1260.10,732.99 L1259.75,733.19 L1259.40,733.46 L1259.05,733.42 L1258.70,733.15 L1258.35,732.95 L1258.00,732.80 L1257.65,732.73 L1257.30,732.71 L1256.95,732.76 L1256.60,732.88 L1256.25,733.07 L1255.90,733.33 L1255.55,733.55 L1255.20,733.24 L1254.85,733.00 L1254.50,732.82 L1254.15,732.71 L1253.80,732.66 L1253.45,732.69 L1253.10,732.78 L1252.75,732.95 L1252.40,733.19 L1252.05,733.50 L1251.70,733.35 L1251.35,733.07 L1251.00,732.85 L1250.65,732.70 L1250.30,732.63 L1249.95,732.62 L1249.60,732.69 L1249.25,732.83 L1248.90,733.05 L1248.55,733.34 L1248.20,733.49 L1247.85,733.16 L1247.50,732.90 L1247.15,732.72 L1246.80,732.61 L1246.45,732.57 L1246.10,732.61 L1245.75,732.72 L1245.40,732.92 L1245.05,733.19 L1244.70,733.54 L1244.35,733.28 L1244.00,732.98 L1243.65,732.75 L1243.30,732.60 L1242.95,732.53 L1242.60,732.54 L1242.25,732.62 L1241.90,732.79 L1241.55,733.04 L1241.20,733.37 L1240.85,733.43 L1240.50,733.08 L1240.15,732.81 L1239.80,732.61 L1239.45,732.50 L1239.10,732.48 L1238.75,732.53 L1238.40,732.67 L1238.05,732.89 L1237.70,733.20 L1237.35,733.60 L1237.00,733.20 L1236.65,732.88 L1236.30,732.65 L1235.95,732.50 L1235.60,732.43 L1235.25,732.45 L1234.90,732.56 L1234.55,732.75 L1234.20,733.04 L1233.85,733.41 L1233.50,733.35 L1233.15,732.98 L1232.80,732.70 L1232.45,732.51 L1232.10,732.40 L1231.75,732.39 L1231.40,732.46 L1231.05,732.62 L1230.70,732.88 L1230.35,733.23 L1230.00,733.53 L1229.65,733.11 L1229.30,732.78 L1228.95,732.54 L1228.60,732.39 L1228.25,732.33 L1227.90,732.37 L1227.55,732.50 L1227.20,732.72 L1226.85,733.05 L1226.50,733.46 L1226.15,733.27 L1225.80,732.89 L1225.45,732.60 L1225.10,732.40 L1224.75,732.30 L1224.40,732.30 L1224.05,732.39 L1223.70,732.58 L1223.35,732.87 L1223.00,733.26 L1222.65,733.46 L1222.30,733.02 L1221.95,732.68 L1221.60,732.43 L1221.25,732.29 L1220.90,732.24 L1220.55,732.29 L1220.20,732.45 L1219.85,732.70 L1219.50,733.06 L1219.15,733.53 L1218.80,733.18 L1218.45,732.79 L1218.10,732.49 L1217.75,732.29 L1217.40,732.20 L1217.05,732.21 L1216.70,732.33 L1216.35,732.55 L1216.00,732.87 L1215.65,733.30 L1215.30,733.37 L1214.95,732.92 L1214.60,732.57 L1214.25,732.32 L1213.90,732.18 L1213.55,732.15 L1213.20,732.22 L1212.85,732.40 L1212.50,732.69 L1212.15,733.09 L1211.80,733.60 L1211.45,733.09 L1211.10,732.68 L1210.75,732.38 L1210.40,732.19 L1210.05,732.10 L1209.70,732.12 L1209.35,732.25 L1209.00,732.50 L1208.65,732.86 L1208.30,733.35 L1207.95,733.27 L1207.60,732.78 L1207.25,732.40 L1206.90,732.13 L1206.55,731.98 L1206.20,731.94 L1205.85,732.04 L1205.50,732.25 L1205.15,732.60 L1204.80,733.08 L1204.45,733.51 L1204.10,732.92 L1203.75,732.45 L1203.40,732.10 L1203.05,731.88 L1202.70,731.79 L1202.35,731.83 L1202.00,732.01 L1201.65,732.33 L1201.30,732.79 L1200.95,733.40 L1200.60,733.11 L1200.25,732.55 L1199.90,732.11 L1199.55,731.81 L1199.20,731.66 L1198.85,731.64 L1198.50,731.77 L1198.15,732.05 L1197.80,732.49 L1197.45,733.08 L1197.10,733.38 L1196.75,732.71 L1196.40,732.17 L1196.05,731.79 L1195.70,731.55 L1195.35,731.47 L1195.00,731.55 L1194.65,731.78 L1194.30,732.18 L1193.95,732.75 L1193.60,733.48 L1193.25,732.93 L1192.90,732.29 L1192.55,731.81 L1192.20,731.49 L1191.85,731.33 L1191.50,731.34 L1191.15,731.52 L1190.80,731.87 L1190.45,732.40 L1190.10,733.11 L1189.75,733.23 L1189.40,732.47 L1189.05,731.89 L1188.70,731.47 L1188.35,731.23 L1188.00,731.16 L1187.65,731.28 L1187.30,731.57 L1186.95,732.06 L1186.60,732.73 L1186.25,733.60 L1185.90,732.72 L1185.55,732.02 L1185.20,731.50 L1184.85,731.16 L1184.50,731.01 L1184.15,731.05 L1183.80,731.28 L1183.45,731.72 L1183.10,732.35 L1182.75,733.18 L1182.40,733.04 L1182.05,732.22 L1181.70,731.58 L1181.35,731.14 L1181.00,730.90 L1180.65,730.86 L1180.30,731.01 L1179.95,731.38 L1179.60,731.96 L1179.25,732.75 L1178.90,733.45 L1178.55,732.49 L1178.20,731.73 L1177.85,731.18 L1177.50,730.83 L1177.15,730.69 L1176.80,730.77 L1176.45,731.06 L1176.10,731.58 L1175.75,732.32 L1175.40,733.28 L1175.05,732.83 L1174.70,731.94 L1174.35,731.27 L1174.00,730.81 L1173.65,730.57 L1173.30,730.55 L1172.95,730.76 L1172.60,731.21 L1172.25,731.88 L1171.90,732.80 L1171.55,733.26 L1171.20,732.23 L1170.85,731.42 L1170.50,730.83 L1170.15,730.48 L1169.80,730.36 L1169.45,730.49 L1169.10,730.85 L1168.75,731.46 L1168.40,732.31 L1168.05,733.42 L1167.70,732.59 L1167.35,731.64 L1167.00,730.92 L1166.65,730.45 L1166.30,730.22 L1165.95,730.24 L1165.60,730.51 L1165.25,731.04 L1164.90,731.83 L1164.55,732.88 L1164.20,733.05 L1163.85,731.94 L1163.50,731.08 L1163.15,730.48 L1162.80,730.13 L1162.45,730.04 L1162.10,730.21 L1161.75,730.65 L1161.40,731.36 L1161.05,732.34 L1160.70,733.60 L1160.35,732.33 L1160.00,731.32 L1159.65,730.57 L1159.30,730.09 L1158.95,729.88 L1158.60,729.94 L1158.25,730.28 L1157.90,730.90 L1157.55,731.81 L1157.20,733.00 L1156.85,732.81 L1156.50,731.63 L1156.15,730.73 L1155.80,730.11 L1155.45,729.77 L1155.10,729.71 L1154.75,729.95 L1154.40,730.47 L1154.05,731.29 L1153.70,732.40 L1153.35,733.38 L1153.00,732.04 L1152.65,728.21 L1152.30,722.01 L1151.95,724.00 L1151.60,725.62 L1151.25,725.06 L1150.90,721.90 L1150.55,718.76 L1150.20,724.08 L1149.85,727.10 L1149.50,726.80 L1149.15,721.07 L1148.80,710.51 L1148.45,714.45 L1148.10,720.00 L1147.75,722.50 L1147.40,719.00 L1147.05,707.68 L1146.70,702.27 L1146.35,711.60 L1146.00,717.60 L1145.65,718.10 L1145.30,712.00 L1144.95,699.40 L1144.60,711.64 L1144.25,722.50 L1143.90,724.00 L1143.55,719.25 L1143.20,707.00 L1142.85,704.50 L1142.50,715.00 L1142.15,720.50 L1141.80,720.00 L1141.45,712.00 L1141.10,698.00 L1140.75,710.60 L1140.40,718.00 L1140.05,718.50 L1139.70,712.00 L1139.35,702.50 L1139.00,720.00 L1138.65,723.50 L1138.30,721.00 L1137.95,717.50 L1137.60,727.80 L1137.25,740.50 L1136.90,741.40 L1136.55,743.60 L1136.20,742.88 L1135.85,740.36 L1135.50,758.70 L1135.15,760.80 L1134.80,760.50 L1134.45,767.09 L1134.10,772.09 L1133.75,772.70 L1133.40,798.50 L1133.05,801.30 L1132.70,799.30 L1132.35,828.25 L1132.00,873.20 L1131.65,873.60 L1131.30,870.80 L1130.95,845.60 L1130.60,852.50 L1130.25,858.00 L1129.90,859.20 L1129.55,856.40 L1129.20,847.60 L1128.85,852.98 L1128.50,878.60 L1128.15,881.40 L1127.80,881.00 L1127.45,859.73 L1127.10,836.80 L1126.75,839.60 L1126.40,837.60 L1126.05,830.53 L1125.70,817.76 L1125.35,805.00 L1125.00,809.94 L1124.65,814.88 L1124.30,818.60 L1123.95,820.60 L1123.60,817.80 L1123.25,795.40 L1122.90,775.80 L1122.55,782.80 L1122.20,786.20 L1121.85,786.60 L1121.50,783.80 L1121.15,778.94 L1120.80,774.07 L1120.45,769.21 L1120.10,764.34 L1119.75,759.48 L1119.40,756.42 L1119.05,757.89 L1118.70,759.36 L1118.35,760.83 L1118.00,762.30 L1117.65,763.77 L1117.30,765.84 L1116.95,767.64 L1116.60,765.12 L1116.25,763.09 L1115.90,761.25 L1115.55,759.41 L1115.20,757.58 L1114.85,756.56 L1114.50,760.45 L1114.15,764.34 L1113.80,768.24 L1113.45,772.13 L1113.10,775.24 L1112.75,777.04 L1112.40,774.52 L1112.05,769.98 L1111.70,764.64 L1111.35,759.30 L1111.00,753.96 L1110.65,748.62 L1110.30,745.17 L1109.95,746.46 L1109.60,747.75 L1109.25,749.04 L1108.90,750.33 L1108.55,751.62 L1108.20,753.60 L1107.85,753.90 L1107.50,751.80 L1107.15,749.05 L1106.80,746.29 L1106.45,743.54 L1106.10,740.79 L1105.75,740.93 L1105.40,742.24 L1105.05,743.55 L1104.70,744.85 L1104.35,746.32 L1104.00,748.00 L1103.65,742.52 L1103.30,743.99 L1102.95,746.04 L1102.60,748.78 L1102.25,751.60 L1101.90,750.48 L1101.55,749.54 L1101.20,748.89 L1100.85,748.65 L1100.50,748.91 L1100.15,749.75 L1099.80,751.26 L1099.45,753.46 L1099.10,756.38 L1098.75,759.99 L1098.40,758.57 L1098.05,755.49 L1097.70,753.06 L1097.35,751.31 L1097.00,750.23 L1096.65,749.80 L1096.30,749.96 L1095.95,750.64 L1095.60,751.74 L1095.25,753.13 L1094.90,753.07 L1094.55,749.50 L1094.20,746.73 L1093.85,744.65 L1093.50,743.17 L1093.15,742.17 L1092.80,741.54 L1092.45,741.18 L1092.10,741.01 L1091.75,740.97 L1091.40,741.02 L1091.05,739.73 L1090.70,738.86 L1090.35,738.79 L1090.00,738.88 L1089.65,739.15 L1089.30,739.66 L1088.95,740.47 L1088.60,741.64 L1088.25,743.26 L1087.90,745.41 L1087.55,746.53 L1087.20,745.75 L1086.85,745.13 L1086.50,744.74 L1086.15,744.67 L1085.80,744.98 L1085.45,745.73 L1085.10,746.96 L1084.75,748.71 L1084.40,750.98 L1084.05,753.75 L1083.70,751.21 L1083.35,749.12 L1083.00,747.50 L1082.65,746.38 L1082.30,745.74 L1081.95,745.57 L1081.60,745.81 L1081.25,746.41 L1080.90,747.31 L1080.55,748.40 L1080.20,747.25 L1079.85,744.84 L1079.50,742.98 L1079.15,741.61 L1078.80,740.65 L1078.45,740.02 L1078.10,739.65 L1077.75,739.46 L1077.40,739.41 L1077.05,739.46 L1076.70,739.37 L1076.35,738.31 L1076.00,737.94 L1075.65,737.91 L1075.30,738.01 L1074.95,738.28 L1074.60,738.74 L1074.25,739.46 L1073.90,740.49 L1073.55,741.90 L1073.20,743.74 L1072.85,743.87 L1072.50,743.27 L1072.15,742.81 L1071.80,742.56 L1071.45,742.58 L1071.10,742.93 L1070.75,743.63 L1070.40,744.73 L1070.05,746.25 L1069.70,748.18 L1069.35,749.19 L1069.00,747.26 L1068.65,745.70 L1068.30,744.52 L1067.95,743.74 L1067.60,743.34 L1067.25,743.31 L1066.90,743.60 L1066.55,744.16 L1066.20,744.94 L1065.85,745.87 L1065.50,744.09 L1065.15,742.30 L1064.80,740.93 L1064.45,739.94 L1064.10,739.26 L1063.75,738.83 L1063.40,738.60 L1063.05,738.51 L1062.70,738.52 L1062.35,738.60 L1062.00,738.25 L1061.65,737.47 L1061.30,737.33 L1060.95,737.32 L1060.60,737.42 L1060.25,737.67 L1059.90,738.10 L1059.55,738.75 L1059.20,739.67 L1058.85,740.91 L1058.50,742.51 L1058.15,741.95 L1057.80,741.47 L1057.45,741.13 L1057.10,740.97 L1056.75,741.05 L1056.40,741.41 L1056.05,742.06 L1055.70,743.05 L1055.35,744.37 L1055.00,746.02 L1054.65,745.86 L1054.30,744.38 L1053.95,743.21 L1053.60,742.35 L1053.25,741.81 L1052.90,741.58 L1052.55,741.64 L1052.20,741.95 L1051.85,742.48 L1051.50,743.17 L1051.15,743.58 L1050.80,741.85 L1050.45,740.50 L1050.10,739.49 L1049.75,738.76 L1049.40,738.28 L1049.05,737.99 L1048.70,737.86 L1048.35,737.83 L1048.00,737.89 L1047.65,738.01 L1047.30,737.49 L1046.95,737.01 L1046.60,736.93 L1046.25,736.95 L1045.90,737.07 L1045.55,737.33 L1045.20,737.76 L1044.85,738.39 L1044.50,739.27 L1044.15,740.43 L1043.80,741.32 L1043.45,740.84 L1043.10,740.45 L1042.75,740.20 L1042.40,740.12 L1042.05,740.26 L1041.70,740.64 L1041.35,741.29 L1041.00,742.22 L1040.65,743.44 L1040.30,744.95 L1039.95,743.96 L1039.60,742.76 L1039.25,741.82 L1038.90,741.16 L1038.55,740.77 L1038.20,740.64 L1037.85,740.75 L1037.50,741.07 L1037.15,741.56 L1036.80,742.18 L1036.45,741.87 L1036.10,740.48 L1035.75,739.40 L1035.40,738.60 L1035.05,738.04 L1034.70,737.67 L1034.35,737.46 L1034.00,737.37 L1033.65,737.38 L1033.30,737.45 L1032.95,737.58 L1032.60,736.91 L1032.25,736.60 L1031.90,736.53 L1031.55,736.55 L1031.20,736.68 L1030.85,736.92 L1030.50,737.31 L1030.15,737.87 L1029.80,738.64 L1029.45,739.66 L1029.10,739.92 L1028.75,739.54 L1028.40,739.25 L1028.05,739.08 L1027.70,739.06 L1027.35,739.22 L1027.00,739.59 L1026.65,740.16 L1026.30,740.97 L1025.95,742.00 L1025.60,742.89 L1025.25,741.80 L1024.90,740.91 L1024.55,740.23 L1024.20,739.76 L1023.85,739.52 L1023.50,739.47 L1023.15,739.61 L1022.80,739.91 L1022.45,740.35 L1022.10,740.87 L1021.75,740.13 L1021.40,739.10 L1021.05,738.30 L1020.70,737.71 L1020.35,737.31 L1020.00,737.06 L1019.65,736.93 L1019.30,736.89 L1018.95,736.93 L1018.60,737.04 L1018.25,736.97 L1017.90,736.45 L1017.55,736.33 L1017.20,736.30 L1016.85,736.35 L1016.50,736.50 L1016.15,736.77 L1015.80,737.17 L1015.45,737.75 L1015.10,738.52 L1014.75,739.52 L1014.40,739.36 L1014.05,739.04 L1013.70,738.82 L1013.35,738.71 L1013.00,738.74 L1012.65,738.95 L1012.30,739.34 L1011.95,739.93 L1011.60,740.73 L1011.25,741.73 L1010.90,741.94 L1010.55,741.00 L1010.20,740.24 L1009.85,739.67 L1009.50,739.31 L1009.15,739.13 L1008.80,739.14 L1008.45,739.31 L1008.10,739.61 L1007.75,740.03 L1007.40,740.53 L1007.05,739.41 L1006.70,738.52 L1006.35,737.84 L1006.00,737.34 L1005.65,737.01 L1005.30,736.81 L1004.95,736.71 L1004.60,736.70 L1004.25,736.76 L1003.90,736.88 L1003.55,736.62 L1003.20,736.24 L1002.85,736.16 L1002.50,736.15 L1002.15,736.22 L1001.80,736.39 L1001.45,736.67 L1001.10,737.09 L1000.75,737.67 L1000.40,738.44 L1000.05,739.22 L999.70,738.88 L999.35,738.62 L999.00,738.44 L998.65,738.38 L998.30,738.46 L997.95,738.70 L997.60,739.11 L997.25,739.70 L996.90,740.48 L996.55,741.45 L996.20,741.08 L995.85,740.27 L995.50,739.63 L995.15,739.17 L994.80,738.88 L994.45,738.76 L994.10,738.81 L993.75,739.00 L993.40,739.30 L993.05,739.70 L992.70,739.71 L992.35,738.75 L992.00,737.98 L991.65,737.41 L991.30,737.00 L990.95,736.72 L990.60,736.57 L990.25,736.50 L989.90,736.51 L989.55,736.58 L989.20,736.70 L988.85,736.29 L988.50,736.02 L988.15,735.95 L987.80,735.95 L987.45,736.03 L987.10,736.20 L986.75,736.47 L986.40,736.87 L986.05,737.42 L985.70,738.13 L985.35,738.48 L985.00,738.20 L984.65,737.99 L984.30,737.86 L983.95,737.84 L983.60,737.94 L983.25,738.19 L982.90,738.58 L982.55,739.13 L982.20,739.84 L981.85,740.70 L981.50,739.91 L981.15,739.26 L980.80,738.76 L980.45,738.41 L980.10,738.21 L979.75,738.15 L979.40,738.23 L979.05,738.42 L978.70,738.71 L978.35,739.07 L978.00,738.72 L977.65,737.94 L977.30,737.34 L976.95,736.88 L976.60,736.56 L976.25,736.36 L975.90,736.25 L975.55,736.22 L975.20,736.25 L974.85,736.34 L974.50,736.39 L974.15,735.97 L973.80,735.81 L973.45,735.77 L973.10,735.78 L972.75,735.88 L972.40,736.06 L972.05,736.34 L971.70,736.75 L971.35,737.28 L971.00,737.97 L970.65,738.00 L970.30,737.76 L969.95,737.59 L969.60,737.51 L969.25,737.52 L968.90,737.65 L968.55,737.91 L968.20,738.30 L967.85,738.84 L967.50,739.51 L967.15,739.86 L966.80,739.19 L966.45,738.65 L966.10,738.24 L965.75,737.96 L965.40,737.82 L965.05,737.80 L964.70,737.90 L964.35,738.09 L964.00,738.37 L963.65,738.72 L963.30,738.08 L962.95,737.43 L962.60,736.92 L962.25,736.54 L961.90,736.28 L961.55,736.12 L961.20,736.05 L960.85,736.04 L960.50,736.10 L960.15,736.20 L959.80,736.10 L959.45,735.77 L959.10,735.68 L958.75,735.65 L958.40,735.70 L958.05,735.82 L957.70,736.02 L957.35,736.33 L957.00,736.76 L956.65,737.33 L956.30,738.04 L955.95,737.78 L955.60,737.58 L955.25,737.45 L954.90,737.40 L954.55,737.45 L954.20,737.62 L953.85,737.90 L953.50,738.32 L953.15,738.87 L952.80,739.55 L952.45,739.49 L952.10,738.89 L951.75,738.40 L951.40,738.05 L951.05,737.82 L950.70,737.71 L950.35,737.72 L950.00,737.83 L949.65,738.04 L949.30,738.32 L948.95,738.48 L948.60,737.74 L948.25,737.15 L947.90,736.69 L947.55,736.35 L947.20,736.13 L946.85,735.99 L946.50,735.93 L946.15,735.94 L945.80,736.00 L945.45,736.11 L945.10,735.86 L944.75,735.60 L944.40,735.52 L944.05,735.51 L943.70,735.57 L943.35,735.70 L943.00,735.91 L942.65,736.22 L942.30,736.64 L941.95,737.19 L941.60,737.59 L941.25,737.37 L940.90,737.20 L940.55,737.10 L940.20,737.08 L939.85,737.16 L939.50,737.34 L939.15,737.63 L938.80,738.03 L938.45,738.55 L938.10,739.19 L937.75,738.78 L937.40,738.27 L937.05,737.87 L936.70,737.59 L936.35,737.41 L936.00,737.34 L935.65,737.38 L935.30,737.50 L934.95,737.70 L934.60,737.96 L934.25,737.82 L933.90,737.20 L933.55,736.70 L933.20,736.32 L932.85,736.04 L932.50,735.86 L932.15,735.76 L931.80,735.72 L931.45,735.74 L931.10,735.82 L930.75,735.94 L930.40,735.57 L930.05,735.38 L929.70,735.31 L929.35,735.30 L929.00,735.36 L928.65,735.48 L928.30,735.68 L927.95,735.96 L927.60,736.34 L927.25,736.83 L926.90,736.94 L926.55,736.75 L926.20,736.62 L925.85,736.55 L925.50,736.55 L925.15,736.63 L924.80,736.80 L924.45,737.06 L924.10,737.41 L923.75,737.86 L923.40,738.25 L923.05,737.77 L922.70,737.39 L922.35,737.09 L922.00,736.89 L921.65,736.77 L921.30,736.74 L920.95,736.79 L920.60,736.92 L920.25,737.11 L919.90,737.35 L919.55,737.02 L919.20,736.53 L918.85,736.15 L918.50,735.86 L918.15,735.66 L917.80,735.53 L917.45,735.48 L917.10,735.47 L916.75,735.53 L916.40,735.63 L916.05,735.63 L915.70,735.33 L915.35,735.23 L915.00,735.19 L914.65,735.20 L914.30,735.28 L913.95,735.42 L913.60,735.64 L913.25,735.94 L912.90,736.34 L912.55,736.84 L912.20,736.75 L911.85,736.59 L911.50,736.48 L911.15,736.44 L910.80,736.47 L910.45,736.58 L910.10,736.77 L909.75,737.04 L909.40,737.41 L909.05,737.87 L908.70,737.96 L908.35,737.54 L908.00,737.19 L907.65,736.93 L907.30,736.76 L906.95,736.67 L906.60,736.66 L906.25,736.73 L905.90,736.86 L905.55,737.05 L905.20,737.29 L904.85,736.74 L904.50,736.31 L904.15,735.96 L903.80,735.70 L903.45,735.53 L903.10,735.42 L902.75,735.37 L902.40,735.38 L902.05,735.44 L901.70,735.55 L901.35,735.42 L901.00,735.17 L900.65,735.09 L900.30,735.05 L899.95,735.08 L899.60,735.16 L899.25,735.30 L898.90,735.52 L898.55,735.81 L898.20,736.19 L897.85,736.56 L897.50,736.38 L897.15,736.24 L896.80,736.16 L896.45,736.14 L896.10,736.18 L895.75,736.29 L895.40,736.48 L895.05,736.75 L894.70,737.09 L894.35,737.51 L894.00,737.35 L893.65,736.99 L893.30,736.71 L892.95,736.51 L892.60,736.38 L892.25,736.32 L891.90,736.33 L891.55,736.41 L891.20,736.54 L890.85,736.73 L890.50,736.74 L890.15,736.29 L889.80,735.92 L889.45,735.64 L889.10,735.43 L888.75,735.29 L888.40,735.22 L888.05,735.20 L887.70,735.23 L887.35,735.31 L887.00,735.43 L886.65,735.20 L886.30,735.01 L885.95,734.93 L885.60,734.91 L885.25,734.94 L884.90,735.02 L884.55,735.17 L884.20,735.38 L883.85,735.66 L883.50,736.02 L883.15,736.18 L882.80,736.02 L882.45,735.91 L882.10,735.84 L881.75,735.84 L881.40,735.89 L881.05,736.00 L880.70,736.19 L880.35,736.44 L880.00,736.75 L879.65,737.14 L879.30,736.79 L878.95,736.50 L878.60,736.27 L878.25,736.11 L877.90,736.02 L877.55,735.99 L877.20,736.01 L876.85,736.10 L876.50,736.24 L876.15,736.42 L875.80,736.26 L875.45,735.88 L875.10,735.58 L874.75,735.36 L874.40,735.19 L874.05,735.09 L873.70,735.04 L873.35,735.04 L873.00,735.10 L872.65,735.19 L872.30,735.27 L871.95,735.01 L871.60,734.89 L871.25,734.83 L870.90,734.82 L870.55,734.87 L870.20,734.97 L869.85,735.13 L869.50,735.36 L869.15,735.65 L868.80,736.02 L868.45,736.02 L868.10,735.88 L867.75,735.79 L867.40,735.75 L867.05,735.76 L866.70,735.83 L866.35,735.97 L866.00,736.16 L865.65,736.42 L865.30,736.74 L864.95,736.90 L864.60,736.59 L864.25,736.33 L863.90,736.13 L863.55,735.99 L863.20,735.92 L862.85,735.90 L862.50,735.94 L862.15,736.03 L861.80,736.16 L861.45,736.34 L861.10,736.02 L860.75,735.68 L860.40,735.41 L860.05,735.20 L859.70,735.06 L859.35,734.97 L859.00,734.93 L858.65,734.94 L858.30,735.00 L857.95,735.10 L857.60,735.06 L857.25,734.82 L856.90,734.68 L856.55,734.61 L856.20,734.59 L855.85,734.61 L855.50,734.68 L855.15,734.80 L854.80,734.97 L854.45,735.19 L854.10,735.47 L853.75,735.30 L853.40,735.17 L853.05,735.08 L852.70,735.03 L852.35,735.03 L852.00,735.08 L851.65,735.17 L851.30,735.32 L850.95,735.51 L850.60,735.74 L850.25,735.71 L849.90,735.49 L849.55,735.32 L849.20,735.20 L848.85,735.12 L848.50,735.09 L848.15,735.10 L847.80,735.16 L847.45,735.26 L847.10,735.40 L846.75,735.51 L846.40,735.23 L846.05,735.01 L845.70,734.84 L845.35,734.72 L845.00,734.64 L844.65,734.61 L844.30,734.63 L843.95,734.69 L843.60,734.79 L843.25,734.93 L842.90,734.81 L842.55,734.63 L842.20,734.49 L841.85,734.40 L841.50,734.36Z"/>
</svg></body></html>
